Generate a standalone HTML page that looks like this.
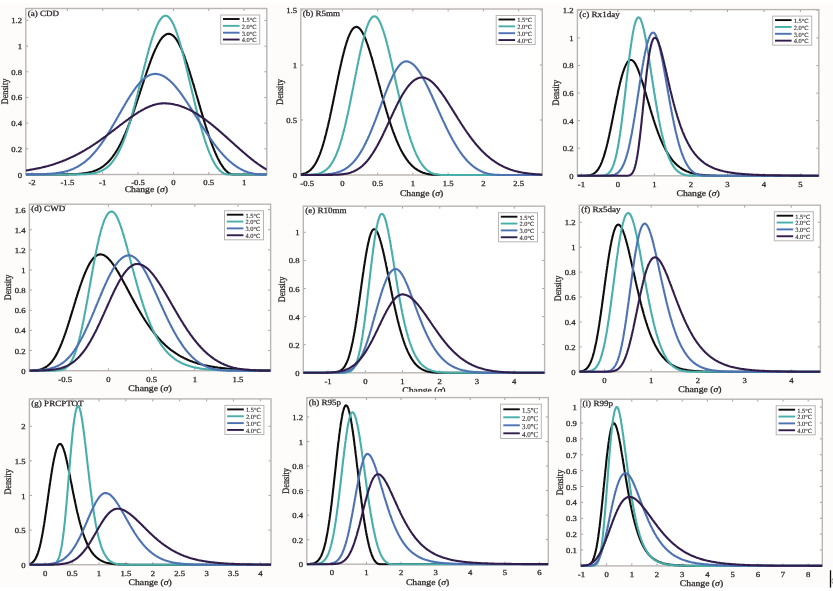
<!DOCTYPE html>
<html><head><meta charset="utf-8"><style>
html,body{margin:0;padding:0;background:#fdfcfa;}
svg{display:block;font-family:"Liberation Serif",serif;}
text{text-rendering:geometricPrecision;stroke:#2a2627;stroke-width:0.25px;}
text.lg{stroke-width:0.1px;}
</style></head><body>
<svg width="833" height="591" viewBox="0 0 833 591">
<defs><filter id="bl" x="0" y="0" width="833" height="591" filterUnits="userSpaceOnUse"><feGaussianBlur stdDeviation="0.5"/></filter></defs>
<g filter="url(#bl)">
<rect width="833" height="591" fill="#fdfcfa"/>
<rect width="833" height="3" fill="#fff"/><rect y="588" width="833" height="3" fill="#fff"/>
<rect x="25.8" y="8.5" width="241.00" height="166.00" fill="#fff"/>
<clipPath id="clipa"><rect x="25.8" y="7.5" width="241.00" height="168.60"/></clipPath>
<path d="M32.00,174.50v-2.4M32.00,8.50v2.4M67.35,174.50v-2.4M67.35,8.50v2.4M102.70,174.50v-2.4M102.70,8.50v2.4M138.05,174.50v-2.4M138.05,8.50v2.4M173.40,174.50v-2.4M173.40,8.50v2.4M208.75,174.50v-2.4M208.75,8.50v2.4M244.10,174.50v-2.4M244.10,8.50v2.4M25.80,174.50h2.4M266.80,174.50h-2.4M25.80,148.82h2.4M266.80,148.82h-2.4M25.80,123.14h2.4M266.80,123.14h-2.4M25.80,97.46h2.4M266.80,97.46h-2.4M25.80,71.78h2.4M266.80,71.78h-2.4M25.80,46.10h2.4M266.80,46.10h-2.4M25.80,20.42h2.4M266.80,20.42h-2.4" stroke="#8a8684" stroke-width="0.8" fill="none"/>
<rect x="25.8" y="8.5" width="241.00" height="166.00" fill="none" stroke="#b9b5b3" stroke-width="1.4"/>
<g clip-path="url(#clipa)" fill="none" stroke-width="2.1" stroke-linejoin="round">
<path d="M25.8,174.5 L26.7,174.5 L27.6,174.5 L28.5,174.5 L29.4,174.5 L30.3,174.5 L31.2,174.5 L32.1,174.5 L33.0,174.5 L33.9,174.5 L34.8,174.5 L35.7,174.5 L36.6,174.5 L37.5,174.5 L38.4,174.5 L39.3,174.5 L40.2,174.5 L41.1,174.5 L42.0,174.5 L42.9,174.5 L43.8,174.5 L44.7,174.5 L45.6,174.5 L46.5,174.5 L47.4,174.5 L48.3,174.5 L49.2,174.5 L50.1,174.5 L51.0,174.5 L51.9,174.5 L52.8,174.5 L53.7,174.5 L54.6,174.5 L55.5,174.5 L56.4,174.5 L57.3,174.5 L58.2,174.5 L59.1,174.5 L60.0,174.5 L60.9,174.5 L61.8,174.4 L62.7,174.4 L63.6,174.4 L64.5,174.4 L65.4,174.4 L66.3,174.4 L67.2,174.4 L68.1,174.4 L69.0,174.3 L69.9,174.3 L70.8,174.3 L71.7,174.3 L72.6,174.2 L73.5,174.2 L74.4,174.2 L75.3,174.1 L76.2,174.1 L77.1,174.0 L78.0,174.0 L78.9,173.9 L79.8,173.8 L80.7,173.7 L81.6,173.6 L82.5,173.5 L83.4,173.4 L84.3,173.3 L85.2,173.2 L86.0,173.0 L86.9,172.9 L87.8,172.7 L88.7,172.5 L89.6,172.3 L90.5,172.1 L91.3,171.9 L92.2,171.7 L93.0,171.4 L93.9,171.1 L94.7,170.8 L95.6,170.5 L96.4,170.1 L97.2,169.8 L98.0,169.4 L98.9,169.0 L99.6,168.5 L100.4,168.1 L101.2,167.6 L101.9,167.1 L102.7,166.6 L103.4,166.1 L104.1,165.5 L104.8,165.0 L105.5,164.4 L106.2,163.8 L106.9,163.2 L107.5,162.6 L108.2,161.9 L108.8,161.3 L109.4,160.6 L110.0,160.0 L110.6,159.3 L111.1,158.6 L111.7,157.9 L112.3,157.2 L112.8,156.5 L113.3,155.7 L113.9,155.0 L114.4,154.2 L114.9,153.5 L115.4,152.7 L115.9,152.0 L116.3,151.2 L116.8,150.5 L117.3,149.7 L117.7,148.9 L118.2,148.1 L118.6,147.4 L119.0,146.6 L119.5,145.7 L119.9,144.9 L120.3,144.2 L120.7,143.4 L121.1,142.6 L121.5,141.8 L121.9,140.9 L122.3,140.1 L122.7,139.3 L123.1,138.5 L123.4,137.7 L123.8,136.8 L124.2,136.0 L124.5,135.2 L124.9,134.4 L125.3,133.6 L125.6,132.7 L126.0,131.9 L126.3,131.1 L126.6,130.3 L127.0,129.4 L127.3,128.6 L127.7,127.7 L128.0,126.9 L128.3,126.1 L128.6,125.2 L129.0,124.4 L129.3,123.6 L129.6,122.7 L129.9,121.9 L130.2,121.0 L130.5,120.2 L130.9,119.3 L131.2,118.5 L131.5,117.6 L131.8,116.8 L132.1,115.9 L132.4,115.1 L132.7,114.2 L133.0,113.4 L133.3,112.5 L133.6,111.7 L133.9,110.9 L134.2,110.0 L134.5,109.1 L134.7,108.3 L135.0,107.4 L135.3,106.6 L135.6,105.8 L135.9,104.9 L136.2,104.0 L136.5,103.2 L136.8,102.3 L137.0,101.4 L137.3,100.6 L137.6,99.7 L137.9,98.9 L138.2,98.0 L138.4,97.2 L138.7,96.3 L139.0,95.5 L139.3,94.6 L139.6,93.8 L139.8,92.9 L140.1,92.0 L140.4,91.2 L140.7,90.3 L141.0,89.5 L141.2,88.6 L141.5,87.8 L141.8,86.9 L142.1,86.1 L142.3,85.2 L142.6,84.4 L142.9,83.5 L143.2,82.7 L143.5,81.8 L143.7,80.9 L144.0,80.1 L144.3,79.2 L144.6,78.3 L144.9,77.5 L145.2,76.6 L145.4,75.8 L145.7,75.0 L146.0,74.1 L146.3,73.3 L146.6,72.4 L146.9,71.5 L147.2,70.7 L147.5,69.9 L147.8,69.0 L148.1,68.1 L148.4,67.3 L148.7,66.4 L149.0,65.6 L149.3,64.7 L149.6,63.9 L149.9,63.1 L150.2,62.2 L150.5,61.3 L150.8,60.5 L151.1,59.7 L151.4,58.8 L151.8,58.0 L152.1,57.1 L152.4,56.3 L152.8,55.5 L153.1,54.6 L153.4,53.8 L153.8,53.0 L154.1,52.2 L154.5,51.3 L154.9,50.5 L155.2,49.7 L155.6,48.9 L156.0,48.1 L156.4,47.2 L156.8,46.5 L157.2,45.6 L157.6,44.9 L158.0,44.0 L158.5,43.2 L158.9,42.5 L159.4,41.7 L159.8,40.9 L160.3,40.2 L160.8,39.5 L161.4,38.7 L161.9,38.0 L162.5,37.3 L163.1,36.7 L163.8,36.1 L164.5,35.5 L165.2,35.0 L166.0,34.5 L166.8,34.1 L167.7,33.9 L168.6,33.8 L169.5,33.9 L170.3,34.1 L171.2,34.4 L171.9,34.8 L172.7,35.4 L173.4,36.0 L174.0,36.6 L174.6,37.2 L175.2,37.9 L175.8,38.7 L176.3,39.4 L176.8,40.1 L177.3,40.9 L177.7,41.7 L178.2,42.4 L178.6,43.2 L179.0,44.0 L179.4,44.8 L179.8,45.6 L180.2,46.5 L180.6,47.3 L181.0,48.1 L181.4,48.9 L181.7,49.7 L182.1,50.5 L182.4,51.4 L182.8,52.2 L183.1,53.1 L183.4,53.9 L183.7,54.7 L184.1,55.5 L184.4,56.4 L184.7,57.3 L185.0,58.1 L185.3,59.0 L185.6,59.8 L185.9,60.7 L186.2,61.5 L186.5,62.3 L186.8,63.2 L187.1,64.0 L187.4,64.9 L187.7,65.8 L187.9,66.6 L188.2,67.5 L188.5,68.3 L188.8,69.2 L189.0,70.0 L189.3,70.9 L189.6,71.7 L189.9,72.6 L190.1,73.5 L190.4,74.4 L190.7,75.2 L190.9,76.0 L191.2,76.9 L191.4,77.8 L191.7,78.6 L192.0,79.5 L192.2,80.3 L192.5,81.2 L192.7,82.1 L193.0,83.0 L193.3,83.8 L193.5,84.7 L193.8,85.5 L194.0,86.4 L194.3,87.2 L194.5,88.1 L194.8,89.0 L195.0,89.8 L195.3,90.7 L195.5,91.6 L195.8,92.5 L196.0,93.3 L196.3,94.2 L196.5,95.0 L196.8,95.9 L197.0,96.7 L197.3,97.6 L197.5,98.5 L197.8,99.4 L198.0,100.2 L198.3,101.1 L198.5,101.9 L198.8,102.8 L199.0,103.7 L199.3,104.6 L199.5,105.4 L199.8,106.3 L200.0,107.2 L200.3,108.0 L200.5,108.9 L200.8,109.8 L201.0,110.6 L201.3,111.5 L201.6,112.4 L201.8,113.2 L202.1,114.0 L202.3,114.9 L202.6,115.8 L202.8,116.7 L203.1,117.5 L203.4,118.4 L203.6,119.2 L203.9,120.1 L204.1,121.0 L204.4,121.8 L204.7,122.7 L204.9,123.6 L205.2,124.4 L205.5,125.2 L205.7,126.1 L206.0,126.9 L206.3,127.8 L206.6,128.7 L206.8,129.5 L207.1,130.4 L207.4,131.2 L207.7,132.1 L207.9,132.9 L208.2,133.8 L208.5,134.7 L208.8,135.5 L209.1,136.4 L209.4,137.2 L209.7,138.1 L210.0,138.9 L210.3,139.8 L210.6,140.6 L210.9,141.5 L211.2,142.3 L211.5,143.2 L211.8,144.0 L212.1,144.8 L212.4,145.7 L212.8,146.5 L213.1,147.4 L213.4,148.2 L213.8,149.0 L214.1,149.9 L214.4,150.7 L214.8,151.5 L215.1,152.4 L215.5,153.2 L215.9,154.0 L216.2,154.8 L216.6,155.7 L217.0,156.5 L217.4,157.3 L217.7,158.1 L218.1,158.9 L218.6,159.7 L219.0,160.5 L219.4,161.3 L219.8,162.1 L220.3,162.9 L220.7,163.6 L221.2,164.4 L221.7,165.2 L222.2,165.9 L222.7,166.7 L223.2,167.4 L223.7,168.1 L224.3,168.8 L224.9,169.5 L225.5,170.2 L226.1,170.8 L226.8,171.4 L227.4,172.0 L228.1,172.6 L228.9,173.1 L229.7,173.5 L230.5,173.9 L231.3,174.2 L232.2,174.4 L233.1,174.5 L234.0,174.5 L234.9,174.5 L235.8,174.5 L236.7,174.5 L237.6,174.5 L238.5,174.5 L239.4,174.5 L240.3,174.5 L241.2,174.5 L242.1,174.5 L243.0,174.5 L243.9,174.5 L244.8,174.5 L245.7,174.5 L246.6,174.5 L247.5,174.5 L248.4,174.5 L249.3,174.5 L250.2,174.5 L251.1,174.5 L252.0,174.5 L252.9,174.5 L253.8,174.5 L254.7,174.5 L255.6,174.5 L256.5,174.5 L257.4,174.5 L258.3,174.5 L259.2,174.5 L260.1,174.5 L261.0,174.5 L261.9,174.5 L262.8,174.5 L263.7,174.5 L264.6,174.5 L265.5,174.5 L266.4,174.5 L266.8,174.5" stroke="#0e0c0d"/>
<path d="M25.8,174.5 L26.7,174.5 L27.6,174.5 L28.5,174.5 L29.4,174.5 L30.3,174.5 L31.2,174.5 L32.1,174.5 L33.0,174.5 L33.9,174.5 L34.8,174.5 L35.7,174.5 L36.6,174.5 L37.5,174.5 L38.4,174.5 L39.3,174.5 L40.2,174.5 L41.1,174.5 L42.0,174.5 L42.9,174.5 L43.8,174.5 L44.7,174.5 L45.6,174.5 L46.5,174.5 L47.4,174.5 L48.3,174.5 L49.2,174.5 L50.1,174.5 L51.0,174.5 L51.9,174.5 L52.8,174.5 L53.7,174.5 L54.6,174.5 L55.5,174.5 L56.4,174.5 L57.3,174.5 L58.2,174.5 L59.1,174.5 L60.0,174.5 L60.9,174.5 L61.8,174.5 L62.7,174.5 L63.6,174.5 L64.5,174.5 L65.4,174.5 L66.3,174.5 L67.2,174.5 L68.1,174.5 L69.0,174.5 L69.9,174.5 L70.8,174.5 L71.7,174.5 L72.6,174.5 L73.5,174.5 L74.4,174.4 L75.3,174.4 L76.2,174.4 L77.1,174.4 L78.0,174.4 L78.9,174.4 L79.8,174.4 L80.7,174.3 L81.6,174.3 L82.5,174.3 L83.4,174.2 L84.3,174.2 L85.2,174.1 L86.1,174.1 L87.0,174.0 L87.9,173.9 L88.8,173.9 L89.7,173.8 L90.6,173.7 L91.5,173.5 L92.4,173.4 L93.3,173.3 L94.1,173.1 L95.0,172.9 L95.9,172.7 L96.8,172.5 L97.6,172.2 L98.5,172.0 L99.3,171.7 L100.2,171.3 L101.0,171.0 L101.8,170.6 L102.6,170.2 L103.4,169.8 L104.2,169.3 L105.0,168.9 L105.7,168.3 L106.4,167.8 L107.1,167.3 L107.8,166.7 L108.5,166.1 L109.2,165.5 L109.8,164.8 L110.4,164.2 L111.0,163.5 L111.6,162.8 L112.2,162.1 L112.8,161.4 L113.3,160.7 L113.8,160.0 L114.3,159.3 L114.8,158.5 L115.3,157.8 L115.8,157.0 L116.3,156.2 L116.7,155.5 L117.2,154.7 L117.6,153.9 L118.1,153.1 L118.5,152.3 L118.9,151.5 L119.3,150.7 L119.7,149.9 L120.1,149.1 L120.5,148.2 L120.8,147.4 L121.2,146.6 L121.6,145.8 L121.9,144.9 L122.3,144.1 L122.6,143.3 L122.9,142.5 L123.3,141.6 L123.6,140.8 L123.9,139.9 L124.3,139.1 L124.6,138.3 L124.9,137.4 L125.2,136.6 L125.5,135.7 L125.8,134.8 L126.1,134.0 L126.4,133.2 L126.7,132.3 L127.0,131.5 L127.2,130.6 L127.5,129.8 L127.8,128.9 L128.1,128.0 L128.4,127.2 L128.6,126.3 L128.9,125.4 L129.2,124.6 L129.4,123.7 L129.7,122.9 L129.9,122.0 L130.2,121.2 L130.5,120.3 L130.7,119.5 L131.0,118.6 L131.2,117.7 L131.5,116.8 L131.7,116.0 L132.0,115.1 L132.2,114.2 L132.4,113.4 L132.7,112.5 L132.9,111.6 L133.2,110.7 L133.4,109.9 L133.6,109.1 L133.9,108.2 L134.1,107.3 L134.3,106.4 L134.6,105.5 L134.8,104.7 L135.0,103.8 L135.2,103.0 L135.5,102.0 L135.7,101.2 L135.9,100.3 L136.1,99.5 L136.4,98.6 L136.6,97.7 L136.8,96.8 L137.0,96.0 L137.3,95.1 L137.5,94.2 L137.7,93.4 L137.9,92.5 L138.1,91.6 L138.4,90.7 L138.6,89.9 L138.8,89.0 L139.0,88.1 L139.2,87.2 L139.5,86.3 L139.7,85.5 L139.9,84.7 L140.1,83.8 L140.3,82.9 L140.5,82.0 L140.8,81.1 L141.0,80.2 L141.2,79.4 L141.4,78.5 L141.6,77.6 L141.8,76.8 L142.1,75.9 L142.3,75.0 L142.5,74.2 L142.7,73.3 L142.9,72.4 L143.1,71.5 L143.4,70.6 L143.6,69.8 L143.8,68.9 L144.0,68.0 L144.2,67.1 L144.5,66.3 L144.7,65.4 L144.9,64.5 L145.1,63.7 L145.3,62.8 L145.6,62.0 L145.8,61.0 L146.0,60.2 L146.2,59.3 L146.5,58.4 L146.7,57.6 L146.9,56.7 L147.2,55.8 L147.4,54.9 L147.6,54.1 L147.9,53.2 L148.1,52.3 L148.3,51.5 L148.6,50.6 L148.8,49.7 L149.1,48.9 L149.3,48.0 L149.5,47.2 L149.8,46.3 L150.0,45.4 L150.3,44.5 L150.6,43.7 L150.8,42.9 L151.1,42.0 L151.3,41.1 L151.6,40.2 L151.9,39.4 L152.1,38.5 L152.4,37.7 L152.7,36.8 L153.0,36.0 L153.3,35.1 L153.6,34.3 L153.9,33.4 L154.2,32.6 L154.5,31.7 L154.8,30.9 L155.1,30.0 L155.4,29.2 L155.8,28.4 L156.1,27.6 L156.5,26.7 L156.8,25.9 L157.2,25.1 L157.6,24.3 L158.0,23.5 L158.4,22.7 L158.8,21.9 L159.3,21.1 L159.8,20.4 L160.3,19.6 L160.8,18.9 L161.4,18.2 L162.0,17.5 L162.7,16.9 L163.4,16.4 L164.2,16.0 L165.1,15.8 L166.0,15.8 L166.9,16.0 L167.7,16.4 L168.4,16.9 L169.1,17.5 L169.7,18.2 L170.3,18.9 L170.8,19.6 L171.3,20.3 L171.7,21.1 L172.2,21.9 L172.6,22.7 L173.0,23.5 L173.4,24.3 L173.8,25.1 L174.1,25.9 L174.5,26.8 L174.8,27.6 L175.2,28.5 L175.5,29.3 L175.8,30.1 L176.1,31.0 L176.4,31.9 L176.7,32.7 L177.0,33.5 L177.3,34.4 L177.6,35.3 L177.9,36.1 L178.1,36.9 L178.4,37.8 L178.7,38.7 L178.9,39.5 L179.2,40.4 L179.5,41.2 L179.7,42.1 L180.0,43.0 L180.2,43.8 L180.5,44.7 L180.7,45.6 L181.0,46.5 L181.2,47.3 L181.4,48.2 L181.7,49.0 L181.9,49.9 L182.1,50.8 L182.4,51.6 L182.6,52.6 L182.8,53.4 L183.0,54.2 L183.3,55.2 L183.5,56.0 L183.7,56.9 L183.9,57.8 L184.2,58.6 L184.4,59.5 L184.6,60.4 L184.8,61.3 L185.0,62.2 L185.2,63.0 L185.5,63.9 L185.7,64.8 L185.9,65.7 L186.1,66.5 L186.3,67.4 L186.5,68.2 L186.7,69.1 L186.9,70.0 L187.2,70.9 L187.4,71.7 L187.6,72.6 L187.8,73.5 L188.0,74.4 L188.2,75.2 L188.4,76.2 L188.6,77.0 L188.8,77.9 L189.0,78.8 L189.2,79.6 L189.4,80.5 L189.7,81.4 L189.9,82.3 L190.1,83.1 L190.3,84.0 L190.5,84.9 L190.7,85.7 L190.9,86.7 L191.1,87.5 L191.3,88.4 L191.5,89.3 L191.7,90.1 L191.9,91.0 L192.1,91.9 L192.3,92.8 L192.6,93.7 L192.8,94.5 L193.0,95.4 L193.2,96.3 L193.4,97.1 L193.6,98.0 L193.8,98.9 L194.0,99.8 L194.2,100.6 L194.4,101.5 L194.7,102.4 L194.9,103.3 L195.1,104.2 L195.3,105.1 L195.5,105.9 L195.7,106.8 L195.9,107.7 L196.2,108.6 L196.4,109.4 L196.6,110.2 L196.8,111.1 L197.0,112.0 L197.2,112.9 L197.5,113.7 L197.7,114.7 L197.9,115.5 L198.1,116.4 L198.4,117.2 L198.6,118.1 L198.8,119.0 L199.1,119.9 L199.3,120.7 L199.5,121.6 L199.7,122.4 L200.0,123.3 L200.2,124.2 L200.5,125.1 L200.7,125.9 L200.9,126.8 L201.2,127.7 L201.4,128.5 L201.7,129.4 L201.9,130.3 L202.2,131.1 L202.4,132.0 L202.7,132.9 L202.9,133.7 L203.2,134.6 L203.4,135.4 L203.7,136.3 L204.0,137.2 L204.2,138.0 L204.5,138.9 L204.8,139.8 L205.1,140.6 L205.3,141.4 L205.6,142.3 L205.9,143.2 L206.2,144.0 L206.5,144.9 L206.8,145.7 L207.1,146.6 L207.4,147.4 L207.7,148.2 L208.0,149.1 L208.3,149.9 L208.7,150.8 L209.0,151.6 L209.3,152.4 L209.7,153.3 L210.0,154.1 L210.4,154.9 L210.7,155.8 L211.1,156.6 L211.5,157.4 L211.8,158.2 L212.2,159.0 L212.6,159.8 L213.0,160.6 L213.4,161.4 L213.9,162.2 L214.3,163.0 L214.8,163.8 L215.2,164.5 L215.7,165.3 L216.2,166.1 L216.7,166.8 L217.2,167.5 L217.8,168.3 L218.4,168.9 L219.0,169.6 L219.6,170.3 L220.2,170.9 L220.9,171.5 L221.6,172.0 L222.3,172.6 L223.1,173.0 L223.9,173.4 L224.7,173.8 L225.6,174.1 L226.5,174.3 L227.4,174.4 L228.3,174.5 L229.2,174.5 L230.1,174.5 L231.0,174.5 L231.9,174.5 L232.8,174.5 L233.7,174.5 L234.6,174.5 L235.5,174.5 L236.4,174.5 L237.3,174.5 L238.2,174.5 L239.1,174.5 L240.0,174.5 L240.9,174.5 L241.8,174.5 L242.7,174.5 L243.6,174.5 L244.5,174.5 L245.4,174.5 L246.3,174.5 L247.2,174.5 L248.1,174.5 L249.0,174.5 L249.9,174.5 L250.8,174.5 L251.7,174.5 L252.6,174.5 L253.5,174.5 L254.4,174.5 L255.3,174.5 L256.2,174.5 L257.1,174.5 L258.0,174.5 L258.9,174.5 L259.8,174.5 L260.7,174.5 L261.6,174.5 L262.5,174.5 L263.4,174.5 L264.3,174.5 L265.2,174.5 L266.1,174.5 L266.8,174.5" stroke="#47aeaa"/>
<path d="M25.8,174.5 L26.7,174.5 L27.6,174.4 L28.5,174.4 L29.4,174.4 L30.3,174.4 L31.2,174.4 L32.1,174.4 L33.0,174.4 L33.9,174.4 L34.8,174.4 L35.7,174.4 L36.6,174.3 L37.5,174.3 L38.4,174.3 L39.3,174.3 L40.2,174.3 L41.1,174.2 L42.0,174.2 L42.9,174.2 L43.8,174.1 L44.7,174.1 L45.6,174.0 L46.5,174.0 L47.4,173.9 L48.3,173.9 L49.2,173.8 L50.1,173.8 L51.0,173.7 L51.9,173.6 L52.8,173.5 L53.7,173.5 L54.6,173.4 L55.5,173.2 L56.4,173.1 L57.3,173.0 L58.1,172.9 L59.0,172.8 L59.9,172.6 L60.8,172.5 L61.7,172.3 L62.6,172.1 L63.5,171.9 L64.3,171.7 L65.2,171.5 L66.1,171.3 L66.9,171.0 L67.8,170.8 L68.7,170.5 L69.5,170.2 L70.4,169.9 L71.2,169.6 L72.1,169.3 L72.9,169.0 L73.7,168.6 L74.5,168.2 L75.3,167.8 L76.2,167.4 L77.0,167.0 L77.7,166.6 L78.5,166.2 L79.3,165.7 L80.1,165.2 L80.8,164.7 L81.6,164.2 L82.3,163.7 L83.1,163.2 L83.8,162.7 L84.5,162.1 L85.2,161.6 L85.9,161.0 L86.6,160.4 L87.3,159.8 L87.9,159.2 L88.6,158.6 L89.3,158.0 L89.9,157.4 L90.5,156.7 L91.2,156.1 L91.8,155.5 L92.4,154.8 L93.0,154.1 L93.6,153.5 L94.2,152.8 L94.8,152.1 L95.4,151.4 L96.0,150.7 L96.5,150.0 L97.1,149.3 L97.7,148.6 L98.2,147.9 L98.8,147.2 L99.3,146.5 L99.8,145.8 L100.4,145.0 L100.9,144.3 L101.4,143.6 L101.9,142.8 L102.5,142.1 L103.0,141.4 L103.5,140.6 L104.0,139.8 L104.5,139.1 L105.0,138.4 L105.5,137.6 L105.9,136.9 L106.4,136.1 L106.9,135.3 L107.4,134.6 L107.9,133.8 L108.3,133.0 L108.8,132.3 L109.3,131.5 L109.7,130.8 L110.2,130.0 L110.7,129.2 L111.1,128.4 L111.6,127.6 L112.1,126.9 L112.5,126.1 L113.0,125.3 L113.4,124.5 L113.9,123.8 L114.3,123.0 L114.8,122.2 L115.2,121.4 L115.7,120.7 L116.1,119.8 L116.6,119.1 L117.0,118.3 L117.5,117.5 L117.9,116.7 L118.3,116.0 L118.8,115.2 L119.2,114.4 L119.7,113.6 L120.1,112.8 L120.6,112.1 L121.0,111.2 L121.5,110.5 L121.9,109.7 L122.4,108.9 L122.8,108.1 L123.3,107.3 L123.7,106.6 L124.2,105.8 L124.6,105.0 L125.1,104.3 L125.5,103.5 L126.0,102.7 L126.4,101.9 L126.9,101.2 L127.4,100.4 L127.8,99.6 L128.3,98.8 L128.8,98.1 L129.3,97.3 L129.7,96.6 L130.2,95.8 L130.7,95.0 L131.2,94.3 L131.7,93.5 L132.2,92.8 L132.7,92.0 L133.2,91.3 L133.7,90.6 L134.2,89.8 L134.8,89.1 L135.3,88.4 L135.8,87.7 L136.4,86.9 L136.9,86.2 L137.5,85.5 L138.1,84.8 L138.7,84.1 L139.2,83.5 L139.8,82.8 L140.4,82.1 L141.1,81.5 L141.7,80.8 L142.4,80.2 L143.0,79.6 L143.7,79.0 L144.4,78.4 L145.1,77.9 L145.8,77.3 L146.6,76.8 L147.3,76.3 L148.1,75.9 L148.9,75.5 L149.7,75.1 L150.5,74.8 L151.4,74.5 L152.3,74.3 L153.2,74.1 L154.0,74.0 L154.9,73.9 L155.8,73.9 L156.7,74.0 L157.6,74.1 L158.5,74.3 L159.4,74.5 L160.3,74.7 L161.1,75.0 L161.9,75.4 L162.8,75.8 L163.6,76.2 L164.3,76.6 L165.1,77.1 L165.9,77.6 L166.6,78.1 L167.3,78.6 L168.0,79.2 L168.7,79.8 L169.4,80.3 L170.1,80.9 L170.7,81.6 L171.4,82.2 L172.0,82.8 L172.7,83.5 L173.3,84.1 L173.9,84.8 L174.5,85.4 L175.1,86.1 L175.7,86.8 L176.2,87.5 L176.8,88.2 L177.4,88.9 L177.9,89.6 L178.5,90.3 L179.1,91.0 L179.6,91.7 L180.1,92.4 L180.7,93.2 L181.2,93.9 L181.7,94.6 L182.3,95.4 L182.8,96.1 L183.3,96.8 L183.8,97.6 L184.3,98.3 L184.8,99.0 L185.3,99.8 L185.8,100.6 L186.3,101.3 L186.8,102.0 L187.3,102.8 L187.8,103.6 L188.3,104.3 L188.8,105.1 L189.3,105.8 L189.8,106.6 L190.3,107.3 L190.7,108.1 L191.2,108.8 L191.7,109.6 L192.2,110.4 L192.7,111.1 L193.2,111.9 L193.6,112.7 L194.1,113.4 L194.6,114.2 L195.1,114.9 L195.5,115.7 L196.0,116.5 L196.5,117.2 L197.0,118.0 L197.5,118.8 L197.9,119.5 L198.4,120.3 L198.9,121.1 L199.4,121.8 L199.9,122.6 L200.3,123.3 L200.8,124.1 L201.3,124.8 L201.8,125.6 L202.3,126.3 L202.8,127.1 L203.2,127.9 L203.7,128.6 L204.2,129.4 L204.7,130.1 L205.2,130.9 L205.7,131.6 L206.2,132.4 L206.7,133.2 L207.2,133.9 L207.7,134.6 L208.2,135.4 L208.7,136.1 L209.2,136.9 L209.7,137.6 L210.2,138.4 L210.8,139.1 L211.3,139.8 L211.8,140.6 L212.3,141.3 L212.8,142.0 L213.4,142.7 L213.9,143.5 L214.4,144.2 L215.0,144.9 L215.5,145.6 L216.1,146.3 L216.6,147.1 L217.2,147.8 L217.8,148.5 L218.3,149.2 L218.9,149.9 L219.5,150.6 L220.0,151.2 L220.6,151.9 L221.2,152.6 L221.8,153.3 L222.4,154.0 L223.0,154.6 L223.6,155.3 L224.2,155.9 L224.8,156.6 L225.5,157.2 L226.1,157.9 L226.7,158.5 L227.4,159.1 L228.0,159.8 L228.7,160.4 L229.4,161.0 L230.0,161.6 L230.7,162.2 L231.4,162.7 L232.1,163.3 L232.8,163.9 L233.5,164.4 L234.2,165.0 L235.0,165.5 L235.7,166.0 L236.4,166.5 L237.2,167.0 L238.0,167.5 L238.7,168.0 L239.5,168.4 L240.3,168.9 L241.1,169.3 L241.9,169.7 L242.7,170.1 L243.5,170.5 L244.3,170.8 L245.2,171.2 L246.0,171.5 L246.8,171.8 L247.7,172.1 L248.5,172.4 L249.4,172.7 L250.3,172.9 L251.1,173.1 L252.0,173.3 L252.9,173.5 L253.8,173.7 L254.7,173.8 L255.6,174.0 L256.5,174.1 L257.3,174.2 L258.2,174.3 L259.1,174.4 L260.0,174.4 L260.9,174.4 L261.8,174.5 L262.7,174.5 L263.6,174.5 L264.5,174.5 L265.4,174.5 L266.3,174.5 L266.8,174.5" stroke="#4d72b4"/>
<path d="M25.8,170.5 L26.7,170.4 L27.6,170.2 L28.5,170.1 L29.4,169.9 L30.3,169.8 L31.1,169.6 L32.0,169.5 L32.9,169.3 L33.8,169.2 L34.7,169.0 L35.6,168.8 L36.5,168.6 L37.3,168.5 L38.2,168.3 L39.1,168.1 L40.0,167.9 L40.9,167.7 L41.7,167.5 L42.6,167.3 L43.5,167.1 L44.4,166.9 L45.2,166.6 L46.1,166.4 L47.0,166.2 L47.8,166.0 L48.7,165.7 L49.6,165.5 L50.4,165.2 L51.3,165.0 L52.2,164.7 L53.0,164.4 L53.9,164.2 L54.7,163.9 L55.6,163.6 L56.4,163.3 L57.3,163.0 L58.1,162.7 L59.0,162.4 L59.8,162.1 L60.7,161.8 L61.5,161.5 L62.4,161.2 L63.2,160.8 L64.0,160.5 L64.9,160.2 L65.7,159.8 L66.5,159.5 L67.4,159.1 L68.2,158.8 L69.0,158.4 L69.8,158.0 L70.6,157.6 L71.5,157.3 L72.3,156.9 L73.1,156.5 L73.9,156.1 L74.7,155.7 L75.5,155.3 L76.3,154.9 L77.1,154.5 L77.9,154.1 L78.7,153.6 L79.5,153.2 L80.3,152.8 L81.1,152.3 L81.9,151.9 L82.6,151.5 L83.4,151.0 L84.2,150.6 L85.0,150.1 L85.7,149.6 L86.5,149.2 L87.3,148.7 L88.1,148.2 L88.8,147.8 L89.6,147.3 L90.3,146.8 L91.1,146.3 L91.9,145.8 L92.6,145.3 L93.4,144.9 L94.1,144.4 L94.9,143.9 L95.6,143.4 L96.4,142.8 L97.1,142.3 L97.8,141.8 L98.6,141.3 L99.3,140.8 L100.0,140.3 L100.8,139.8 L101.5,139.2 L102.2,138.7 L103.0,138.2 L103.7,137.7 L104.4,137.1 L105.2,136.6 L105.9,136.1 L106.6,135.5 L107.3,135.0 L108.0,134.5 L108.8,133.9 L109.5,133.4 L110.2,132.8 L110.9,132.3 L111.6,131.7 L112.4,131.2 L113.1,130.6 L113.8,130.1 L114.5,129.6 L115.2,129.0 L115.9,128.5 L116.7,127.9 L117.4,127.4 L118.1,126.8 L118.8,126.3 L119.5,125.7 L120.2,125.2 L120.9,124.7 L121.7,124.1 L122.4,123.6 L123.1,123.0 L123.8,122.5 L124.5,121.9 L125.3,121.4 L126.0,120.9 L126.7,120.3 L127.4,119.8 L128.2,119.3 L128.9,118.7 L129.6,118.2 L130.4,117.7 L131.1,117.2 L131.8,116.7 L132.6,116.2 L133.3,115.6 L134.1,115.1 L134.8,114.6 L135.6,114.1 L136.3,113.6 L137.1,113.2 L137.8,112.7 L138.6,112.2 L139.4,111.7 L140.1,111.3 L140.9,110.8 L141.7,110.4 L142.5,109.9 L143.3,109.5 L144.1,109.1 L144.8,108.7 L145.7,108.2 L146.5,107.8 L147.3,107.5 L148.1,107.1 L148.9,106.7 L149.7,106.4 L150.6,106.1 L151.4,105.7 L152.3,105.4 L153.1,105.1 L154.0,104.9 L154.9,104.6 L155.7,104.4 L156.6,104.2 L157.5,104.0 L158.4,103.8 L159.2,103.7 L160.1,103.6 L161.0,103.5 L161.9,103.4 L162.8,103.4 L163.7,103.3 L164.6,103.3 L165.5,103.4 L166.4,103.4 L167.3,103.5 L168.2,103.5 L169.1,103.6 L170.0,103.7 L170.9,103.8 L171.8,104.0 L172.7,104.1 L173.6,104.3 L174.5,104.5 L175.3,104.7 L176.2,104.9 L177.1,105.1 L177.9,105.3 L178.8,105.6 L179.7,105.8 L180.5,106.1 L181.4,106.4 L182.2,106.7 L183.1,107.0 L183.9,107.3 L184.8,107.7 L185.6,108.0 L186.4,108.4 L187.2,108.7 L188.0,109.1 L188.9,109.5 L189.7,109.9 L190.5,110.3 L191.3,110.7 L192.1,111.1 L192.9,111.6 L193.6,112.0 L194.4,112.4 L195.2,112.9 L196.0,113.4 L196.7,113.8 L197.5,114.3 L198.3,114.8 L199.0,115.3 L199.8,115.8 L200.5,116.3 L201.3,116.8 L202.0,117.3 L202.8,117.8 L203.5,118.3 L204.2,118.8 L205.0,119.4 L205.7,119.9 L206.4,120.4 L207.1,121.0 L207.8,121.5 L208.6,122.1 L209.3,122.6 L210.0,123.2 L210.7,123.7 L211.4,124.3 L212.1,124.8 L212.8,125.4 L213.5,126.0 L214.2,126.6 L214.9,127.1 L215.6,127.7 L216.3,128.3 L216.9,128.9 L217.6,129.4 L218.3,130.0 L219.0,130.6 L219.7,131.2 L220.4,131.8 L221.0,132.4 L221.7,133.0 L222.4,133.6 L223.1,134.2 L223.7,134.8 L224.4,135.4 L225.1,136.0 L225.8,136.6 L226.4,137.1 L227.1,137.8 L227.8,138.3 L228.4,139.0 L229.1,139.5 L229.8,140.2 L230.4,140.8 L231.1,141.4 L231.8,142.0 L232.5,142.6 L233.1,143.2 L233.8,143.8 L234.5,144.4 L235.1,145.0 L235.8,145.6 L236.5,146.2 L237.1,146.8 L237.8,147.4 L238.5,148.0 L239.2,148.6 L239.8,149.2 L240.5,149.8 L241.2,150.3 L241.9,150.9 L242.5,151.5 L243.2,152.1 L243.9,152.7 L244.6,153.3 L245.3,153.9 L246.0,154.5 L246.6,155.0 L247.3,155.6 L248.0,156.2 L248.7,156.8 L249.4,157.4 L250.1,157.9 L250.8,158.5 L251.5,159.1 L252.2,159.6 L252.9,160.2 L253.6,160.7 L254.3,161.3 L255.1,161.8 L255.8,162.4 L256.5,162.9 L257.2,163.4 L258.0,164.0 L258.7,164.5 L259.4,165.0 L260.2,165.5 L260.9,166.0 L261.7,166.5 L262.4,167.0 L263.2,167.5 L263.9,168.0 L264.7,168.4 L265.5,168.9 L266.2,169.4 L266.8,169.7" stroke="#311f4c"/>
</g>
<g font-size="7.7" fill="#1e1a1b">
<text transform="matrix(1.13 0 0 1 32.00 185.30)" text-anchor="middle">-2</text>
<text transform="matrix(1.13 0 0 1 67.35 185.30)" text-anchor="middle">-1.5</text>
<text transform="matrix(1.13 0 0 1 102.70 185.30)" text-anchor="middle">-1</text>
<text transform="matrix(1.13 0 0 1 138.05 185.30)" text-anchor="middle">-0.5</text>
<text transform="matrix(1.13 0 0 1 173.40 185.30)" text-anchor="middle">0</text>
<text transform="matrix(1.13 0 0 1 208.75 185.30)" text-anchor="middle">0.5</text>
<text transform="matrix(1.13 0 0 1 244.10 185.30)" text-anchor="middle">1</text>
<text transform="matrix(1.13 0 0 1 22.00 177.50)" text-anchor="end">0</text>
<text transform="matrix(1.13 0 0 1 22.00 151.82)" text-anchor="end">0.2</text>
<text transform="matrix(1.13 0 0 1 22.00 126.14)" text-anchor="end">0.4</text>
<text transform="matrix(1.13 0 0 1 22.00 100.46)" text-anchor="end">0.6</text>
<text transform="matrix(1.13 0 0 1 22.00 74.78)" text-anchor="end">0.8</text>
<text transform="matrix(1.13 0 0 1 22.00 49.10)" text-anchor="end">1</text>
<text transform="matrix(1.13 0 0 1 22.00 23.42)" text-anchor="end">1.2</text>
</g>
<text transform="matrix(1.13 0 0 1 27.70 15.50)" font-size="8.0" fill="#1e1a1b">(a) CDD</text>
<text x="146.30" y="191.60" font-size="8.6" fill="#1e1a1b" text-anchor="middle" textLength="43.3" lengthAdjust="spacingAndGlyphs">Change (<tspan font-style="italic">σ</tspan>)</text>
<text transform="translate(7.80,91.50) rotate(-90) scale(1,1.13)" font-size="8.7" fill="#1e1a1b" text-anchor="middle" textLength="25.6" lengthAdjust="spacingAndGlyphs">Density</text>
<rect x="220.70" y="15.00" width="39.0" height="29.1" fill="#fff" stroke="#b9b5b3" stroke-width="1"/>
<path d="M223.00,19.00H239.60" stroke="#0e0c0d" stroke-width="1.9"/>
<text class="lg" x="241.70" y="21.84" font-size="6.3" fill="#2a2627" textLength="14.9" lengthAdjust="spacingAndGlyphs">1.5°C</text>
<path d="M223.00,25.85H239.60" stroke="#47aeaa" stroke-width="1.9"/>
<text class="lg" x="241.70" y="28.69" font-size="6.3" fill="#2a2627" textLength="14.9" lengthAdjust="spacingAndGlyphs">2.0°C</text>
<path d="M223.00,32.70H239.60" stroke="#4d72b4" stroke-width="1.9"/>
<text class="lg" x="241.70" y="35.54" font-size="6.3" fill="#2a2627" textLength="14.9" lengthAdjust="spacingAndGlyphs">3.0°C</text>
<path d="M223.00,39.55H239.60" stroke="#311f4c" stroke-width="1.9"/>
<text class="lg" x="241.70" y="42.38" font-size="6.3" fill="#2a2627" textLength="14.9" lengthAdjust="spacingAndGlyphs">4.0°C</text>
<rect x="300.8" y="9.0" width="241.50" height="166.00" fill="#fff"/>
<clipPath id="clipb"><rect x="300.8" y="8.0" width="241.50" height="168.60"/></clipPath>
<path d="M307.15,175.00v-2.4M307.15,9.00v2.4M342.40,175.00v-2.4M342.40,9.00v2.4M377.65,175.00v-2.4M377.65,9.00v2.4M412.90,175.00v-2.4M412.90,9.00v2.4M448.15,175.00v-2.4M448.15,9.00v2.4M483.40,175.00v-2.4M483.40,9.00v2.4M518.65,175.00v-2.4M518.65,9.00v2.4M300.80,175.00h2.4M542.30,175.00h-2.4M300.80,120.00h2.4M542.30,120.00h-2.4M300.80,65.00h2.4M542.30,65.00h-2.4M300.80,10.00h2.4M542.30,10.00h-2.4" stroke="#8a8684" stroke-width="0.8" fill="none"/>
<rect x="300.8" y="9.0" width="241.50" height="166.00" fill="none" stroke="#b9b5b3" stroke-width="1.4"/>
<g clip-path="url(#clipb)" fill="none" stroke-width="2.1" stroke-linejoin="round">
<path d="M300.8,174.3 L301.7,174.2 L302.6,174.0 L303.4,173.8 L304.3,173.5 L305.2,173.2 L306.0,172.9 L306.8,172.5 L307.6,172.0 L308.4,171.6 L309.1,171.0 L309.8,170.5 L310.5,169.9 L311.1,169.3 L311.8,168.6 L312.4,168.0 L312.9,167.3 L313.5,166.5 L314.0,165.8 L314.5,165.1 L315.0,164.3 L315.5,163.5 L315.9,162.8 L316.3,161.9 L316.7,161.2 L317.2,160.3 L317.5,159.6 L317.9,158.7 L318.3,157.9 L318.6,157.1 L319.0,156.2 L319.3,155.4 L319.7,154.6 L320.0,153.8 L320.3,152.9 L320.6,152.1 L320.9,151.2 L321.2,150.4 L321.5,149.5 L321.8,148.6 L322.1,147.8 L322.3,147.0 L322.6,146.1 L322.9,145.2 L323.1,144.4 L323.4,143.5 L323.6,142.6 L323.9,141.8 L324.1,140.9 L324.4,140.0 L324.6,139.2 L324.8,138.3 L325.1,137.4 L325.3,136.6 L325.5,135.6 L325.8,134.8 L326.0,133.9 L326.2,133.1 L326.4,132.2 L326.6,131.3 L326.8,130.5 L327.1,129.6 L327.3,128.6 L327.5,127.8 L327.7,127.0 L327.9,126.0 L328.1,125.2 L328.3,124.3 L328.5,123.4 L328.7,122.5 L328.9,121.6 L329.1,120.7 L329.3,119.9 L329.5,119.0 L329.7,118.1 L329.9,117.3 L330.1,116.4 L330.2,115.5 L330.4,114.6 L330.6,113.8 L330.8,112.8 L331.0,112.0 L331.2,111.1 L331.4,110.2 L331.6,109.3 L331.7,108.5 L331.9,107.6 L332.1,106.7 L332.3,105.8 L332.5,104.9 L332.7,104.0 L332.8,103.2 L333.0,102.3 L333.2,101.4 L333.4,100.5 L333.6,99.6 L333.7,98.7 L333.9,97.9 L334.1,97.0 L334.3,96.1 L334.5,95.2 L334.6,94.3 L334.8,93.5 L335.0,92.6 L335.2,91.7 L335.3,90.8 L335.5,90.0 L335.7,89.1 L335.9,88.2 L336.1,87.3 L336.2,86.4 L336.4,85.5 L336.6,84.6 L336.8,83.8 L337.0,82.9 L337.1,82.0 L337.3,81.1 L337.5,80.3 L337.7,79.4 L337.9,78.5 L338.0,77.6 L338.2,76.7 L338.4,75.8 L338.6,75.0 L338.8,74.1 L339.0,73.2 L339.2,72.3 L339.3,71.5 L339.5,70.5 L339.7,69.7 L339.9,68.8 L340.1,68.0 L340.3,67.1 L340.5,66.1 L340.7,65.2 L340.9,64.4 L341.1,63.6 L341.3,62.7 L341.5,61.8 L341.7,60.9 L341.9,60.0 L342.1,59.1 L342.3,58.3 L342.5,57.4 L342.7,56.5 L342.9,55.7 L343.2,54.8 L343.4,53.9 L343.6,53.0 L343.8,52.2 L344.1,51.3 L344.3,50.4 L344.5,49.5 L344.8,48.7 L345.0,47.8 L345.2,47.0 L345.5,46.1 L345.7,45.2 L346.0,44.4 L346.3,43.5 L346.5,42.6 L346.8,41.8 L347.1,40.9 L347.4,40.1 L347.7,39.2 L348.0,38.4 L348.3,37.5 L348.6,36.7 L349.0,35.9 L349.3,35.1 L349.7,34.2 L350.1,33.4 L350.5,32.6 L350.9,31.8 L351.3,31.0 L351.8,30.3 L352.3,29.5 L352.9,28.8 L353.5,28.2 L354.2,27.6 L355.0,27.2 L355.9,26.9 L356.8,26.9 L357.6,27.1 L358.4,27.6 L359.1,28.1 L359.8,28.7 L360.4,29.4 L360.9,30.1 L361.4,30.8 L361.9,31.6 L362.4,32.4 L362.8,33.2 L363.2,34.0 L363.6,34.8 L364.0,35.6 L364.4,36.4 L364.8,37.3 L365.1,38.1 L365.5,38.9 L365.8,39.7 L366.1,40.6 L366.4,41.5 L366.7,42.3 L367.1,43.1 L367.4,44.0 L367.7,44.8 L367.9,45.7 L368.2,46.5 L368.5,47.4 L368.8,48.2 L369.1,49.1 L369.4,50.0 L369.6,50.8 L369.9,51.7 L370.2,52.5 L370.4,53.4 L370.7,54.2 L370.9,55.1 L371.2,56.0 L371.5,56.8 L371.7,57.7 L372.0,58.5 L372.2,59.4 L372.5,60.3 L372.7,61.2 L373.0,62.0 L373.2,62.9 L373.4,63.7 L373.7,64.7 L373.9,65.5 L374.2,66.4 L374.4,67.3 L374.7,68.1 L374.9,69.0 L375.1,69.8 L375.4,70.7 L375.6,71.6 L375.8,72.4 L376.1,73.3 L376.3,74.1 L376.5,75.0 L376.8,75.9 L377.0,76.8 L377.2,77.6 L377.5,78.5 L377.7,79.4 L377.9,80.2 L378.2,81.1 L378.4,82.0 L378.6,82.8 L378.9,83.7 L379.1,84.6 L379.4,85.5 L379.6,86.3 L379.8,87.2 L380.1,88.1 L380.3,88.9 L380.5,89.8 L380.8,90.7 L381.0,91.6 L381.2,92.5 L381.5,93.3 L381.7,94.1 L381.9,95.0 L382.2,95.9 L382.4,96.8 L382.7,97.6 L382.9,98.5 L383.1,99.3 L383.4,100.2 L383.6,101.1 L383.9,102.0 L384.1,102.8 L384.4,103.7 L384.6,104.6 L384.9,105.4 L385.1,106.3 L385.4,107.2 L385.6,108.0 L385.9,108.9 L386.1,109.8 L386.4,110.6 L386.6,111.5 L386.9,112.3 L387.1,113.2 L387.4,114.0 L387.7,114.9 L387.9,115.7 L388.2,116.7 L388.5,117.5 L388.7,118.4 L389.0,119.2 L389.3,120.1 L389.5,120.9 L389.8,121.8 L390.1,122.6 L390.4,123.5 L390.7,124.3 L391.0,125.2 L391.2,126.0 L391.5,126.9 L391.8,127.7 L392.1,128.6 L392.4,129.4 L392.7,130.3 L393.0,131.1 L393.3,132.0 L393.6,132.8 L394.0,133.7 L394.3,134.5 L394.6,135.4 L394.9,136.2 L395.2,137.0 L395.6,137.9 L395.9,138.7 L396.3,139.6 L396.6,140.4 L396.9,141.2 L397.3,142.0 L397.7,142.9 L398.0,143.7 L398.4,144.5 L398.8,145.3 L399.1,146.1 L399.5,146.9 L399.9,147.8 L400.3,148.6 L400.7,149.4 L401.1,150.2 L401.5,151.0 L402.0,151.8 L402.4,152.5 L402.8,153.3 L403.3,154.1 L403.8,154.9 L404.2,155.7 L404.7,156.4 L405.2,157.2 L405.7,157.9 L406.2,158.7 L406.7,159.4 L407.2,160.1 L407.8,160.8 L408.3,161.6 L408.9,162.3 L409.5,162.9 L410.1,163.6 L410.7,164.3 L411.3,164.9 L411.9,165.6 L412.6,166.2 L413.2,166.8 L413.9,167.4 L414.6,168.0 L415.3,168.5 L416.1,169.0 L416.8,169.5 L417.6,170.0 L418.3,170.5 L419.1,170.9 L419.9,171.3 L420.7,171.7 L421.6,172.1 L422.4,172.4 L423.2,172.7 L424.1,173.0 L425.0,173.3 L425.8,173.5 L426.7,173.7 L427.6,173.9 L428.5,174.1 L429.4,174.2 L430.2,174.4 L431.1,174.5 L432.0,174.6 L432.9,174.6 L433.8,174.7 L434.7,174.8 L435.6,174.8 L436.5,174.9 L437.4,174.9 L438.3,174.9 L439.2,175.0 L440.1,175.0 L441.0,175.0 L441.9,175.0 L442.8,175.0 L443.7,175.0 L444.6,175.0 L445.5,175.0 L446.4,175.0 L447.3,175.0 L448.2,175.0 L449.1,175.0 L450.0,175.0 L450.9,175.0 L451.8,175.0 L452.7,175.0 L453.6,175.0 L454.5,175.0 L455.4,175.0 L456.3,175.0 L457.2,175.0 L458.1,175.0 L459.0,175.0 L459.9,175.0 L460.8,175.0 L461.7,175.0 L462.6,175.0 L463.5,175.0 L464.4,175.0 L465.3,175.0 L466.2,175.0 L467.1,175.0 L468.0,175.0 L468.9,175.0 L469.8,175.0 L470.7,175.0 L471.6,175.0 L472.5,175.0 L473.4,175.0 L474.3,175.0 L475.2,175.0 L476.1,175.0 L477.0,175.0 L477.9,175.0 L478.8,175.0 L479.7,175.0 L480.6,175.0 L481.5,175.0 L482.4,175.0 L483.3,175.0 L484.2,175.0 L485.1,175.0 L486.0,175.0 L486.9,175.0 L487.8,175.0 L488.7,175.0 L489.6,175.0 L490.5,175.0 L491.4,175.0 L492.3,175.0 L493.2,175.0 L494.1,175.0 L495.0,175.0 L495.9,175.0 L496.8,175.0 L497.7,175.0 L498.6,175.0 L499.5,175.0 L500.4,175.0 L501.3,175.0 L502.2,175.0 L503.1,175.0 L504.0,175.0 L504.9,175.0 L505.8,175.0 L506.7,175.0 L507.6,175.0 L508.5,175.0 L509.4,175.0 L510.3,175.0 L511.2,175.0 L512.1,175.0 L513.0,175.0 L513.9,175.0 L514.8,175.0 L515.7,175.0 L516.6,175.0 L517.5,175.0 L518.4,175.0 L519.3,175.0 L520.2,175.0 L521.1,175.0 L522.0,175.0 L522.9,175.0 L523.8,175.0 L524.7,175.0 L525.6,175.0 L526.5,175.0 L527.4,175.0 L528.3,175.0 L529.2,175.0 L530.1,175.0 L531.0,175.0 L531.9,175.0 L532.8,175.0 L533.7,175.0 L534.6,175.0 L535.5,175.0 L536.4,175.0 L537.3,175.0 L538.2,175.0 L539.1,175.0 L540.0,175.0 L540.9,175.0 L541.8,175.0 L542.3,175.0" stroke="#0e0c0d"/>
<path d="M300.8,175.0 L301.7,175.0 L302.6,175.0 L303.5,175.0 L304.4,174.9 L305.3,174.9 L306.2,174.9 L307.1,174.9 L308.0,174.9 L308.9,174.8 L309.8,174.8 L310.7,174.7 L311.6,174.7 L312.5,174.6 L313.4,174.5 L314.3,174.4 L315.2,174.3 L316.1,174.1 L317.0,174.0 L317.8,173.8 L318.7,173.6 L319.6,173.3 L320.4,173.0 L321.3,172.7 L322.1,172.3 L322.9,171.9 L323.7,171.5 L324.5,171.0 L325.2,170.5 L325.9,170.0 L326.6,169.4 L327.3,168.8 L327.9,168.2 L328.6,167.5 L329.1,166.9 L329.7,166.2 L330.3,165.5 L330.8,164.7 L331.3,164.0 L331.8,163.2 L332.3,162.5 L332.7,161.7 L333.2,160.9 L333.6,160.1 L334.0,159.3 L334.4,158.5 L334.8,157.7 L335.2,156.9 L335.6,156.1 L336.0,155.3 L336.3,154.4 L336.7,153.6 L337.0,152.7 L337.3,151.9 L337.6,151.1 L338.0,150.2 L338.3,149.4 L338.6,148.6 L338.9,147.7 L339.2,146.8 L339.4,146.0 L339.7,145.1 L340.0,144.3 L340.3,143.4 L340.5,142.5 L340.8,141.7 L341.1,140.8 L341.3,139.9 L341.6,139.1 L341.8,138.2 L342.1,137.4 L342.3,136.5 L342.5,135.6 L342.8,134.7 L343.0,133.9 L343.2,133.0 L343.5,132.2 L343.7,131.3 L343.9,130.4 L344.1,129.5 L344.4,128.6 L344.6,127.8 L344.8,126.9 L345.0,126.0 L345.2,125.2 L345.4,124.3 L345.6,123.4 L345.8,122.6 L346.0,121.7 L346.2,120.8 L346.4,119.9 L346.6,119.1 L346.8,118.2 L347.0,117.3 L347.2,116.4 L347.4,115.5 L347.6,114.7 L347.8,113.7 L348.0,112.9 L348.2,112.0 L348.4,111.1 L348.6,110.2 L348.7,109.3 L348.9,108.5 L349.1,107.6 L349.3,106.7 L349.5,105.8 L349.7,104.9 L349.8,104.0 L350.0,103.2 L350.2,102.3 L350.4,101.4 L350.6,100.5 L350.7,99.6 L350.9,98.7 L351.1,97.8 L351.3,97.0 L351.4,96.1 L351.6,95.2 L351.8,94.3 L352.0,93.5 L352.1,92.6 L352.3,91.7 L352.5,90.8 L352.7,90.0 L352.8,89.1 L353.0,88.1 L353.2,87.3 L353.4,86.4 L353.5,85.5 L353.7,84.7 L353.9,83.8 L354.1,82.8 L354.2,82.0 L354.4,81.1 L354.6,80.2 L354.7,79.4 L354.9,78.4 L355.1,77.5 L355.3,76.7 L355.4,75.8 L355.6,74.9 L355.8,74.1 L356.0,73.2 L356.1,72.2 L356.3,71.4 L356.5,70.5 L356.7,69.6 L356.8,68.7 L357.0,67.8 L357.2,67.0 L357.4,66.1 L357.5,65.2 L357.7,64.3 L357.9,63.5 L358.1,62.6 L358.3,61.7 L358.4,60.8 L358.6,59.9 L358.8,59.1 L359.0,58.1 L359.2,57.3 L359.4,56.4 L359.5,55.6 L359.7,54.6 L359.9,53.8 L360.1,52.9 L360.3,52.0 L360.5,51.1 L360.7,50.2 L360.9,49.3 L361.1,48.5 L361.3,47.6 L361.5,46.7 L361.7,45.8 L361.9,45.0 L362.1,44.1 L362.3,43.2 L362.5,42.4 L362.7,41.5 L363.0,40.6 L363.2,39.7 L363.4,38.9 L363.6,38.0 L363.9,37.1 L364.1,36.2 L364.3,35.4 L364.6,34.5 L364.8,33.7 L365.1,32.8 L365.3,31.9 L365.6,31.1 L365.9,30.2 L366.1,29.4 L366.4,28.5 L366.7,27.6 L367.0,26.8 L367.3,26.0 L367.6,25.1 L368.0,24.3 L368.3,23.5 L368.7,22.6 L369.0,21.8 L369.4,21.0 L369.9,20.2 L370.3,19.5 L370.8,18.7 L371.4,18.0 L372.0,17.4 L372.7,16.8 L373.5,16.4 L374.4,16.2 L375.3,16.4 L376.1,16.8 L376.8,17.4 L377.4,18.0 L378.0,18.8 L378.5,19.5 L378.9,20.3 L379.4,21.1 L379.8,21.8 L380.2,22.7 L380.6,23.5 L380.9,24.3 L381.3,25.1 L381.6,26.0 L381.9,26.8 L382.2,27.7 L382.5,28.5 L382.8,29.4 L383.1,30.2 L383.4,31.1 L383.7,31.9 L383.9,32.8 L384.2,33.6 L384.5,34.5 L384.7,35.4 L385.0,36.3 L385.2,37.1 L385.5,37.9 L385.7,38.9 L386.0,39.7 L386.2,40.5 L386.4,41.4 L386.7,42.3 L386.9,43.2 L387.1,44.0 L387.3,45.0 L387.6,45.8 L387.8,46.7 L388.0,47.6 L388.2,48.4 L388.4,49.3 L388.6,50.2 L388.9,51.1 L389.1,51.9 L389.3,52.8 L389.5,53.6 L389.7,54.6 L389.9,55.4 L390.1,56.3 L390.3,57.2 L390.5,58.1 L390.7,58.9 L390.9,59.8 L391.1,60.7 L391.3,61.5 L391.5,62.4 L391.7,63.3 L391.9,64.2 L392.1,65.1 L392.3,66.0 L392.5,66.8 L392.7,67.7 L392.9,68.5 L393.1,69.4 L393.3,70.3 L393.5,71.2 L393.7,72.1 L393.9,72.9 L394.1,73.8 L394.3,74.7 L394.5,75.6 L394.7,76.4 L394.9,77.3 L395.1,78.2 L395.3,79.2 L395.4,80.0 L395.6,80.9 L395.8,81.8 L396.0,82.7 L396.2,83.5 L396.4,84.4 L396.6,85.3 L396.8,86.2 L397.0,87.1 L397.2,87.9 L397.4,88.8 L397.6,89.6 L397.8,90.5 L398.0,91.4 L398.2,92.3 L398.4,93.2 L398.6,94.1 L398.8,95.0 L399.0,95.8 L399.2,96.7 L399.4,97.6 L399.6,98.4 L399.8,99.3 L400.0,100.2 L400.2,101.0 L400.4,102.0 L400.6,102.8 L400.8,103.7 L401.0,104.6 L401.2,105.4 L401.5,106.4 L401.7,107.2 L401.9,108.1 L402.1,108.9 L402.3,109.8 L402.5,110.7 L402.7,111.5 L402.9,112.4 L403.2,113.3 L403.4,114.2 L403.6,115.1 L403.8,115.9 L404.0,116.8 L404.3,117.6 L404.5,118.6 L404.7,119.4 L405.0,120.3 L405.2,121.1 L405.4,122.0 L405.6,122.9 L405.9,123.7 L406.1,124.6 L406.4,125.5 L406.6,126.4 L406.8,127.2 L407.1,128.1 L407.3,129.0 L407.6,129.8 L407.8,130.7 L408.1,131.6 L408.4,132.4 L408.6,133.3 L408.9,134.1 L409.1,135.0 L409.4,135.9 L409.7,136.7 L410.0,137.6 L410.2,138.4 L410.5,139.3 L410.8,140.1 L411.1,141.0 L411.4,141.8 L411.7,142.7 L412.0,143.5 L412.3,144.4 L412.6,145.2 L412.9,146.0 L413.2,146.9 L413.5,147.7 L413.9,148.6 L414.2,149.4 L414.6,150.3 L414.9,151.1 L415.3,151.9 L415.6,152.7 L416.0,153.6 L416.4,154.4 L416.7,155.2 L417.1,156.0 L417.5,156.8 L417.9,157.6 L418.3,158.4 L418.8,159.2 L419.2,160.0 L419.7,160.8 L420.1,161.5 L420.6,162.3 L421.1,163.0 L421.6,163.8 L422.1,164.5 L422.6,165.3 L423.2,166.0 L423.8,166.7 L424.3,167.4 L424.9,168.0 L425.6,168.7 L426.2,169.3 L426.9,169.9 L427.6,170.5 L428.3,171.0 L429.0,171.5 L429.8,172.0 L430.6,172.5 L431.4,172.9 L432.2,173.2 L433.0,173.6 L433.9,173.9 L434.7,174.1 L435.6,174.3 L436.5,174.5 L437.4,174.6 L438.3,174.8 L439.2,174.8 L440.1,174.9 L441.0,175.0 L441.9,175.0 L442.8,175.0 L443.7,175.0 L444.6,175.0 L445.5,175.0 L446.4,175.0 L447.3,175.0 L448.2,175.0 L449.1,175.0 L450.0,175.0 L450.9,175.0 L451.8,175.0 L452.7,175.0 L453.6,175.0 L454.5,175.0 L455.4,175.0 L456.3,175.0 L457.2,175.0 L458.1,175.0 L459.0,175.0 L459.9,175.0 L460.8,175.0 L461.7,175.0 L462.6,175.0 L463.5,175.0 L464.4,175.0 L465.3,175.0 L466.2,175.0 L467.1,175.0 L468.0,175.0 L468.9,175.0 L469.8,175.0 L470.7,175.0 L471.6,175.0 L472.5,175.0 L473.4,175.0 L474.3,175.0 L475.2,175.0 L476.1,175.0 L477.0,175.0 L477.9,175.0 L478.8,175.0 L479.7,175.0 L480.6,175.0 L481.5,175.0 L482.4,175.0 L483.3,175.0 L484.2,175.0 L485.1,175.0 L486.0,175.0 L486.9,175.0 L487.8,175.0 L488.7,175.0 L489.6,175.0 L490.5,175.0 L491.4,175.0 L492.3,175.0 L493.2,175.0 L494.1,175.0 L495.0,175.0 L495.9,175.0 L496.8,175.0 L497.7,175.0 L498.6,175.0 L499.5,175.0 L500.4,175.0 L501.3,175.0 L502.2,175.0 L503.1,175.0 L504.0,175.0 L504.9,175.0 L505.8,175.0 L506.7,175.0 L507.6,175.0 L508.5,175.0 L509.4,175.0 L510.3,175.0 L511.2,175.0 L512.1,175.0 L513.0,175.0 L513.9,175.0 L514.8,175.0 L515.7,175.0 L516.6,175.0 L517.5,175.0 L518.4,175.0 L519.3,175.0 L520.2,175.0 L521.1,175.0 L522.0,175.0 L522.9,175.0 L523.8,175.0 L524.7,175.0 L525.6,175.0 L526.5,175.0 L527.4,175.0 L528.3,175.0 L529.2,175.0 L530.1,175.0 L531.0,175.0 L531.9,175.0 L532.8,175.0 L533.7,175.0 L534.6,175.0 L535.5,175.0 L536.4,175.0 L537.3,175.0 L538.2,175.0 L539.1,175.0 L540.0,175.0 L540.9,175.0 L541.8,175.0 L542.3,175.0" stroke="#47aeaa"/>
<path d="M300.8,175.0 L301.7,175.0 L302.6,175.0 L303.5,175.0 L304.4,175.0 L305.3,175.0 L306.2,175.0 L307.1,175.0 L308.0,175.0 L308.9,175.0 L309.8,174.9 L310.7,174.9 L311.6,174.9 L312.5,174.9 L313.4,174.9 L314.3,174.9 L315.2,174.9 L316.1,174.9 L317.0,174.8 L317.9,174.8 L318.8,174.8 L319.7,174.7 L320.6,174.7 L321.5,174.7 L322.4,174.6 L323.3,174.6 L324.2,174.5 L325.1,174.4 L326.0,174.4 L326.9,174.3 L327.8,174.2 L328.7,174.1 L329.6,174.0 L330.5,173.9 L331.4,173.7 L332.2,173.6 L333.1,173.4 L334.0,173.2 L334.9,173.0 L335.8,172.8 L336.6,172.6 L337.5,172.3 L338.4,172.1 L339.2,171.8 L340.0,171.5 L340.9,171.1 L341.7,170.8 L342.5,170.4 L343.3,170.0 L344.1,169.6 L344.9,169.1 L345.7,168.6 L346.4,168.1 L347.2,167.6 L347.9,167.1 L348.6,166.6 L349.3,166.0 L350.0,165.4 L350.7,164.8 L351.3,164.2 L352.0,163.6 L352.6,162.9 L353.2,162.3 L353.8,161.6 L354.4,160.9 L355.0,160.3 L355.6,159.5 L356.1,158.8 L356.7,158.1 L357.2,157.4 L357.7,156.7 L358.3,155.9 L358.8,155.2 L359.3,154.4 L359.7,153.7 L360.2,152.9 L360.7,152.2 L361.2,151.4 L361.6,150.6 L362.1,149.8 L362.5,149.0 L363.0,148.2 L363.4,147.5 L363.8,146.7 L364.2,145.9 L364.6,145.1 L365.0,144.3 L365.4,143.5 L365.8,142.7 L366.2,141.8 L366.6,141.1 L367.0,140.2 L367.4,139.4 L367.8,138.6 L368.1,137.8 L368.5,136.9 L368.9,136.1 L369.2,135.3 L369.6,134.5 L370.0,133.6 L370.3,132.8 L370.7,132.0 L371.0,131.2 L371.4,130.3 L371.7,129.5 L372.0,128.7 L372.4,127.8 L372.7,127.0 L373.0,126.2 L373.4,125.3 L373.7,124.5 L374.0,123.6 L374.4,122.8 L374.7,122.0 L375.0,121.1 L375.3,120.3 L375.7,119.4 L376.0,118.6 L376.3,117.8 L376.6,116.9 L376.9,116.1 L377.2,115.3 L377.6,114.4 L377.9,113.6 L378.2,112.7 L378.5,111.9 L378.8,111.0 L379.1,110.2 L379.4,109.4 L379.8,108.5 L380.1,107.6 L380.4,106.8 L380.7,106.0 L381.0,105.1 L381.3,104.3 L381.6,103.4 L381.9,102.6 L382.3,101.7 L382.6,100.9 L382.9,100.1 L383.2,99.2 L383.5,98.4 L383.8,97.5 L384.2,96.7 L384.5,95.8 L384.8,95.0 L385.1,94.2 L385.4,93.3 L385.8,92.5 L386.1,91.7 L386.4,90.8 L386.7,90.0 L387.1,89.1 L387.4,88.3 L387.7,87.5 L388.1,86.7 L388.4,85.8 L388.8,85.0 L389.1,84.1 L389.5,83.3 L389.8,82.5 L390.2,81.7 L390.6,80.8 L390.9,80.0 L391.3,79.2 L391.7,78.4 L392.1,77.5 L392.4,76.8 L392.8,75.9 L393.2,75.1 L393.6,74.4 L394.1,73.6 L394.5,72.7 L394.9,72.0 L395.4,71.2 L395.8,70.4 L396.3,69.6 L396.8,68.9 L397.3,68.1 L397.8,67.4 L398.3,66.7 L398.9,66.0 L399.5,65.3 L400.1,64.6 L400.7,64.0 L401.4,63.4 L402.1,62.8 L402.9,62.4 L403.7,61.9 L404.5,61.6 L405.4,61.4 L406.3,61.4 L407.2,61.4 L408.1,61.6 L408.9,61.9 L409.8,62.2 L410.6,62.6 L411.3,63.1 L412.1,63.6 L412.8,64.1 L413.5,64.7 L414.1,65.3 L414.8,66.0 L415.4,66.6 L416.0,67.3 L416.5,68.0 L417.1,68.7 L417.6,69.5 L418.2,70.2 L418.7,70.9 L419.2,71.6 L419.7,72.4 L420.2,73.2 L420.7,73.9 L421.1,74.7 L421.6,75.4 L422.0,76.2 L422.5,77.0 L422.9,77.8 L423.4,78.6 L423.8,79.4 L424.2,80.2 L424.7,81.0 L425.1,81.8 L425.5,82.5 L425.9,83.4 L426.3,84.2 L426.7,85.0 L427.1,85.8 L427.5,86.6 L427.9,87.4 L428.3,88.2 L428.7,89.0 L429.1,89.8 L429.5,90.7 L429.8,91.5 L430.2,92.3 L430.6,93.1 L431.0,93.9 L431.4,94.7 L431.7,95.5 L432.1,96.3 L432.5,97.2 L432.8,98.0 L433.2,98.8 L433.6,99.7 L434.0,100.5 L434.3,101.3 L434.7,102.1 L435.1,102.9 L435.4,103.8 L435.8,104.6 L436.2,105.4 L436.5,106.2 L436.9,107.0 L437.3,107.9 L437.6,108.7 L438.0,109.5 L438.4,110.3 L438.7,111.1 L439.1,112.0 L439.5,112.8 L439.9,113.6 L440.2,114.4 L440.6,115.2 L441.0,116.1 L441.3,116.9 L441.7,117.7 L442.1,118.5 L442.5,119.3 L442.8,120.1 L443.2,120.9 L443.6,121.8 L444.0,122.6 L444.4,123.4 L444.8,124.2 L445.1,125.0 L445.5,125.8 L445.9,126.6 L446.3,127.5 L446.7,128.3 L447.1,129.1 L447.5,129.9 L447.9,130.7 L448.3,131.5 L448.7,132.3 L449.1,133.1 L449.5,133.9 L450.0,134.7 L450.4,135.5 L450.8,136.3 L451.2,137.1 L451.6,137.9 L452.1,138.7 L452.5,139.5 L452.9,140.2 L453.4,141.0 L453.8,141.8 L454.3,142.6 L454.7,143.4 L455.2,144.1 L455.6,144.9 L456.1,145.7 L456.6,146.4 L457.1,147.2 L457.5,148.0 L458.0,148.7 L458.5,149.5 L459.0,150.2 L459.5,151.0 L460.0,151.7 L460.5,152.5 L461.1,153.2 L461.6,153.9 L462.1,154.7 L462.7,155.4 L463.2,156.1 L463.8,156.8 L464.4,157.5 L464.9,158.2 L465.5,158.8 L466.1,159.5 L466.7,160.2 L467.3,160.9 L467.9,161.5 L468.6,162.2 L469.2,162.8 L469.8,163.4 L470.5,164.0 L471.2,164.6 L471.9,165.2 L472.5,165.8 L473.2,166.4 L474.0,166.9 L474.7,167.4 L475.4,168.0 L476.2,168.5 L476.9,168.9 L477.7,169.4 L478.5,169.9 L479.3,170.3 L480.1,170.7 L480.9,171.1 L481.7,171.5 L482.5,171.8 L483.4,172.2 L484.2,172.5 L485.1,172.8 L485.9,173.0 L486.8,173.3 L487.6,173.5 L488.5,173.7 L489.4,173.9 L490.3,174.1 L491.2,174.2 L492.1,174.4 L493.0,174.5 L493.8,174.6 L494.7,174.7 L495.6,174.8 L496.5,174.8 L497.4,174.9 L498.3,174.9 L499.2,174.9 L500.1,175.0 L501.0,175.0 L501.9,175.0 L502.8,175.0 L503.7,175.0 L504.6,175.0 L505.5,175.0 L506.4,175.0 L507.3,175.0 L508.2,175.0 L509.1,175.0 L510.0,175.0 L510.9,175.0 L511.8,175.0 L512.7,175.0 L513.6,175.0 L514.5,175.0 L515.4,175.0 L516.3,175.0 L517.2,175.0 L518.1,175.0 L519.0,175.0 L519.9,175.0 L520.8,175.0 L521.7,175.0 L522.6,175.0 L523.5,175.0 L524.4,175.0 L525.3,175.0 L526.2,175.0 L527.1,175.0 L528.0,175.0 L528.9,175.0 L529.8,175.0 L530.7,175.0 L531.6,175.0 L532.5,175.0 L533.4,175.0 L534.3,175.0 L535.2,175.0 L536.1,175.0 L537.0,175.0 L537.9,175.0 L538.8,175.0 L539.7,175.0 L540.6,175.0 L541.5,175.0 L542.3,175.0" stroke="#4d72b4"/>
<path d="M300.8,175.0 L301.7,175.0 L302.6,175.0 L303.5,175.0 L304.4,175.0 L305.3,175.0 L306.2,175.0 L307.1,175.0 L308.0,175.0 L308.9,175.0 L309.8,175.0 L310.7,175.0 L311.6,175.0 L312.5,175.0 L313.4,175.0 L314.3,175.0 L315.2,175.0 L316.1,175.0 L317.0,175.0 L317.9,175.0 L318.8,175.0 L319.7,175.0 L320.6,175.0 L321.5,175.0 L322.4,175.0 L323.3,175.0 L324.2,175.0 L325.1,175.0 L326.0,175.0 L326.9,175.0 L327.8,174.9 L328.7,174.9 L329.6,174.9 L330.5,174.9 L331.4,174.9 L332.3,174.9 L333.2,174.8 L334.1,174.8 L335.0,174.8 L335.9,174.7 L336.8,174.7 L337.7,174.6 L338.6,174.6 L339.5,174.5 L340.4,174.4 L341.3,174.4 L342.2,174.3 L343.1,174.2 L344.0,174.0 L344.9,173.9 L345.7,173.7 L346.6,173.6 L347.5,173.4 L348.4,173.2 L349.3,172.9 L350.1,172.7 L351.0,172.4 L351.8,172.1 L352.7,171.8 L353.5,171.5 L354.3,171.1 L355.1,170.7 L355.9,170.3 L356.7,169.9 L357.5,169.4 L358.3,168.9 L359.0,168.4 L359.8,167.9 L360.5,167.4 L361.2,166.8 L361.9,166.3 L362.6,165.7 L363.2,165.1 L363.9,164.4 L364.5,163.8 L365.1,163.2 L365.8,162.5 L366.4,161.8 L367.0,161.2 L367.5,160.5 L368.1,159.8 L368.7,159.1 L369.2,158.3 L369.8,157.6 L370.3,156.9 L370.8,156.2 L371.3,155.4 L371.8,154.7 L372.3,154.0 L372.8,153.2 L373.3,152.4 L373.8,151.7 L374.3,150.9 L374.7,150.1 L375.2,149.4 L375.6,148.6 L376.1,147.8 L376.5,147.0 L377.0,146.2 L377.4,145.5 L377.8,144.6 L378.3,143.9 L378.7,143.1 L379.1,142.3 L379.5,141.5 L379.9,140.7 L380.4,139.9 L380.8,139.1 L381.2,138.3 L381.6,137.5 L382.0,136.7 L382.4,135.9 L382.8,135.0 L383.2,134.2 L383.5,133.4 L383.9,132.6 L384.3,131.8 L384.7,131.0 L385.1,130.2 L385.5,129.3 L385.9,128.5 L386.2,127.7 L386.6,126.9 L387.0,126.1 L387.4,125.3 L387.8,124.5 L388.1,123.6 L388.5,122.8 L388.9,122.0 L389.3,121.2 L389.7,120.4 L390.0,119.6 L390.4,118.8 L390.8,117.9 L391.2,117.1 L391.5,116.3 L391.9,115.5 L392.3,114.7 L392.7,113.9 L393.1,113.0 L393.5,112.2 L393.8,111.4 L394.2,110.6 L394.6,109.8 L395.0,109.0 L395.4,108.2 L395.8,107.3 L396.2,106.5 L396.6,105.7 L397.0,104.9 L397.4,104.1 L397.8,103.3 L398.2,102.5 L398.6,101.7 L399.0,100.9 L399.5,100.2 L399.9,99.3 L400.3,98.6 L400.8,97.8 L401.2,97.0 L401.6,96.2 L402.1,95.4 L402.5,94.6 L403.0,93.9 L403.5,93.1 L403.9,92.3 L404.4,91.6 L404.9,90.8 L405.4,90.1 L405.9,89.3 L406.4,88.6 L407.0,87.9 L407.5,87.2 L408.1,86.4 L408.6,85.7 L409.2,85.0 L409.8,84.4 L410.4,83.7 L411.0,83.1 L411.7,82.4 L412.3,81.8 L413.0,81.2 L413.7,80.7 L414.4,80.1 L415.2,79.6 L416.0,79.2 L416.8,78.8 L417.6,78.4 L418.4,78.1 L419.3,77.8 L420.2,77.7 L421.1,77.5 L422.0,77.5 L422.9,77.5 L423.8,77.6 L424.6,77.8 L425.5,78.1 L426.3,78.4 L427.2,78.7 L428.0,79.2 L428.8,79.6 L429.5,80.1 L430.2,80.6 L431.0,81.2 L431.7,81.7 L432.3,82.3 L433.0,82.9 L433.7,83.5 L434.3,84.2 L434.9,84.8 L435.5,85.5 L436.1,86.2 L436.7,86.8 L437.3,87.5 L437.9,88.2 L438.4,88.9 L439.0,89.6 L439.5,90.3 L440.1,91.1 L440.6,91.8 L441.2,92.5 L441.7,93.2 L442.2,94.0 L442.7,94.7 L443.2,95.4 L443.7,96.2 L444.3,96.9 L444.8,97.7 L445.3,98.4 L445.8,99.2 L446.2,99.9 L446.7,100.7 L447.2,101.4 L447.7,102.2 L448.2,103.0 L448.7,103.7 L449.2,104.5 L449.6,105.2 L450.1,106.0 L450.6,106.8 L451.1,107.5 L451.6,108.3 L452.0,109.1 L452.5,109.8 L453.0,110.6 L453.5,111.3 L453.9,112.1 L454.4,112.9 L454.9,113.6 L455.4,114.4 L455.8,115.2 L456.3,115.9 L456.8,116.7 L457.3,117.4 L457.7,118.2 L458.2,119.0 L458.7,119.7 L459.2,120.5 L459.7,121.2 L460.2,122.0 L460.6,122.8 L461.1,123.5 L461.6,124.3 L462.1,125.0 L462.6,125.8 L463.1,126.6 L463.6,127.3 L464.1,128.0 L464.6,128.8 L465.1,129.5 L465.6,130.3 L466.1,131.0 L466.6,131.8 L467.1,132.5 L467.6,133.2 L468.2,134.0 L468.7,134.7 L469.2,135.4 L469.7,136.2 L470.3,136.9 L470.8,137.6 L471.4,138.3 L471.9,139.1 L472.4,139.8 L473.0,140.5 L473.6,141.2 L474.1,141.9 L474.7,142.6 L475.2,143.3 L475.8,144.0 L476.4,144.7 L477.0,145.4 L477.6,146.0 L478.2,146.7 L478.7,147.4 L479.4,148.1 L480.0,148.7 L480.6,149.4 L481.2,150.0 L481.8,150.7 L482.4,151.3 L483.1,152.0 L483.7,152.6 L484.4,153.2 L485.0,153.8 L485.7,154.5 L486.3,155.1 L487.0,155.7 L487.7,156.2 L488.4,156.8 L489.1,157.4 L489.8,158.0 L490.5,158.5 L491.2,159.1 L491.9,159.6 L492.6,160.2 L493.4,160.7 L494.1,161.2 L494.8,161.7 L495.6,162.2 L496.3,162.7 L497.1,163.2 L497.9,163.6 L498.7,164.1 L499.4,164.5 L500.2,165.0 L501.0,165.4 L501.8,165.8 L502.6,166.2 L503.4,166.6 L504.2,167.0 L505.1,167.4 L505.9,167.7 L506.7,168.1 L507.6,168.4 L508.4,168.7 L509.2,169.1 L510.1,169.4 L510.9,169.7 L511.8,169.9 L512.6,170.2 L513.5,170.5 L514.4,170.7 L515.2,171.0 L516.1,171.2 L517.0,171.4 L517.9,171.6 L518.7,171.8 L519.6,172.0 L520.5,172.2 L521.4,172.4 L522.3,172.5 L523.1,172.7 L524.0,172.9 L524.9,173.0 L525.8,173.1 L526.7,173.3 L527.6,173.4 L528.5,173.5 L529.4,173.6 L530.3,173.7 L531.2,173.8 L532.1,173.9 L533.0,174.0 L533.9,174.1 L534.8,174.1 L535.6,174.2 L536.5,174.3 L537.4,174.3 L538.3,174.4 L539.2,174.4 L540.1,174.5 L541.0,174.5 L541.9,174.6 L542.3,174.6" stroke="#311f4c"/>
</g>
<g font-size="7.7" fill="#1e1a1b">
<text transform="matrix(1.13 0 0 1 307.15 185.80)" text-anchor="middle">-0.5</text>
<text transform="matrix(1.13 0 0 1 342.40 185.80)" text-anchor="middle">0</text>
<text transform="matrix(1.13 0 0 1 377.65 185.80)" text-anchor="middle">0.5</text>
<text transform="matrix(1.13 0 0 1 412.90 185.80)" text-anchor="middle">1</text>
<text transform="matrix(1.13 0 0 1 448.15 185.80)" text-anchor="middle">1.5</text>
<text transform="matrix(1.13 0 0 1 483.40 185.80)" text-anchor="middle">2</text>
<text transform="matrix(1.13 0 0 1 518.65 185.80)" text-anchor="middle">2.5</text>
<text transform="matrix(1.13 0 0 1 297.00 178.00)" text-anchor="end">0</text>
<text transform="matrix(1.13 0 0 1 297.00 123.00)" text-anchor="end">0.5</text>
<text transform="matrix(1.13 0 0 1 297.00 68.00)" text-anchor="end">1</text>
<text transform="matrix(1.13 0 0 1 297.00 13.00)" text-anchor="end">1.5</text>
</g>
<text transform="matrix(1.13 0 0 1 302.70 16.00)" font-size="8.0" fill="#1e1a1b">(b) R5mm</text>
<text x="421.55" y="195.60" font-size="8.6" fill="#1e1a1b" text-anchor="middle" textLength="43.3" lengthAdjust="spacingAndGlyphs">Change (<tspan font-style="italic">σ</tspan>)</text>
<text transform="translate(282.80,92.00) rotate(-90) scale(1,1.13)" font-size="8.7" fill="#1e1a1b" text-anchor="middle" textLength="25.6" lengthAdjust="spacingAndGlyphs">Density</text>
<rect x="496.20" y="15.50" width="39.0" height="29.1" fill="#fff" stroke="#b9b5b3" stroke-width="1"/>
<path d="M498.50,19.50H515.10" stroke="#0e0c0d" stroke-width="1.9"/>
<text class="lg" x="517.20" y="22.34" font-size="6.3" fill="#2a2627" textLength="14.9" lengthAdjust="spacingAndGlyphs">1.5°C</text>
<path d="M498.50,26.35H515.10" stroke="#47aeaa" stroke-width="1.9"/>
<text class="lg" x="517.20" y="29.19" font-size="6.3" fill="#2a2627" textLength="14.9" lengthAdjust="spacingAndGlyphs">2.0°C</text>
<path d="M498.50,33.20H515.10" stroke="#4d72b4" stroke-width="1.9"/>
<text class="lg" x="517.20" y="36.04" font-size="6.3" fill="#2a2627" textLength="14.9" lengthAdjust="spacingAndGlyphs">3.0°C</text>
<path d="M498.50,40.05H515.10" stroke="#311f4c" stroke-width="1.9"/>
<text class="lg" x="517.20" y="42.88" font-size="6.3" fill="#2a2627" textLength="14.9" lengthAdjust="spacingAndGlyphs">4.0°C</text>
<rect x="577.4" y="9.6" width="241.40" height="166.20" fill="#fff"/>
<clipPath id="clipc"><rect x="577.4" y="8.6" width="241.40" height="168.80"/></clipPath>
<path d="M581.40,175.80v-2.4M581.40,9.60v2.4M617.90,175.80v-2.4M617.90,9.60v2.4M654.40,175.80v-2.4M654.40,9.60v2.4M690.90,175.80v-2.4M690.90,9.60v2.4M727.40,175.80v-2.4M727.40,9.60v2.4M763.90,175.80v-2.4M763.90,9.60v2.4M800.40,175.80v-2.4M800.40,9.60v2.4M577.40,175.80h2.4M818.80,175.80h-2.4M577.40,148.22h2.4M818.80,148.22h-2.4M577.40,120.64h2.4M818.80,120.64h-2.4M577.40,93.06h2.4M818.80,93.06h-2.4M577.40,65.48h2.4M818.80,65.48h-2.4M577.40,37.90h2.4M818.80,37.90h-2.4M577.40,10.32h2.4M818.80,10.32h-2.4" stroke="#8a8684" stroke-width="0.8" fill="none"/>
<rect x="577.4" y="9.6" width="241.40" height="166.20" fill="none" stroke="#b9b5b3" stroke-width="1.4"/>
<g clip-path="url(#clipc)" fill="none" stroke-width="2.1" stroke-linejoin="round">
<path d="M577.4,175.8 L578.3,175.8 L579.2,175.8 L580.1,175.8 L581.0,175.8 L581.9,175.8 L582.8,175.8 L583.7,175.7 L584.6,175.7 L585.5,175.7 L586.4,175.6 L587.3,175.5 L588.2,175.4 L589.1,175.3 L590.0,175.1 L590.8,174.9 L591.7,174.6 L592.5,174.3 L593.3,173.9 L594.1,173.4 L594.8,172.9 L595.5,172.3 L596.2,171.7 L596.8,171.0 L597.4,170.3 L597.9,169.6 L598.4,168.9 L598.9,168.1 L599.3,167.3 L599.8,166.5 L600.2,165.7 L600.6,164.9 L600.9,164.1 L601.3,163.2 L601.7,162.4 L602.0,161.6 L602.3,160.7 L602.6,159.9 L602.9,159.0 L603.2,158.2 L603.5,157.3 L603.8,156.5 L604.1,155.7 L604.3,154.8 L604.6,153.9 L604.8,153.1 L605.1,152.2 L605.3,151.3 L605.6,150.4 L605.8,149.6 L606.0,148.7 L606.3,147.8 L606.5,146.9 L606.7,146.1 L606.9,145.2 L607.1,144.4 L607.4,143.5 L607.6,142.6 L607.8,141.7 L608.0,140.8 L608.2,140.0 L608.4,139.1 L608.6,138.2 L608.8,137.3 L609.0,136.5 L609.2,135.6 L609.4,134.7 L609.5,133.8 L609.7,132.9 L609.9,132.0 L610.1,131.2 L610.3,130.3 L610.5,129.4 L610.7,128.5 L610.8,127.6 L611.0,126.7 L611.2,125.9 L611.4,125.0 L611.6,124.1 L611.7,123.3 L611.9,122.4 L612.1,121.5 L612.3,120.6 L612.4,119.7 L612.6,118.9 L612.8,118.0 L613.0,117.0 L613.1,116.1 L613.3,115.3 L613.5,114.4 L613.7,113.5 L613.8,112.7 L614.0,111.8 L614.2,110.9 L614.4,109.9 L614.5,109.1 L614.7,108.2 L614.9,107.3 L615.0,106.5 L615.2,105.6 L615.4,104.7 L615.6,103.8 L615.8,102.9 L615.9,102.0 L616.1,101.1 L616.3,100.3 L616.5,99.4 L616.7,98.5 L616.8,97.6 L617.0,96.7 L617.2,95.9 L617.4,95.0 L617.6,94.2 L617.8,93.2 L617.9,92.4 L618.1,91.5 L618.3,90.6 L618.5,89.7 L618.7,88.8 L618.9,87.9 L619.1,87.1 L619.3,86.2 L619.5,85.3 L619.7,84.5 L619.9,83.6 L620.1,82.7 L620.4,81.9 L620.6,81.0 L620.8,80.1 L621.0,79.2 L621.3,78.4 L621.5,77.5 L621.7,76.6 L622.0,75.7 L622.2,74.9 L622.5,74.0 L622.7,73.2 L623.0,72.3 L623.3,71.4 L623.6,70.6 L623.9,69.7 L624.2,68.9 L624.5,68.1 L624.8,67.2 L625.2,66.4 L625.6,65.6 L625.9,64.8 L626.4,64.0 L626.8,63.2 L627.3,62.4 L627.9,61.7 L628.5,61.1 L629.2,60.5 L629.9,60.1 L630.8,59.9 L631.7,60.1 L632.5,60.5 L633.2,61.0 L633.8,61.7 L634.4,62.4 L634.9,63.1 L635.4,63.9 L635.8,64.7 L636.2,65.5 L636.6,66.3 L637.0,67.1 L637.4,68.0 L637.7,68.8 L638.1,69.6 L638.4,70.4 L638.7,71.3 L639.0,72.1 L639.3,73.0 L639.6,73.8 L639.9,74.7 L640.2,75.5 L640.5,76.4 L640.8,77.3 L641.1,78.1 L641.4,79.0 L641.6,79.8 L641.9,80.6 L642.2,81.5 L642.5,82.4 L642.7,83.2 L643.0,84.1 L643.3,85.0 L643.5,85.8 L643.8,86.7 L644.0,87.5 L644.3,88.4 L644.5,89.3 L644.8,90.1 L645.0,91.0 L645.3,91.9 L645.6,92.7 L645.8,93.6 L646.1,94.5 L646.3,95.3 L646.6,96.2 L646.8,97.1 L647.1,97.9 L647.3,98.8 L647.6,99.6 L647.8,100.5 L648.1,101.3 L648.3,102.2 L648.6,103.1 L648.8,103.9 L649.1,104.8 L649.3,105.7 L649.6,106.5 L649.8,107.4 L650.1,108.3 L650.4,109.2 L650.6,110.0 L650.9,110.9 L651.1,111.7 L651.4,112.6 L651.7,113.5 L651.9,114.3 L652.2,115.1 L652.5,116.0 L652.7,116.9 L653.0,117.7 L653.3,118.6 L653.5,119.5 L653.8,120.3 L654.1,121.1 L654.4,122.0 L654.6,122.8 L654.9,123.7 L655.2,124.6 L655.5,125.4 L655.8,126.3 L656.1,127.2 L656.4,128.0 L656.7,128.8 L657.0,129.7 L657.3,130.5 L657.6,131.4 L657.9,132.2 L658.2,133.1 L658.6,133.9 L658.9,134.8 L659.2,135.6 L659.5,136.4 L659.9,137.2 L660.2,138.1 L660.5,138.9 L660.9,139.8 L661.2,140.6 L661.6,141.4 L662.0,142.2 L662.3,143.0 L662.7,143.9 L663.1,144.7 L663.5,145.5 L663.9,146.3 L664.3,147.1 L664.7,147.9 L665.1,148.7 L665.5,149.5 L665.9,150.3 L666.4,151.1 L666.8,151.9 L667.3,152.6 L667.7,153.4 L668.2,154.2 L668.7,154.9 L669.2,155.7 L669.7,156.4 L670.2,157.2 L670.7,157.9 L671.2,158.6 L671.8,159.3 L672.3,160.1 L672.9,160.8 L673.5,161.4 L674.1,162.1 L674.7,162.8 L675.3,163.4 L676.0,164.0 L676.6,164.7 L677.3,165.3 L678.0,165.9 L678.7,166.4 L679.4,167.0 L680.1,167.5 L680.8,168.0 L681.6,168.5 L682.3,169.0 L683.1,169.5 L683.9,169.9 L684.7,170.3 L685.5,170.7 L686.3,171.1 L687.1,171.5 L688.0,171.8 L688.8,172.1 L689.7,172.4 L690.5,172.7 L691.4,172.9 L692.3,173.2 L693.1,173.4 L694.0,173.6 L694.9,173.8 L695.8,174.0 L696.7,174.1 L697.5,174.3 L698.4,174.4 L699.3,174.6 L700.2,174.7 L701.1,174.8 L702.0,174.9 L702.9,175.0 L703.8,175.1 L704.7,175.1 L705.6,175.2 L706.5,175.3 L707.4,175.3 L708.3,175.4 L709.2,175.4 L710.1,175.5 L711.0,175.5 L711.9,175.5 L712.8,175.6 L713.7,175.6 L714.6,175.6 L715.5,175.6 L716.4,175.7 L717.3,175.7 L718.2,175.7 L719.1,175.7 L720.0,175.7 L720.9,175.7 L721.8,175.7 L722.7,175.7 L723.6,175.8 L724.5,175.8 L725.4,175.8 L726.3,175.8 L727.2,175.8 L728.1,175.8 L729.0,175.8 L729.9,175.8 L730.8,175.8 L731.7,175.8 L732.6,175.8 L733.5,175.8 L734.4,175.8 L735.3,175.8 L736.2,175.8 L737.1,175.8 L738.0,175.8 L738.9,175.8 L739.8,175.8 L740.7,175.8 L741.6,175.8 L742.5,175.8 L743.4,175.8 L744.3,175.8 L745.2,175.8 L746.1,175.8 L747.0,175.8 L747.9,175.8 L748.8,175.8 L749.7,175.8 L750.6,175.8 L751.5,175.8 L752.4,175.8 L753.3,175.8 L754.2,175.8 L755.1,175.8 L756.0,175.8 L756.9,175.8 L757.8,175.8 L758.7,175.8 L759.6,175.8 L760.5,175.8 L761.4,175.8 L762.3,175.8 L763.2,175.8 L764.1,175.8 L765.0,175.8 L765.9,175.8 L766.8,175.8 L767.7,175.8 L768.6,175.8 L769.5,175.8 L770.4,175.8 L771.3,175.8 L772.2,175.8 L773.1,175.8 L774.0,175.8 L774.9,175.8 L775.8,175.8 L776.7,175.8 L777.6,175.8 L778.5,175.8 L779.4,175.8 L780.3,175.8 L781.2,175.8 L782.1,175.8 L783.0,175.8 L783.9,175.8 L784.8,175.8 L785.7,175.8 L786.6,175.8 L787.5,175.8 L788.4,175.8 L789.3,175.8 L790.2,175.8 L791.1,175.8 L792.0,175.8 L792.9,175.8 L793.8,175.8 L794.7,175.8 L795.6,175.8 L796.5,175.8 L797.4,175.8 L798.3,175.8 L799.2,175.8 L800.1,175.8 L801.0,175.8 L801.9,175.8 L802.8,175.8 L803.7,175.8 L804.6,175.8 L805.5,175.8 L806.4,175.8 L807.3,175.8 L808.2,175.8 L809.1,175.8 L810.0,175.8 L810.9,175.8 L811.8,175.8 L812.7,175.8 L813.6,175.8 L814.5,175.8 L815.4,175.8 L816.3,175.8 L817.2,175.8 L818.1,175.8 L818.8,175.8" stroke="#0e0c0d"/>
<path d="M577.4,175.8 L578.3,175.8 L579.2,175.8 L580.1,175.8 L581.0,175.8 L581.9,175.8 L582.8,175.8 L583.7,175.8 L584.6,175.8 L585.5,175.8 L586.4,175.8 L587.3,175.8 L588.2,175.8 L589.1,175.8 L590.0,175.8 L590.9,175.8 L591.8,175.8 L592.7,175.8 L593.6,175.8 L594.5,175.8 L595.4,175.8 L596.3,175.8 L597.2,175.8 L598.1,175.8 L599.0,175.8 L599.9,175.7 L600.8,175.7 L601.7,175.6 L602.6,175.5 L603.5,175.4 L604.4,175.2 L605.2,175.0 L606.1,174.7 L606.9,174.3 L607.7,173.8 L608.4,173.3 L609.1,172.7 L609.7,172.0 L610.2,171.3 L610.7,170.6 L611.2,169.8 L611.7,169.0 L612.1,168.2 L612.4,167.4 L612.8,166.6 L613.1,165.8 L613.5,164.9 L613.8,164.1 L614.1,163.2 L614.3,162.4 L614.6,161.4 L614.8,160.6 L615.1,159.8 L615.3,158.9 L615.5,158.0 L615.8,157.2 L616.0,156.3 L616.2,155.4 L616.4,154.5 L616.6,153.6 L616.8,152.7 L617.0,151.8 L617.1,151.0 L617.3,150.1 L617.5,149.2 L617.7,148.3 L617.8,147.5 L618.0,146.5 L618.2,145.6 L618.3,144.8 L618.5,143.9 L618.6,143.0 L618.8,142.1 L618.9,141.2 L619.1,140.3 L619.2,139.4 L619.3,138.6 L619.5,137.7 L619.6,136.8 L619.8,135.8 L619.9,135.0 L620.0,134.1 L620.2,133.2 L620.3,132.3 L620.4,131.5 L620.5,130.5 L620.7,129.7 L620.8,128.8 L620.9,127.8 L621.0,126.9 L621.2,126.0 L621.3,125.1 L621.4,124.2 L621.5,123.3 L621.6,122.6 L621.7,121.6 L621.9,120.7 L622.0,119.8 L622.1,119.0 L622.2,118.1 L622.3,117.1 L622.4,116.3 L622.5,115.3 L622.6,114.5 L622.8,113.6 L622.9,112.7 L623.0,111.8 L623.1,110.9 L623.2,109.9 L623.3,109.1 L623.4,108.3 L623.5,107.3 L623.6,106.4 L623.7,105.6 L623.8,104.6 L623.9,103.7 L624.0,102.9 L624.1,102.0 L624.3,101.0 L624.4,100.1 L624.5,99.2 L624.6,98.4 L624.7,97.5 L624.8,96.6 L624.9,95.6 L625.0,94.7 L625.1,93.9 L625.2,93.0 L625.3,92.1 L625.4,91.2 L625.5,90.4 L625.6,89.5 L625.7,88.6 L625.8,87.7 L625.9,86.7 L626.0,85.8 L626.1,84.9 L626.2,84.0 L626.3,83.2 L626.4,82.3 L626.5,81.4 L626.6,80.5 L626.7,79.7 L626.8,78.6 L626.9,77.7 L627.0,76.9 L627.1,76.0 L627.2,75.1 L627.3,74.3 L627.4,73.4 L627.5,72.4 L627.6,71.5 L627.7,70.7 L627.8,69.8 L628.0,68.8 L628.1,67.9 L628.2,67.1 L628.3,66.3 L628.4,65.3 L628.5,64.4 L628.6,63.4 L628.7,62.6 L628.8,61.8 L628.9,60.8 L629.0,60.0 L629.1,59.0 L629.2,58.2 L629.4,57.3 L629.5,56.3 L629.6,55.5 L629.7,54.6 L629.8,53.7 L629.9,52.8 L630.1,51.8 L630.2,50.9 L630.3,50.1 L630.4,49.2 L630.5,48.3 L630.7,47.4 L630.8,46.6 L630.9,45.7 L631.0,44.7 L631.2,43.9 L631.3,43.0 L631.4,42.1 L631.6,41.2 L631.7,40.3 L631.8,39.4 L632.0,38.5 L632.1,37.7 L632.3,36.8 L632.4,35.9 L632.6,35.0 L632.7,34.1 L632.9,33.2 L633.0,32.4 L633.2,31.5 L633.4,30.6 L633.6,29.7 L633.7,28.8 L633.9,28.0 L634.1,27.1 L634.3,26.2 L634.5,25.3 L634.8,24.5 L635.0,23.6 L635.3,22.7 L635.5,21.9 L635.8,21.0 L636.2,20.2 L636.5,19.4 L637.0,18.6 L637.5,17.9 L638.2,17.4 L639.1,17.5 L639.8,18.1 L640.3,18.9 L640.7,19.6 L641.1,20.5 L641.4,21.3 L641.7,22.2 L642.0,23.0 L642.3,23.9 L642.5,24.7 L642.8,25.6 L643.0,26.5 L643.2,27.4 L643.5,28.3 L643.7,29.1 L643.9,30.0 L644.1,30.9 L644.3,31.8 L644.4,32.6 L644.6,33.5 L644.8,34.4 L645.0,35.3 L645.2,36.2 L645.3,37.1 L645.5,37.9 L645.7,38.8 L645.8,39.8 L646.0,40.6 L646.2,41.5 L646.3,42.4 L646.5,43.2 L646.6,44.1 L646.8,45.0 L646.9,45.9 L647.1,46.8 L647.2,47.7 L647.4,48.6 L647.5,49.4 L647.7,50.4 L647.8,51.2 L648.0,52.1 L648.1,53.0 L648.3,53.9 L648.4,54.8 L648.5,55.7 L648.7,56.6 L648.8,57.5 L649.0,58.3 L649.1,59.2 L649.2,60.1 L649.4,61.0 L649.5,61.9 L649.7,62.8 L649.8,63.7 L649.9,64.6 L650.1,65.4 L650.2,66.3 L650.3,67.2 L650.5,68.1 L650.6,69.1 L650.8,70.0 L650.9,70.8 L651.0,71.7 L651.2,72.6 L651.3,73.5 L651.4,74.4 L651.6,75.2 L651.7,76.1 L651.8,77.0 L652.0,77.9 L652.1,78.9 L652.2,79.6 L652.4,80.5 L652.5,81.5 L652.7,82.4 L652.8,83.3 L652.9,84.2 L653.1,85.1 L653.2,86.0 L653.4,86.9 L653.5,87.6 L653.6,88.5 L653.8,89.4 L653.9,90.3 L654.0,91.2 L654.2,92.1 L654.3,93.1 L654.5,94.0 L654.6,94.8 L654.8,95.7 L654.9,96.6 L655.0,97.4 L655.2,98.3 L655.3,99.3 L655.5,100.1 L655.6,101.0 L655.8,102.0 L655.9,102.8 L656.1,103.7 L656.2,104.6 L656.4,105.5 L656.5,106.3 L656.7,107.3 L656.8,108.1 L657.0,109.0 L657.1,109.9 L657.3,110.8 L657.4,111.6 L657.6,112.5 L657.8,113.4 L657.9,114.3 L658.1,115.2 L658.3,116.1 L658.4,117.0 L658.6,117.9 L658.7,118.7 L658.9,119.7 L659.1,120.5 L659.3,121.4 L659.4,122.2 L659.6,123.1 L659.8,124.0 L660.0,124.9 L660.1,125.8 L660.3,126.7 L660.5,127.6 L660.7,128.4 L660.9,129.4 L661.1,130.2 L661.3,131.1 L661.4,131.9 L661.6,132.8 L661.8,133.7 L662.0,134.6 L662.2,135.4 L662.5,136.4 L662.7,137.2 L662.9,138.1 L663.1,139.0 L663.3,139.9 L663.5,140.7 L663.8,141.6 L664.0,142.5 L664.2,143.3 L664.5,144.2 L664.7,145.0 L665.0,145.9 L665.2,146.8 L665.5,147.6 L665.7,148.5 L666.0,149.3 L666.3,150.2 L666.5,151.1 L666.8,151.9 L667.1,152.8 L667.4,153.7 L667.7,154.5 L668.0,155.3 L668.4,156.2 L668.7,157.0 L669.0,157.8 L669.4,158.7 L669.7,159.5 L670.1,160.3 L670.5,161.1 L670.9,161.9 L671.3,162.7 L671.7,163.5 L672.2,164.3 L672.6,165.1 L673.1,165.8 L673.6,166.6 L674.1,167.3 L674.7,168.0 L675.2,168.7 L675.8,169.4 L676.5,170.1 L677.1,170.7 L677.8,171.3 L678.5,171.8 L679.2,172.4 L680.0,172.8 L680.7,173.3 L681.6,173.7 L682.4,174.0 L683.2,174.4 L684.1,174.6 L684.9,174.9 L685.8,175.1 L686.7,175.2 L687.6,175.4 L688.5,175.5 L689.4,175.6 L690.3,175.6 L691.2,175.7 L692.1,175.7 L693.0,175.7 L693.9,175.8 L694.8,175.8 L695.7,175.8 L696.6,175.8 L697.5,175.8 L698.4,175.8 L699.3,175.8 L700.2,175.8 L701.1,175.8 L702.0,175.8 L702.9,175.8 L703.8,175.8 L704.7,175.8 L705.6,175.8 L706.5,175.8 L707.4,175.8 L708.3,175.8 L709.2,175.8 L710.1,175.8 L711.0,175.8 L711.9,175.8 L712.8,175.8 L713.7,175.8 L714.6,175.8 L715.5,175.8 L716.4,175.8 L717.3,175.8 L718.2,175.8 L719.1,175.8 L720.0,175.8 L720.9,175.8 L721.8,175.8 L722.7,175.8 L723.6,175.8 L724.5,175.8 L725.4,175.8 L726.3,175.8 L727.2,175.8 L728.1,175.8 L729.0,175.8 L729.9,175.8 L730.8,175.8 L731.7,175.8 L732.6,175.8 L733.5,175.8 L734.4,175.8 L735.3,175.8 L736.2,175.8 L737.1,175.8 L738.0,175.8 L738.9,175.8 L739.8,175.8 L740.7,175.8 L741.6,175.8 L742.5,175.8 L743.4,175.8 L744.3,175.8 L745.2,175.8 L746.1,175.8 L747.0,175.8 L747.9,175.8 L748.8,175.8 L749.7,175.8 L750.6,175.8 L751.5,175.8 L752.4,175.8 L753.3,175.8 L754.2,175.8 L755.1,175.8 L756.0,175.8 L756.9,175.8 L757.8,175.8 L758.7,175.8 L759.6,175.8 L760.5,175.8 L761.4,175.8 L762.3,175.8 L763.2,175.8 L764.1,175.8 L765.0,175.8 L765.9,175.8 L766.8,175.8 L767.7,175.8 L768.6,175.8 L769.5,175.8 L770.4,175.8 L771.3,175.8 L772.2,175.8 L773.1,175.8 L774.0,175.8 L774.9,175.8 L775.8,175.8 L776.7,175.8 L777.6,175.8 L778.5,175.8 L779.4,175.8 L780.3,175.8 L781.2,175.8 L782.1,175.8 L783.0,175.8 L783.9,175.8 L784.8,175.8 L785.7,175.8 L786.6,175.8 L787.5,175.8 L788.4,175.8 L789.3,175.8 L790.2,175.8 L791.1,175.8 L792.0,175.8 L792.9,175.8 L793.8,175.8 L794.7,175.8 L795.6,175.8 L796.5,175.8 L797.4,175.8 L798.3,175.8 L799.2,175.8 L800.1,175.8 L801.0,175.8 L801.9,175.8 L802.8,175.8 L803.7,175.8 L804.6,175.8 L805.5,175.8 L806.4,175.8 L807.3,175.8 L808.2,175.8 L809.1,175.8 L810.0,175.8 L810.9,175.8 L811.8,175.8 L812.7,175.8 L813.6,175.8 L814.5,175.8 L815.4,175.8 L816.3,175.8 L817.2,175.8 L818.1,175.8 L818.8,175.8" stroke="#47aeaa"/>
<path d="M577.4,175.8 L578.3,175.8 L579.2,175.8 L580.1,175.8 L581.0,175.8 L581.9,175.8 L582.8,175.8 L583.7,175.8 L584.6,175.8 L585.5,175.8 L586.4,175.8 L587.3,175.8 L588.2,175.8 L589.1,175.8 L590.0,175.8 L590.9,175.8 L591.8,175.8 L592.7,175.8 L593.6,175.8 L594.5,175.8 L595.4,175.8 L596.3,175.8 L597.2,175.8 L598.1,175.8 L599.0,175.8 L599.9,175.8 L600.8,175.8 L601.7,175.8 L602.6,175.8 L603.5,175.8 L604.4,175.8 L605.3,175.8 L606.2,175.7 L607.1,175.7 L608.0,175.7 L608.9,175.6 L609.8,175.5 L610.7,175.4 L611.6,175.3 L612.5,175.1 L613.3,174.9 L614.2,174.7 L615.1,174.4 L615.9,174.0 L616.7,173.5 L617.4,173.0 L618.1,172.5 L618.8,171.9 L619.4,171.2 L620.0,170.6 L620.5,169.8 L621.1,169.1 L621.5,168.3 L622.0,167.6 L622.4,166.8 L622.8,166.0 L623.2,165.1 L623.6,164.3 L624.0,163.5 L624.3,162.7 L624.6,161.8 L624.9,161.0 L625.2,160.2 L625.5,159.3 L625.8,158.5 L626.1,157.6 L626.4,156.7 L626.6,155.9 L626.9,155.0 L627.1,154.1 L627.4,153.3 L627.6,152.4 L627.8,151.5 L628.1,150.6 L628.3,149.7 L628.5,148.9 L628.7,148.0 L628.9,147.2 L629.1,146.3 L629.3,145.4 L629.5,144.5 L629.7,143.6 L629.9,142.8 L630.1,141.8 L630.3,141.0 L630.4,140.1 L630.6,139.2 L630.8,138.3 L631.0,137.4 L631.1,136.6 L631.3,135.7 L631.5,134.8 L631.7,133.9 L631.8,133.0 L632.0,132.2 L632.1,131.3 L632.3,130.4 L632.5,129.5 L632.6,128.6 L632.8,127.7 L632.9,126.8 L633.1,125.9 L633.2,125.1 L633.4,124.1 L633.5,123.3 L633.7,122.4 L633.8,121.5 L634.0,120.6 L634.1,119.7 L634.3,118.9 L634.4,117.9 L634.6,117.0 L634.7,116.2 L634.9,115.3 L635.0,114.4 L635.1,113.6 L635.3,112.7 L635.4,111.7 L635.6,110.8 L635.7,109.9 L635.8,109.1 L636.0,108.2 L636.1,107.3 L636.3,106.4 L636.4,105.5 L636.5,104.6 L636.7,103.7 L636.8,102.8 L637.0,101.9 L637.1,101.1 L637.2,100.2 L637.4,99.3 L637.5,98.3 L637.6,97.4 L637.8,96.6 L637.9,95.7 L638.0,94.8 L638.2,93.9 L638.3,93.1 L638.4,92.2 L638.6,91.3 L638.7,90.3 L638.9,89.4 L639.0,88.7 L639.1,87.7 L639.3,86.8 L639.4,85.9 L639.5,85.0 L639.7,84.1 L639.8,83.2 L639.9,82.4 L640.1,81.5 L640.2,80.6 L640.4,79.7 L640.5,78.9 L640.6,78.0 L640.8,77.1 L640.9,76.1 L641.1,75.2 L641.2,74.3 L641.4,73.5 L641.5,72.6 L641.6,71.8 L641.8,70.8 L641.9,69.9 L642.1,69.0 L642.2,68.2 L642.4,67.2 L642.5,66.4 L642.7,65.5 L642.9,64.6 L643.0,63.8 L643.2,62.9 L643.3,62.0 L643.5,61.1 L643.6,60.2 L643.8,59.3 L644.0,58.4 L644.1,57.5 L644.3,56.6 L644.5,55.8 L644.7,54.9 L644.8,54.0 L645.0,53.1 L645.2,52.2 L645.4,51.4 L645.6,50.5 L645.8,49.6 L646.0,48.7 L646.2,47.8 L646.4,47.0 L646.6,46.1 L646.8,45.2 L647.0,44.4 L647.3,43.5 L647.5,42.6 L647.8,41.8 L648.0,40.9 L648.3,40.1 L648.6,39.2 L648.9,38.3 L649.2,37.5 L649.6,36.7 L649.9,35.9 L650.4,35.1 L650.8,34.3 L651.4,33.6 L652.0,33.0 L652.8,32.6 L653.7,32.7 L654.4,33.2 L655.0,33.9 L655.5,34.7 L655.9,35.5 L656.3,36.3 L656.6,37.1 L657.0,38.0 L657.3,38.8 L657.5,39.7 L657.8,40.6 L658.1,41.4 L658.3,42.3 L658.6,43.1 L658.8,44.0 L659.0,44.9 L659.2,45.7 L659.5,46.6 L659.7,47.5 L659.9,48.4 L660.1,49.3 L660.3,50.2 L660.5,51.0 L660.7,51.9 L660.8,52.7 L661.0,53.7 L661.2,54.5 L661.4,55.4 L661.6,56.3 L661.8,57.2 L661.9,58.1 L662.1,58.9 L662.3,59.8 L662.4,60.7 L662.6,61.6 L662.8,62.4 L663.0,63.4 L663.1,64.3 L663.3,65.1 L663.4,66.0 L663.6,67.0 L663.8,67.8 L663.9,68.7 L664.1,69.6 L664.3,70.5 L664.4,71.4 L664.6,72.3 L664.7,73.2 L664.9,74.0 L665.0,74.9 L665.2,75.8 L665.4,76.7 L665.5,77.6 L665.7,78.5 L665.8,79.3 L666.0,80.2 L666.1,81.1 L666.3,82.0 L666.4,82.8 L666.6,83.7 L666.8,84.7 L666.9,85.6 L667.1,86.4 L667.2,87.3 L667.4,88.2 L667.5,89.1 L667.7,89.9 L667.8,90.8 L668.0,91.7 L668.2,92.7 L668.3,93.4 L668.5,94.4 L668.6,95.3 L668.8,96.2 L668.9,97.1 L669.1,98.0 L669.3,98.8 L669.4,99.7 L669.6,100.6 L669.7,101.5 L669.9,102.4 L670.1,103.3 L670.2,104.2 L670.4,105.0 L670.5,105.9 L670.7,106.8 L670.9,107.6 L671.0,108.6 L671.2,109.4 L671.4,110.3 L671.5,111.2 L671.7,112.1 L671.9,113.0 L672.0,113.8 L672.2,114.8 L672.4,115.6 L672.6,116.5 L672.7,117.4 L672.9,118.3 L673.1,119.2 L673.3,120.1 L673.5,120.9 L673.6,121.8 L673.8,122.7 L674.0,123.5 L674.2,124.4 L674.4,125.3 L674.6,126.2 L674.8,127.1 L675.0,128.0 L675.1,128.8 L675.3,129.7 L675.5,130.6 L675.7,131.4 L675.9,132.3 L676.2,133.2 L676.4,134.1 L676.6,135.0 L676.8,135.8 L677.0,136.7 L677.2,137.6 L677.4,138.4 L677.7,139.3 L677.9,140.2 L678.1,141.0 L678.4,141.9 L678.6,142.8 L678.8,143.6 L679.1,144.6 L679.3,145.4 L679.6,146.3 L679.9,147.1 L680.1,148.0 L680.4,148.8 L680.7,149.7 L680.9,150.5 L681.2,151.4 L681.5,152.3 L681.8,153.1 L682.1,153.9 L682.4,154.8 L682.8,155.6 L683.1,156.5 L683.4,157.3 L683.8,158.1 L684.1,158.9 L684.5,159.8 L684.9,160.6 L685.3,161.4 L685.7,162.2 L686.1,163.0 L686.5,163.8 L687.0,164.6 L687.4,165.3 L687.9,166.1 L688.4,166.8 L688.9,167.6 L689.5,168.3 L690.0,169.0 L690.6,169.7 L691.3,170.3 L691.9,170.9 L692.6,171.5 L693.3,172.1 L694.0,172.6 L694.8,173.1 L695.6,173.5 L696.4,173.9 L697.2,174.3 L698.0,174.6 L698.9,174.8 L699.8,175.1 L700.7,175.2 L701.6,175.4 L702.4,175.5 L703.3,175.6 L704.2,175.7 L705.1,175.7 L706.0,175.7 L706.9,175.8 L707.8,175.8 L708.7,175.8 L709.6,175.8 L710.5,175.8 L711.4,175.8 L712.3,175.8 L713.2,175.8 L714.1,175.8 L715.0,175.8 L715.9,175.8 L716.8,175.8 L717.7,175.8 L718.6,175.8 L719.5,175.8 L720.4,175.8 L721.3,175.8 L722.2,175.8 L723.1,175.8 L724.0,175.8 L724.9,175.8 L725.8,175.8 L726.7,175.8 L727.6,175.8 L728.5,175.8 L729.4,175.8 L730.3,175.8 L731.2,175.8 L732.1,175.8 L733.0,175.8 L733.9,175.8 L734.8,175.8 L735.7,175.8 L736.6,175.8 L737.5,175.8 L738.4,175.8 L739.3,175.8 L740.2,175.8 L741.1,175.8 L742.0,175.8 L742.9,175.8 L743.8,175.8 L744.7,175.8 L745.6,175.8 L746.5,175.8 L747.4,175.8 L748.3,175.8 L749.2,175.8 L750.1,175.8 L751.0,175.8 L751.9,175.8 L752.8,175.8 L753.7,175.8 L754.6,175.8 L755.5,175.8 L756.4,175.8 L757.3,175.8 L758.2,175.8 L759.1,175.8 L760.0,175.8 L760.9,175.8 L761.8,175.8 L762.7,175.8 L763.6,175.8 L764.5,175.8 L765.4,175.8 L766.3,175.8 L767.2,175.8 L768.1,175.8 L769.0,175.8 L769.9,175.8 L770.8,175.8 L771.7,175.8 L772.6,175.8 L773.5,175.8 L774.4,175.8 L775.3,175.8 L776.2,175.8 L777.1,175.8 L778.0,175.8 L778.9,175.8 L779.8,175.8 L780.7,175.8 L781.6,175.8 L782.5,175.8 L783.4,175.8 L784.3,175.8 L785.2,175.8 L786.1,175.8 L787.0,175.8 L787.9,175.8 L788.8,175.8 L789.7,175.8 L790.6,175.8 L791.5,175.8 L792.4,175.8 L793.3,175.8 L794.2,175.8 L795.1,175.8 L796.0,175.8 L796.9,175.8 L797.8,175.8 L798.7,175.8 L799.6,175.8 L800.5,175.8 L801.4,175.8 L802.3,175.8 L803.2,175.8 L804.1,175.8 L805.0,175.8 L805.9,175.8 L806.8,175.8 L807.7,175.8 L808.6,175.8 L809.5,175.8 L810.4,175.8 L811.3,175.8 L812.2,175.8 L813.1,175.8 L814.0,175.8 L814.9,175.8 L815.8,175.8 L816.7,175.8 L817.6,175.8 L818.5,175.8 L818.8,175.8" stroke="#4d72b4"/>
<path d="M577.4,175.8 L578.3,175.8 L579.2,175.8 L580.1,175.8 L581.0,175.8 L581.9,175.8 L582.8,175.8 L583.7,175.8 L584.6,175.8 L585.5,175.8 L586.4,175.8 L587.3,175.8 L588.2,175.8 L589.1,175.8 L590.0,175.8 L590.9,175.8 L591.8,175.8 L592.7,175.8 L593.6,175.8 L594.5,175.8 L595.4,175.8 L596.3,175.8 L597.2,175.8 L598.1,175.8 L599.0,175.8 L599.9,175.8 L600.8,175.8 L601.7,175.8 L602.6,175.8 L603.5,175.8 L604.4,175.8 L605.3,175.8 L606.2,175.8 L607.1,175.8 L608.0,175.8 L608.9,175.8 L609.8,175.8 L610.7,175.8 L611.6,175.8 L612.5,175.8 L613.4,175.8 L614.3,175.8 L615.2,175.8 L616.1,175.8 L617.0,175.8 L617.9,175.8 L618.8,175.8 L619.7,175.8 L620.6,175.8 L621.5,175.8 L622.4,175.8 L623.3,175.8 L624.2,175.8 L625.1,175.8 L626.0,175.8 L626.9,175.7 L627.8,175.7 L628.7,175.5 L629.6,175.3 L630.4,174.9 L631.1,174.4 L631.8,173.8 L632.3,173.1 L632.8,172.3 L633.3,171.5 L633.6,170.7 L634.0,169.9 L634.3,169.1 L634.6,168.2 L634.8,167.3 L635.1,166.5 L635.3,165.6 L635.5,164.7 L635.8,163.8 L636.0,162.9 L636.1,162.1 L636.3,161.2 L636.5,160.3 L636.7,159.4 L636.8,158.5 L637.0,157.6 L637.2,156.7 L637.3,155.9 L637.5,154.9 L637.6,154.1 L637.7,153.2 L637.9,152.3 L638.0,151.5 L638.1,150.5 L638.3,149.7 L638.4,148.7 L638.5,147.8 L638.6,147.0 L638.8,146.1 L638.9,145.2 L639.0,144.2 L639.1,143.3 L639.2,142.5 L639.3,141.6 L639.4,140.8 L639.6,139.8 L639.7,139.0 L639.8,138.0 L639.9,137.1 L640.0,136.3 L640.1,135.4 L640.2,134.4 L640.3,133.5 L640.4,132.6 L640.5,131.7 L640.6,130.8 L640.7,129.9 L640.8,129.0 L640.9,128.2 L641.0,127.3 L641.1,126.4 L641.2,125.5 L641.3,124.5 L641.4,123.8 L641.5,122.8 L641.6,121.9 L641.7,120.9 L641.7,120.1 L641.8,119.2 L641.9,118.4 L642.0,117.4 L642.1,116.5 L642.2,115.7 L642.3,114.7 L642.4,113.9 L642.5,112.9 L642.6,112.0 L642.7,111.2 L642.8,110.2 L642.8,109.4 L642.9,108.4 L643.0,107.6 L643.1,106.6 L643.2,105.8 L643.3,104.8 L643.4,104.0 L643.5,103.1 L643.6,102.3 L643.7,101.3 L643.7,100.5 L643.8,99.5 L643.9,98.7 L644.0,97.7 L644.1,96.7 L644.2,96.0 L644.3,95.0 L644.4,94.2 L644.5,93.2 L644.6,92.3 L644.7,91.5 L644.8,90.5 L644.9,89.6 L644.9,88.8 L645.0,87.9 L645.1,86.9 L645.2,86.2 L645.3,85.2 L645.4,84.3 L645.5,83.4 L645.6,82.4 L645.7,81.7 L645.8,80.8 L645.9,79.9 L646.0,79.0 L646.1,78.1 L646.2,77.2 L646.3,76.3 L646.4,75.3 L646.5,74.4 L646.6,73.6 L646.7,72.7 L646.8,71.7 L646.9,70.9 L647.0,70.1 L647.2,69.1 L647.3,68.3 L647.4,67.3 L647.5,66.4 L647.6,65.5 L647.7,64.7 L647.8,63.8 L648.0,62.9 L648.1,62.0 L648.2,61.0 L648.3,60.2 L648.5,59.4 L648.6,58.4 L648.7,57.5 L648.9,56.7 L649.0,55.8 L649.2,54.8 L649.3,54.0 L649.4,53.1 L649.6,52.2 L649.8,51.3 L649.9,50.5 L650.1,49.5 L650.3,48.6 L650.5,47.8 L650.6,46.9 L650.8,46.1 L651.1,45.2 L651.3,44.3 L651.5,43.4 L651.8,42.6 L652.0,41.7 L652.4,40.9 L652.7,40.0 L653.1,39.2 L653.6,38.5 L654.2,37.9 L655.1,37.7 L655.9,38.1 L656.5,38.7 L657.0,39.5 L657.5,40.3 L657.9,41.1 L658.2,41.9 L658.6,42.8 L658.9,43.6 L659.2,44.5 L659.5,45.3 L659.7,46.1 L660.0,47.0 L660.3,47.9 L660.5,48.7 L660.8,49.6 L661.0,50.5 L661.3,51.3 L661.5,52.2 L661.7,53.1 L661.9,53.9 L662.2,54.9 L662.4,55.7 L662.6,56.5 L662.8,57.4 L663.0,58.3 L663.3,59.2 L663.5,60.1 L663.7,61.0 L663.9,61.8 L664.1,62.7 L664.3,63.5 L664.5,64.5 L664.7,65.3 L664.9,66.2 L665.1,67.1 L665.3,67.9 L665.5,68.8 L665.7,69.7 L665.9,70.6 L666.1,71.5 L666.3,72.3 L666.5,73.2 L666.7,74.1 L666.9,75.0 L667.1,75.9 L667.3,76.7 L667.5,77.6 L667.7,78.5 L667.9,79.4 L668.1,80.3 L668.3,81.1 L668.5,82.0 L668.7,82.9 L668.9,83.7 L669.1,84.6 L669.3,85.5 L669.5,86.4 L669.7,87.3 L669.9,88.1 L670.1,89.0 L670.3,89.9 L670.5,90.7 L670.8,91.7 L671.0,92.5 L671.2,93.4 L671.4,94.2 L671.6,95.1 L671.8,96.0 L672.0,96.9 L672.3,97.8 L672.5,98.7 L672.7,99.5 L672.9,100.4 L673.1,101.2 L673.4,102.1 L673.6,102.9 L673.8,103.9 L674.0,104.7 L674.3,105.6 L674.5,106.5 L674.8,107.4 L675.0,108.2 L675.2,109.1 L675.5,109.9 L675.7,110.8 L676.0,111.6 L676.2,112.5 L676.5,113.4 L676.7,114.2 L677.0,115.1 L677.2,116.0 L677.5,116.8 L677.8,117.7 L678.0,118.5 L678.3,119.4 L678.6,120.2 L678.9,121.1 L679.1,121.9 L679.4,122.8 L679.7,123.7 L680.0,124.5 L680.3,125.4 L680.6,126.2 L680.9,127.1 L681.2,127.9 L681.5,128.8 L681.9,129.6 L682.2,130.4 L682.5,131.3 L682.8,132.1 L683.2,132.9 L683.5,133.8 L683.9,134.6 L684.2,135.4 L684.6,136.2 L685.0,137.1 L685.3,137.9 L685.7,138.7 L686.1,139.5 L686.5,140.3 L686.9,141.1 L687.3,141.9 L687.7,142.7 L688.1,143.5 L688.6,144.3 L689.0,145.1 L689.4,145.9 L689.9,146.7 L690.4,147.4 L690.8,148.2 L691.3,149.0 L691.8,149.7 L692.3,150.5 L692.8,151.2 L693.4,151.9 L693.9,152.6 L694.4,153.4 L695.0,154.1 L695.6,154.8 L696.1,155.4 L696.7,156.1 L697.3,156.8 L698.0,157.5 L698.6,158.1 L699.2,158.7 L699.9,159.3 L700.5,159.9 L701.2,160.5 L701.9,161.1 L702.6,161.7 L703.3,162.2 L704.0,162.8 L704.8,163.3 L705.5,163.8 L706.3,164.3 L707.0,164.8 L707.8,165.2 L708.6,165.7 L709.4,166.1 L710.2,166.5 L711.0,166.9 L711.8,167.3 L712.6,167.7 L713.5,168.0 L714.3,168.4 L715.1,168.7 L716.0,169.0 L716.8,169.3 L717.7,169.6 L718.5,169.9 L719.4,170.1 L720.3,170.4 L721.1,170.6 L722.0,170.8 L722.9,171.1 L723.7,171.3 L724.6,171.5 L725.5,171.7 L726.4,171.8 L727.3,172.0 L728.2,172.2 L729.0,172.3 L729.9,172.5 L730.8,172.6 L731.7,172.8 L732.6,172.9 L733.5,173.0 L734.4,173.1 L735.3,173.2 L736.2,173.4 L737.1,173.5 L738.0,173.6 L738.8,173.6 L739.7,173.7 L740.6,173.8 L741.5,173.9 L742.4,174.0 L743.3,174.1 L744.2,174.1 L745.1,174.2 L746.0,174.3 L746.9,174.3 L747.8,174.4 L748.7,174.4 L749.6,174.5 L750.5,174.5 L751.4,174.6 L752.3,174.6 L753.2,174.7 L754.1,174.7 L755.0,174.8 L755.9,174.8 L756.8,174.9 L757.7,174.9 L758.6,174.9 L759.5,175.0 L760.4,175.0 L761.3,175.0 L762.2,175.1 L763.1,175.1 L764.0,175.1 L764.9,175.1 L765.8,175.2 L766.7,175.2 L767.6,175.2 L768.5,175.2 L769.4,175.2 L770.3,175.3 L771.2,175.3 L772.1,175.3 L773.0,175.3 L773.9,175.3 L774.8,175.4 L775.7,175.4 L776.6,175.4 L777.5,175.4 L778.4,175.4 L779.3,175.4 L780.2,175.4 L781.1,175.5 L782.0,175.5 L782.9,175.5 L783.8,175.5 L784.7,175.5 L785.6,175.5 L786.5,175.5 L787.4,175.5 L788.3,175.5 L789.2,175.5 L790.1,175.6 L791.0,175.6 L791.9,175.6 L792.8,175.6 L793.7,175.6 L794.6,175.6 L795.5,175.6 L796.4,175.6 L797.3,175.6 L798.2,175.6 L799.1,175.6 L800.0,175.6 L800.9,175.6 L801.8,175.6 L802.7,175.6 L803.6,175.7 L804.5,175.7 L805.4,175.7 L806.3,175.7 L807.2,175.7 L808.1,175.7 L809.0,175.7 L809.9,175.7 L810.8,175.7 L811.7,175.7 L812.6,175.7 L813.5,175.7 L814.4,175.7 L815.3,175.7 L816.2,175.7 L817.1,175.7 L818.0,175.7 L818.8,175.7" stroke="#311f4c"/>
</g>
<g font-size="7.7" fill="#1e1a1b">
<text transform="matrix(1.13 0 0 1 581.40 186.60)" text-anchor="middle">-1</text>
<text transform="matrix(1.13 0 0 1 617.90 186.60)" text-anchor="middle">0</text>
<text transform="matrix(1.13 0 0 1 654.40 186.60)" text-anchor="middle">1</text>
<text transform="matrix(1.13 0 0 1 690.90 186.60)" text-anchor="middle">2</text>
<text transform="matrix(1.13 0 0 1 727.40 186.60)" text-anchor="middle">3</text>
<text transform="matrix(1.13 0 0 1 763.90 186.60)" text-anchor="middle">4</text>
<text transform="matrix(1.13 0 0 1 800.40 186.60)" text-anchor="middle">5</text>
<text transform="matrix(1.13 0 0 1 573.60 178.80)" text-anchor="end">0</text>
<text transform="matrix(1.13 0 0 1 573.60 151.22)" text-anchor="end">0.2</text>
<text transform="matrix(1.13 0 0 1 573.60 123.64)" text-anchor="end">0.4</text>
<text transform="matrix(1.13 0 0 1 573.60 96.06)" text-anchor="end">0.6</text>
<text transform="matrix(1.13 0 0 1 573.60 68.48)" text-anchor="end">0.8</text>
<text transform="matrix(1.13 0 0 1 573.60 40.90)" text-anchor="end">1</text>
<text transform="matrix(1.13 0 0 1 573.60 13.32)" text-anchor="end">1.2</text>
</g>
<text transform="matrix(1.13 0 0 1 579.30 16.60)" font-size="8.0" fill="#1e1a1b">(c) Rx1day</text>
<text x="698.10" y="196.40" font-size="8.6" fill="#1e1a1b" text-anchor="middle" textLength="43.3" lengthAdjust="spacingAndGlyphs">Change (<tspan font-style="italic">σ</tspan>)</text>
<text transform="translate(559.40,92.70) rotate(-90) scale(1,1.13)" font-size="8.7" fill="#1e1a1b" text-anchor="middle" textLength="25.6" lengthAdjust="spacingAndGlyphs">Density</text>
<rect x="772.70" y="16.10" width="39.0" height="29.1" fill="#fff" stroke="#b9b5b3" stroke-width="1"/>
<path d="M775.00,20.10H791.60" stroke="#0e0c0d" stroke-width="1.9"/>
<text class="lg" x="793.70" y="22.94" font-size="6.3" fill="#2a2627" textLength="14.9" lengthAdjust="spacingAndGlyphs">1.5°C</text>
<path d="M775.00,26.95H791.60" stroke="#47aeaa" stroke-width="1.9"/>
<text class="lg" x="793.70" y="29.79" font-size="6.3" fill="#2a2627" textLength="14.9" lengthAdjust="spacingAndGlyphs">2.0°C</text>
<path d="M775.00,33.80H791.60" stroke="#4d72b4" stroke-width="1.9"/>
<text class="lg" x="793.70" y="36.63" font-size="6.3" fill="#2a2627" textLength="14.9" lengthAdjust="spacingAndGlyphs">3.0°C</text>
<path d="M775.00,40.65H791.60" stroke="#311f4c" stroke-width="1.9"/>
<text class="lg" x="793.70" y="43.48" font-size="6.3" fill="#2a2627" textLength="14.9" lengthAdjust="spacingAndGlyphs">4.0°C</text>
<rect x="29.4" y="204.2" width="241.20" height="166.50" fill="#fff"/>
<clipPath id="clipd"><rect x="29.4" y="203.2" width="241.20" height="169.10"/></clipPath>
<path d="M65.20,370.70v-2.4M65.20,204.20v2.4M108.40,370.70v-2.4M108.40,204.20v2.4M151.60,370.70v-2.4M151.60,204.20v2.4M194.80,370.70v-2.4M194.80,204.20v2.4M238.00,370.70v-2.4M238.00,204.20v2.4M29.40,370.70h2.4M270.60,370.70h-2.4M29.40,350.56h2.4M270.60,350.56h-2.4M29.40,330.42h2.4M270.60,330.42h-2.4M29.40,310.28h2.4M270.60,310.28h-2.4M29.40,290.14h2.4M270.60,290.14h-2.4M29.40,270.00h2.4M270.60,270.00h-2.4M29.40,249.86h2.4M270.60,249.86h-2.4M29.40,229.72h2.4M270.60,229.72h-2.4M29.40,209.58h2.4M270.60,209.58h-2.4" stroke="#8a8684" stroke-width="0.8" fill="none"/>
<rect x="29.4" y="204.2" width="241.20" height="166.50" fill="none" stroke="#b9b5b3" stroke-width="1.4"/>
<g clip-path="url(#clipd)" fill="none" stroke-width="2.1" stroke-linejoin="round">
<path d="M29.4,370.6 L30.3,370.6 L31.2,370.6 L32.1,370.5 L33.0,370.5 L33.9,370.4 L34.8,370.3 L35.7,370.2 L36.6,370.1 L37.5,370.0 L38.4,369.9 L39.2,369.7 L40.1,369.5 L41.0,369.2 L41.8,368.9 L42.7,368.6 L43.5,368.3 L44.3,367.9 L45.1,367.5 L45.9,367.0 L46.7,366.5 L47.4,366.0 L48.1,365.4 L48.8,364.8 L49.4,364.2 L50.1,363.6 L50.7,362.9 L51.3,362.3 L51.9,361.6 L52.4,360.8 L52.9,360.2 L53.5,359.4 L54.0,358.7 L54.5,357.9 L54.9,357.1 L55.4,356.4 L55.9,355.6 L56.3,354.8 L56.7,354.0 L57.1,353.2 L57.6,352.4 L58.0,351.6 L58.3,350.8 L58.7,350.0 L59.1,349.1 L59.5,348.3 L59.8,347.5 L60.2,346.7 L60.6,345.8 L60.9,345.0 L61.2,344.2 L61.6,343.4 L61.9,342.6 L62.2,341.7 L62.6,340.8 L62.9,340.0 L63.2,339.1 L63.5,338.3 L63.8,337.5 L64.1,336.6 L64.4,335.8 L64.7,334.9 L65.0,334.1 L65.3,333.3 L65.6,332.4 L65.9,331.6 L66.2,330.7 L66.5,329.8 L66.7,329.0 L67.0,328.1 L67.3,327.3 L67.6,326.4 L67.9,325.5 L68.1,324.7 L68.4,323.8 L68.7,323.0 L68.9,322.1 L69.2,321.2 L69.5,320.4 L69.8,319.5 L70.0,318.7 L70.3,317.8 L70.6,316.9 L70.8,316.1 L71.1,315.2 L71.3,314.4 L71.6,313.5 L71.9,312.7 L72.1,311.8 L72.4,310.9 L72.7,310.0 L72.9,309.2 L73.2,308.3 L73.4,307.5 L73.7,306.6 L74.0,305.8 L74.2,304.9 L74.5,304.0 L74.8,303.2 L75.0,302.3 L75.3,301.5 L75.5,300.6 L75.8,299.7 L76.1,298.9 L76.3,298.0 L76.6,297.1 L76.9,296.3 L77.2,295.4 L77.4,294.6 L77.7,293.7 L78.0,292.9 L78.2,292.0 L78.5,291.2 L78.8,290.3 L79.1,289.4 L79.4,288.6 L79.6,287.7 L79.9,286.9 L80.2,286.0 L80.5,285.2 L80.8,284.3 L81.1,283.5 L81.4,282.6 L81.7,281.8 L82.0,280.9 L82.3,280.1 L82.6,279.2 L82.9,278.4 L83.2,277.6 L83.6,276.7 L83.9,275.9 L84.2,275.1 L84.6,274.2 L84.9,273.4 L85.3,272.5 L85.6,271.7 L86.0,270.9 L86.3,270.1 L86.7,269.3 L87.1,268.5 L87.5,267.6 L87.9,266.8 L88.3,266.0 L88.7,265.2 L89.1,264.4 L89.6,263.7 L90.0,262.9 L90.5,262.1 L91.0,261.4 L91.5,260.6 L92.0,259.9 L92.6,259.2 L93.2,258.5 L93.8,257.8 L94.4,257.2 L95.1,256.6 L95.8,256.1 L96.6,255.6 L97.4,255.1 L98.2,254.8 L99.0,254.6 L99.9,254.4 L100.8,254.4 L101.7,254.5 L102.6,254.7 L103.5,255.0 L104.3,255.4 L105.0,255.9 L105.8,256.4 L106.5,256.9 L107.2,257.5 L107.9,258.1 L108.5,258.7 L109.1,259.4 L109.7,260.0 L110.3,260.7 L110.9,261.4 L111.5,262.1 L112.0,262.8 L112.6,263.6 L113.1,264.3 L113.6,265.0 L114.1,265.8 L114.6,266.5 L115.1,267.3 L115.6,268.0 L116.1,268.8 L116.5,269.5 L117.0,270.3 L117.5,271.1 L117.9,271.9 L118.4,272.6 L118.9,273.4 L119.3,274.2 L119.7,275.0 L120.2,275.8 L120.6,276.6 L121.1,277.4 L121.5,278.1 L121.9,278.9 L122.4,279.7 L122.8,280.5 L123.2,281.3 L123.7,282.1 L124.1,282.9 L124.5,283.7 L124.9,284.5 L125.4,285.2 L125.8,286.0 L126.2,286.8 L126.6,287.6 L127.1,288.4 L127.5,289.2 L127.9,290.0 L128.3,290.8 L128.7,291.6 L129.2,292.4 L129.6,293.2 L130.0,294.0 L130.4,294.8 L130.9,295.6 L131.3,296.4 L131.7,297.2 L132.1,298.0 L132.6,298.8 L133.0,299.5 L133.4,300.3 L133.8,301.1 L134.3,301.9 L134.7,302.7 L135.1,303.5 L135.6,304.3 L136.0,305.1 L136.5,305.9 L136.9,306.6 L137.3,307.4 L137.8,308.2 L138.2,309.0 L138.7,309.8 L139.1,310.5 L139.6,311.3 L140.0,312.1 L140.5,312.9 L141.0,313.6 L141.4,314.4 L141.9,315.2 L142.4,316.0 L142.8,316.7 L143.3,317.5 L143.8,318.2 L144.3,319.0 L144.7,319.8 L145.2,320.5 L145.7,321.3 L146.2,322.0 L146.7,322.8 L147.2,323.5 L147.7,324.3 L148.2,325.0 L148.7,325.7 L149.3,326.5 L149.8,327.2 L150.3,327.9 L150.8,328.7 L151.4,329.4 L151.9,330.1 L152.5,330.8 L153.0,331.6 L153.6,332.3 L154.1,333.0 L154.7,333.7 L155.2,334.4 L155.8,335.1 L156.4,335.7 L157.0,336.5 L157.6,337.1 L158.2,337.8 L158.8,338.5 L159.4,339.1 L160.0,339.8 L160.6,340.5 L161.2,341.1 L161.8,341.8 L162.5,342.4 L163.1,343.0 L163.7,343.6 L164.4,344.3 L165.1,344.9 L165.7,345.5 L166.4,346.1 L167.1,346.7 L167.7,347.3 L168.4,347.9 L169.1,348.4 L169.8,349.0 L170.5,349.6 L171.2,350.1 L172.0,350.6 L172.7,351.2 L173.4,351.7 L174.2,352.2 L174.9,352.7 L175.6,353.2 L176.4,353.7 L177.2,354.2 L177.9,354.7 L178.7,355.2 L179.5,355.6 L180.3,356.1 L181.0,356.5 L181.8,356.9 L182.6,357.3 L183.4,357.7 L184.2,358.2 L185.0,358.5 L185.9,358.9 L186.7,359.3 L187.5,359.7 L188.3,360.0 L189.2,360.4 L190.0,360.7 L190.8,361.0 L191.7,361.3 L192.5,361.7 L193.4,362.0 L194.2,362.3 L195.1,362.5 L195.9,362.8 L196.8,363.1 L197.6,363.4 L198.5,363.6 L199.4,363.9 L200.2,364.1 L201.1,364.3 L202.0,364.6 L202.8,364.8 L203.7,365.0 L204.6,365.2 L205.5,365.4 L206.4,365.6 L207.2,365.8 L208.1,365.9 L209.0,366.1 L209.9,366.3 L210.8,366.5 L211.7,366.6 L212.5,366.8 L213.4,366.9 L214.3,367.0 L215.2,367.2 L216.1,367.3 L217.0,367.4 L217.9,367.6 L218.8,367.7 L219.7,367.8 L220.6,367.9 L221.5,368.0 L222.3,368.1 L223.2,368.2 L224.1,368.3 L225.0,368.4 L225.9,368.5 L226.8,368.6 L227.7,368.7 L228.6,368.7 L229.5,368.8 L230.4,368.9 L231.3,369.0 L232.2,369.0 L233.1,369.1 L234.0,369.2 L234.9,369.2 L235.8,369.3 L236.7,369.3 L237.6,369.4 L238.5,369.4 L239.4,369.5 L240.3,369.5 L241.2,369.6 L242.1,369.6 L243.0,369.7 L243.9,369.7 L244.8,369.8 L245.7,369.8 L246.6,369.8 L247.5,369.9 L248.4,369.9 L249.3,369.9 L250.2,370.0 L251.1,370.0 L252.0,370.0 L252.9,370.1 L253.8,370.1 L254.7,370.1 L255.6,370.1 L256.5,370.2 L257.4,370.2 L258.3,370.2 L259.2,370.2 L260.1,370.2 L261.0,370.3 L261.9,370.3 L262.8,370.3 L263.7,370.3 L264.6,370.3 L265.5,370.3 L266.4,370.4 L267.3,370.4 L268.2,370.4 L269.1,370.4 L270.0,370.4 L270.6,370.4" stroke="#0e0c0d"/>
<path d="M29.4,370.7 L30.3,370.7 L31.2,370.7 L32.1,370.7 L33.0,370.7 L33.9,370.7 L34.8,370.7 L35.7,370.7 L36.6,370.7 L37.5,370.7 L38.4,370.7 L39.3,370.7 L40.2,370.7 L41.1,370.7 L42.0,370.7 L42.9,370.7 L43.8,370.7 L44.7,370.7 L45.6,370.7 L46.5,370.7 L47.4,370.7 L48.3,370.7 L49.2,370.7 L50.1,370.7 L51.0,370.7 L51.9,370.7 L52.8,370.7 L53.7,370.6 L54.6,370.6 L55.5,370.6 L56.4,370.5 L57.3,370.5 L58.2,370.4 L59.1,370.3 L60.0,370.1 L60.9,369.9 L61.7,369.7 L62.6,369.5 L63.4,369.1 L64.3,368.8 L65.0,368.3 L65.8,367.8 L66.5,367.3 L67.2,366.7 L67.9,366.1 L68.5,365.5 L69.1,364.8 L69.6,364.1 L70.1,363.3 L70.6,362.6 L71.1,361.8 L71.6,361.0 L72.0,360.2 L72.4,359.4 L72.8,358.6 L73.2,357.8 L73.6,357.0 L73.9,356.2 L74.2,355.3 L74.6,354.5 L74.9,353.6 L75.2,352.8 L75.5,351.9 L75.8,351.1 L76.1,350.2 L76.4,349.4 L76.6,348.6 L76.9,347.7 L77.2,346.8 L77.4,345.9 L77.7,345.1 L77.9,344.2 L78.2,343.3 L78.4,342.4 L78.6,341.6 L78.9,340.7 L79.1,339.9 L79.3,339.0 L79.5,338.1 L79.8,337.2 L80.0,336.3 L80.2,335.5 L80.4,334.6 L80.6,333.7 L80.8,332.9 L81.0,332.0 L81.2,331.1 L81.4,330.2 L81.6,329.4 L81.8,328.5 L82.0,327.6 L82.2,326.7 L82.3,325.8 L82.5,324.9 L82.7,324.0 L82.9,323.2 L83.1,322.3 L83.3,321.4 L83.4,320.5 L83.6,319.7 L83.8,318.8 L84.0,317.9 L84.1,317.0 L84.3,316.1 L84.5,315.2 L84.6,314.4 L84.8,313.4 L85.0,312.6 L85.2,311.6 L85.3,310.8 L85.5,309.9 L85.6,309.1 L85.8,308.1 L86.0,307.3 L86.1,306.4 L86.3,305.5 L86.5,304.6 L86.6,303.8 L86.8,302.9 L86.9,302.0 L87.1,301.1 L87.3,300.2 L87.4,299.3 L87.6,298.4 L87.7,297.5 L87.9,296.6 L88.1,295.7 L88.2,294.8 L88.4,293.9 L88.5,293.0 L88.7,292.3 L88.8,291.3 L89.0,290.4 L89.2,289.5 L89.3,288.6 L89.5,287.7 L89.6,286.9 L89.8,286.0 L89.9,285.1 L90.1,284.2 L90.3,283.3 L90.4,282.5 L90.6,281.6 L90.7,280.7 L90.9,279.8 L91.0,278.9 L91.2,278.0 L91.3,277.2 L91.5,276.3 L91.7,275.4 L91.8,274.5 L92.0,273.6 L92.1,272.7 L92.3,271.8 L92.5,270.9 L92.6,270.1 L92.8,269.2 L92.9,268.3 L93.1,267.4 L93.3,266.5 L93.4,265.7 L93.6,264.7 L93.8,263.8 L93.9,263.0 L94.1,262.1 L94.3,261.2 L94.4,260.3 L94.6,259.5 L94.8,258.5 L94.9,257.7 L95.1,256.8 L95.3,255.9 L95.4,255.0 L95.6,254.1 L95.8,253.2 L96.0,252.4 L96.1,251.5 L96.3,250.6 L96.5,249.8 L96.7,248.9 L96.9,247.9 L97.1,247.1 L97.2,246.2 L97.4,245.3 L97.6,244.5 L97.8,243.5 L98.0,242.7 L98.2,241.8 L98.4,241.0 L98.6,240.1 L98.8,239.2 L99.0,238.3 L99.2,237.5 L99.4,236.5 L99.7,235.7 L99.9,234.9 L100.1,233.9 L100.3,233.1 L100.5,232.2 L100.8,231.3 L101.0,230.5 L101.3,229.6 L101.5,228.8 L101.8,227.9 L102.0,227.0 L102.3,226.2 L102.6,225.3 L102.8,224.5 L103.1,223.6 L103.4,222.8 L103.7,221.9 L104.1,221.0 L104.4,220.2 L104.7,219.4 L105.1,218.6 L105.5,217.7 L105.9,216.9 L106.3,216.2 L106.8,215.4 L107.2,214.6 L107.8,213.9 L108.3,213.2 L109.0,212.6 L109.7,212.1 L110.5,211.7 L111.4,211.5 L112.3,211.6 L113.1,212.0 L113.8,212.5 L114.5,213.1 L115.0,213.9 L115.6,214.6 L116.0,215.4 L116.5,216.1 L116.9,216.9 L117.3,217.7 L117.7,218.5 L118.1,219.4 L118.4,220.2 L118.8,221.0 L119.1,221.9 L119.4,222.7 L119.8,223.6 L120.1,224.4 L120.4,225.3 L120.7,226.1 L121.0,226.9 L121.3,227.8 L121.5,228.7 L121.8,229.5 L122.1,230.3 L122.4,231.2 L122.6,232.0 L122.9,233.0 L123.2,233.8 L123.4,234.7 L123.7,235.5 L123.9,236.4 L124.2,237.3 L124.4,238.1 L124.7,239.0 L124.9,239.8 L125.2,240.7 L125.4,241.6 L125.7,242.5 L125.9,243.3 L126.1,244.2 L126.4,245.1 L126.6,245.9 L126.9,246.8 L127.1,247.6 L127.3,248.5 L127.6,249.4 L127.8,250.3 L128.0,251.1 L128.3,252.0 L128.5,252.9 L128.7,253.7 L129.0,254.6 L129.2,255.5 L129.4,256.4 L129.6,257.2 L129.9,258.1 L130.1,258.9 L130.3,259.8 L130.6,260.7 L130.8,261.6 L131.0,262.4 L131.3,263.3 L131.5,264.1 L131.7,265.1 L131.9,265.9 L132.2,266.8 L132.4,267.7 L132.6,268.5 L132.9,269.4 L133.1,270.2 L133.3,271.1 L133.6,272.0 L133.8,272.8 L134.0,273.7 L134.3,274.6 L134.5,275.5 L134.7,276.3 L135.0,277.2 L135.2,278.1 L135.5,279.0 L135.7,279.8 L135.9,280.7 L136.2,281.6 L136.4,282.4 L136.7,283.3 L136.9,284.1 L137.2,285.0 L137.4,285.9 L137.6,286.7 L137.9,287.6 L138.1,288.5 L138.4,289.4 L138.6,290.2 L138.9,291.1 L139.2,292.0 L139.4,292.8 L139.7,293.6 L139.9,294.5 L140.2,295.4 L140.4,296.2 L140.7,297.1 L141.0,298.0 L141.2,298.8 L141.5,299.7 L141.8,300.5 L142.1,301.4 L142.3,302.2 L142.6,303.1 L142.9,304.0 L143.2,304.8 L143.4,305.7 L143.7,306.6 L144.0,307.4 L144.3,308.2 L144.6,309.1 L144.9,309.9 L145.2,310.8 L145.5,311.7 L145.8,312.5 L146.1,313.3 L146.4,314.2 L146.7,315.0 L147.0,315.9 L147.3,316.7 L147.7,317.6 L148.0,318.4 L148.3,319.2 L148.7,320.1 L149.0,320.9 L149.3,321.7 L149.7,322.5 L150.0,323.4 L150.4,324.2 L150.7,325.1 L151.1,325.9 L151.4,326.7 L151.8,327.5 L152.2,328.3 L152.5,329.1 L152.9,330.0 L153.3,330.8 L153.7,331.6 L154.1,332.4 L154.5,333.2 L154.9,334.0 L155.3,334.8 L155.7,335.6 L156.2,336.4 L156.6,337.2 L157.0,338.0 L157.5,338.8 L157.9,339.5 L158.4,340.3 L158.9,341.1 L159.3,341.8 L159.8,342.6 L160.3,343.3 L160.8,344.1 L161.3,344.8 L161.8,345.6 L162.4,346.3 L162.9,347.0 L163.4,347.7 L164.0,348.5 L164.6,349.2 L165.1,349.8 L165.7,350.5 L166.3,351.2 L166.9,351.9 L167.5,352.6 L168.1,353.2 L168.8,353.8 L169.4,354.5 L170.1,355.1 L170.7,355.7 L171.4,356.3 L172.1,356.9 L172.8,357.4 L173.5,358.0 L174.2,358.5 L174.9,359.1 L175.7,359.6 L176.4,360.1 L177.2,360.6 L178.0,361.0 L178.7,361.5 L179.5,361.9 L180.3,362.3 L181.1,362.8 L181.9,363.2 L182.7,363.5 L183.6,363.9 L184.4,364.3 L185.2,364.6 L186.1,364.9 L186.9,365.2 L187.8,365.5 L188.6,365.8 L189.5,366.1 L190.3,366.3 L191.2,366.6 L192.1,366.8 L192.9,367.0 L193.8,367.2 L194.7,367.4 L195.6,367.6 L196.5,367.8 L197.3,368.0 L198.2,368.1 L199.1,368.3 L200.0,368.4 L200.9,368.6 L201.8,368.7 L202.7,368.8 L203.6,368.9 L204.5,369.0 L205.3,369.1 L206.2,369.2 L207.1,369.3 L208.0,369.4 L208.9,369.5 L209.8,369.6 L210.7,369.6 L211.6,369.7 L212.5,369.8 L213.4,369.8 L214.3,369.9 L215.2,369.9 L216.1,370.0 L217.0,370.0 L217.9,370.1 L218.8,370.1 L219.7,370.2 L220.6,370.2 L221.5,370.2 L222.4,370.3 L223.3,370.3 L224.2,370.3 L225.1,370.3 L226.0,370.4 L226.9,370.4 L227.8,370.4 L228.7,370.4 L229.6,370.4 L230.5,370.5 L231.4,370.5 L232.3,370.5 L233.2,370.5 L234.1,370.5 L235.0,370.5 L235.9,370.5 L236.8,370.6 L237.7,370.6 L238.6,370.6 L239.5,370.6 L240.4,370.6 L241.3,370.6 L242.2,370.6 L243.1,370.6 L244.0,370.6 L244.9,370.6 L245.8,370.6 L246.7,370.6 L247.6,370.6 L248.5,370.6 L249.4,370.7 L250.3,370.7 L251.2,370.7 L252.1,370.7 L253.0,370.7 L253.9,370.7 L254.8,370.7 L255.7,370.7 L256.6,370.7 L257.5,370.7 L258.4,370.7 L259.3,370.7 L260.2,370.7 L261.1,370.7 L262.0,370.7 L262.9,370.7 L263.8,370.7 L264.7,370.7 L265.6,370.7 L266.5,370.7 L267.4,370.7 L268.3,370.7 L269.2,370.7 L270.1,370.7 L270.6,370.7" stroke="#47aeaa"/>
<path d="M29.4,370.6 L30.3,370.6 L31.2,370.5 L32.1,370.5 L33.0,370.5 L33.9,370.5 L34.8,370.4 L35.7,370.4 L36.6,370.3 L37.5,370.3 L38.4,370.2 L39.3,370.2 L40.2,370.1 L41.1,370.0 L42.0,369.9 L42.9,369.8 L43.8,369.7 L44.7,369.6 L45.6,369.5 L46.4,369.3 L47.3,369.2 L48.2,369.0 L49.1,368.8 L50.0,368.6 L50.8,368.4 L51.7,368.1 L52.6,367.9 L53.4,367.6 L54.3,367.3 L55.1,367.0 L56.0,366.6 L56.8,366.3 L57.6,365.9 L58.4,365.5 L59.2,365.1 L60.0,364.6 L60.7,364.1 L61.5,363.7 L62.2,363.1 L63.0,362.6 L63.7,362.1 L64.4,361.5 L65.1,361.0 L65.8,360.4 L66.4,359.8 L67.1,359.1 L67.7,358.5 L68.4,357.9 L69.0,357.2 L69.6,356.6 L70.2,355.9 L70.8,355.2 L71.3,354.5 L71.9,353.8 L72.5,353.1 L73.0,352.4 L73.5,351.6 L74.1,350.9 L74.6,350.2 L75.1,349.4 L75.6,348.7 L76.1,347.9 L76.6,347.2 L77.1,346.4 L77.5,345.6 L78.0,344.9 L78.5,344.1 L78.9,343.3 L79.4,342.5 L79.8,341.8 L80.2,341.0 L80.7,340.2 L81.1,339.4 L81.5,338.6 L81.9,337.8 L82.4,337.0 L82.8,336.2 L83.2,335.4 L83.6,334.6 L84.0,333.8 L84.4,333.0 L84.8,332.2 L85.2,331.3 L85.5,330.5 L85.9,329.7 L86.3,328.9 L86.7,328.1 L87.1,327.3 L87.4,326.4 L87.8,325.7 L88.2,324.8 L88.5,324.0 L88.9,323.2 L89.3,322.4 L89.6,321.5 L90.0,320.7 L90.3,319.9 L90.7,319.1 L91.1,318.2 L91.4,317.4 L91.8,316.6 L92.1,315.7 L92.5,314.9 L92.8,314.1 L93.2,313.3 L93.5,312.4 L93.9,311.6 L94.2,310.8 L94.5,309.9 L94.9,309.1 L95.2,308.3 L95.6,307.4 L95.9,306.6 L96.3,305.7 L96.6,304.9 L97.0,304.1 L97.3,303.3 L97.6,302.5 L98.0,301.6 L98.3,300.8 L98.7,299.9 L99.0,299.1 L99.4,298.3 L99.7,297.4 L100.1,296.6 L100.4,295.8 L100.8,295.0 L101.1,294.2 L101.5,293.3 L101.8,292.5 L102.2,291.7 L102.5,290.8 L102.9,290.0 L103.2,289.2 L103.6,288.3 L104.0,287.5 L104.3,286.7 L104.7,285.9 L105.1,285.0 L105.4,284.2 L105.8,283.4 L106.2,282.6 L106.5,281.8 L106.9,281.0 L107.3,280.1 L107.7,279.3 L108.1,278.5 L108.5,277.7 L108.9,276.9 L109.3,276.1 L109.7,275.3 L110.1,274.5 L110.5,273.7 L111.0,272.9 L111.4,272.2 L111.8,271.4 L112.3,270.6 L112.7,269.8 L113.2,269.0 L113.6,268.2 L114.1,267.5 L114.6,266.7 L115.1,266.0 L115.6,265.2 L116.1,264.5 L116.7,263.8 L117.2,263.0 L117.8,262.3 L118.3,261.6 L118.9,261.0 L119.5,260.3 L120.2,259.7 L120.8,259.1 L121.5,258.5 L122.2,257.9 L122.9,257.4 L123.7,256.9 L124.5,256.5 L125.3,256.1 L126.2,255.8 L127.0,255.6 L127.9,255.4 L128.8,255.4 L129.7,255.4 L130.6,255.6 L131.5,255.8 L132.3,256.2 L133.1,256.6 L133.9,257.0 L134.6,257.6 L135.3,258.1 L136.0,258.7 L136.6,259.3 L137.3,260.0 L137.9,260.6 L138.4,261.3 L139.0,262.0 L139.6,262.7 L140.1,263.5 L140.6,264.2 L141.2,264.9 L141.7,265.7 L142.1,266.4 L142.6,267.2 L143.1,267.9 L143.6,268.7 L144.0,269.5 L144.5,270.3 L144.9,271.1 L145.4,271.9 L145.8,272.6 L146.2,273.4 L146.7,274.2 L147.1,275.0 L147.5,275.8 L147.9,276.6 L148.3,277.4 L148.7,278.2 L149.1,279.0 L149.5,279.8 L149.9,280.6 L150.3,281.5 L150.7,282.2 L151.1,283.1 L151.5,283.9 L151.9,284.7 L152.2,285.5 L152.6,286.3 L153.0,287.1 L153.4,288.0 L153.8,288.8 L154.1,289.6 L154.5,290.4 L154.9,291.2 L155.3,292.1 L155.6,292.9 L156.0,293.7 L156.4,294.5 L156.7,295.3 L157.1,296.1 L157.5,297.0 L157.8,297.8 L158.2,298.6 L158.6,299.4 L159.0,300.3 L159.3,301.1 L159.7,301.9 L160.1,302.7 L160.4,303.6 L160.8,304.4 L161.2,305.2 L161.5,306.0 L161.9,306.8 L162.3,307.6 L162.7,308.4 L163.0,309.3 L163.4,310.1 L163.8,310.9 L164.2,311.7 L164.5,312.5 L164.9,313.3 L165.3,314.2 L165.7,315.0 L166.1,315.8 L166.5,316.6 L166.8,317.4 L167.2,318.3 L167.6,319.0 L168.0,319.9 L168.4,320.7 L168.8,321.5 L169.2,322.3 L169.6,323.1 L170.0,323.9 L170.4,324.7 L170.8,325.5 L171.2,326.3 L171.6,327.1 L172.1,327.9 L172.5,328.7 L172.9,329.5 L173.3,330.3 L173.8,331.1 L174.2,331.9 L174.6,332.6 L175.1,333.4 L175.5,334.2 L176.0,335.0 L176.4,335.8 L176.9,336.6 L177.3,337.3 L177.8,338.1 L178.2,338.9 L178.7,339.6 L179.2,340.4 L179.7,341.2 L180.2,341.9 L180.7,342.7 L181.2,343.4 L181.7,344.2 L182.2,344.9 L182.7,345.6 L183.2,346.4 L183.7,347.1 L184.3,347.8 L184.8,348.5 L185.4,349.3 L185.9,350.0 L186.5,350.7 L187.0,351.4 L187.6,352.1 L188.2,352.7 L188.8,353.4 L189.4,354.1 L190.0,354.8 L190.6,355.4 L191.3,356.0 L191.9,356.7 L192.5,357.3 L193.2,357.9 L193.9,358.5 L194.5,359.1 L195.2,359.7 L195.9,360.3 L196.6,360.8 L197.4,361.4 L198.1,361.9 L198.8,362.4 L199.6,362.9 L200.3,363.4 L201.1,363.9 L201.9,364.3 L202.6,364.8 L203.4,365.2 L204.2,365.6 L205.1,366.0 L205.9,366.4 L206.7,366.7 L207.5,367.1 L208.4,367.4 L209.2,367.7 L210.1,368.0 L210.9,368.2 L211.8,368.5 L212.7,368.7 L213.5,368.9 L214.4,369.1 L215.3,369.3 L216.2,369.5 L217.1,369.6 L218.0,369.8 L218.9,369.9 L219.7,370.0 L220.6,370.1 L221.5,370.2 L222.4,370.3 L223.3,370.4 L224.2,370.4 L225.1,370.5 L226.0,370.5 L226.9,370.6 L227.8,370.6 L228.7,370.6 L229.6,370.6 L230.5,370.7 L231.4,370.7 L232.3,370.7 L233.2,370.7 L234.1,370.7 L235.0,370.7 L235.9,370.7 L236.8,370.7 L237.7,370.7 L238.6,370.7 L239.5,370.7 L240.4,370.7 L241.3,370.7 L242.2,370.7 L243.1,370.7 L244.0,370.7 L244.9,370.7 L245.8,370.7 L246.7,370.7 L247.6,370.7 L248.5,370.7 L249.4,370.7 L250.3,370.7 L251.2,370.7 L252.1,370.7 L253.0,370.7 L253.9,370.7 L254.8,370.7 L255.7,370.7 L256.6,370.7 L257.5,370.7 L258.4,370.7 L259.3,370.7 L260.2,370.7 L261.1,370.7 L262.0,370.7 L262.9,370.7 L263.8,370.7 L264.7,370.7 L265.6,370.7 L266.5,370.7 L267.4,370.7 L268.3,370.7 L269.2,370.7 L270.1,370.7 L270.6,370.7" stroke="#4d72b4"/>
<path d="M29.4,370.7 L30.3,370.7 L31.2,370.7 L32.1,370.7 L33.0,370.6 L33.9,370.6 L34.8,370.6 L35.7,370.6 L36.6,370.6 L37.5,370.6 L38.4,370.6 L39.3,370.5 L40.2,370.5 L41.1,370.5 L42.0,370.5 L42.9,370.4 L43.8,370.4 L44.7,370.4 L45.6,370.3 L46.5,370.3 L47.4,370.2 L48.3,370.1 L49.2,370.1 L50.1,370.0 L51.0,369.9 L51.9,369.8 L52.8,369.7 L53.7,369.6 L54.6,369.5 L55.4,369.3 L56.3,369.2 L57.2,369.0 L58.1,368.8 L59.0,368.6 L59.9,368.4 L60.7,368.2 L61.6,367.9 L62.4,367.6 L63.3,367.4 L64.1,367.1 L65.0,366.7 L65.8,366.4 L66.6,366.0 L67.5,365.6 L68.3,365.2 L69.0,364.8 L69.8,364.4 L70.6,363.9 L71.4,363.4 L72.1,362.9 L72.8,362.4 L73.6,361.8 L74.3,361.3 L75.0,360.7 L75.7,360.1 L76.3,359.5 L77.0,358.9 L77.6,358.3 L78.3,357.7 L78.9,357.0 L79.5,356.4 L80.1,355.7 L80.7,355.0 L81.3,354.3 L81.9,353.6 L82.5,353.0 L83.0,352.2 L83.6,351.5 L84.1,350.8 L84.6,350.1 L85.2,349.3 L85.7,348.6 L86.2,347.9 L86.7,347.1 L87.2,346.4 L87.7,345.6 L88.1,344.9 L88.6,344.1 L89.1,343.3 L89.5,342.6 L90.0,341.8 L90.5,341.0 L90.9,340.2 L91.3,339.4 L91.8,338.7 L92.2,337.9 L92.7,337.1 L93.1,336.3 L93.5,335.5 L93.9,334.7 L94.3,333.9 L94.7,333.1 L95.2,332.3 L95.6,331.5 L96.0,330.7 L96.4,329.9 L96.8,329.1 L97.2,328.2 L97.5,327.5 L97.9,326.6 L98.3,325.8 L98.7,325.0 L99.1,324.2 L99.5,323.4 L99.9,322.6 L100.2,321.7 L100.6,320.9 L101.0,320.1 L101.4,319.3 L101.7,318.5 L102.1,317.6 L102.5,316.8 L102.9,316.0 L103.2,315.2 L103.6,314.4 L104.0,313.6 L104.3,312.7 L104.7,311.9 L105.1,311.1 L105.4,310.2 L105.8,309.4 L106.2,308.6 L106.5,307.8 L106.9,307.0 L107.3,306.2 L107.6,305.3 L108.0,304.5 L108.4,303.7 L108.7,302.9 L109.1,302.1 L109.5,301.2 L109.8,300.4 L110.2,299.6 L110.6,298.7 L111.0,298.0 L111.3,297.1 L111.7,296.3 L112.1,295.5 L112.5,294.7 L112.9,293.9 L113.2,293.1 L113.6,292.2 L114.0,291.4 L114.4,290.6 L114.8,289.8 L115.2,289.0 L115.6,288.2 L116.0,287.4 L116.4,286.6 L116.8,285.8 L117.3,285.0 L117.7,284.2 L118.1,283.4 L118.5,282.6 L119.0,281.8 L119.4,281.0 L119.8,280.3 L120.3,279.5 L120.8,278.7 L121.2,277.9 L121.7,277.2 L122.2,276.4 L122.7,275.7 L123.2,274.9 L123.7,274.2 L124.2,273.4 L124.7,272.7 L125.3,272.0 L125.8,271.3 L126.4,270.6 L127.0,269.9 L127.6,269.3 L128.2,268.6 L128.9,268.0 L129.6,267.4 L130.3,266.8 L131.0,266.3 L131.7,265.8 L132.5,265.3 L133.3,264.9 L134.1,264.6 L135.0,264.3 L135.9,264.1 L136.8,264.0 L137.7,264.0 L138.6,264.1 L139.5,264.2 L140.3,264.4 L141.2,264.7 L142.0,265.0 L142.8,265.4 L143.6,265.8 L144.4,266.3 L145.2,266.8 L145.9,267.3 L146.6,267.9 L147.3,268.4 L148.0,269.0 L148.6,269.6 L149.2,270.3 L149.9,270.9 L150.5,271.6 L151.1,272.3 L151.7,272.9 L152.3,273.6 L152.8,274.3 L153.4,275.0 L153.9,275.7 L154.5,276.5 L155.0,277.2 L155.6,277.9 L156.1,278.6 L156.6,279.4 L157.1,280.1 L157.6,280.9 L158.1,281.6 L158.6,282.4 L159.1,283.1 L159.6,283.9 L160.1,284.6 L160.6,285.4 L161.1,286.2 L161.5,286.9 L162.0,287.7 L162.5,288.4 L162.9,289.2 L163.4,290.0 L163.9,290.8 L164.3,291.5 L164.8,292.3 L165.3,293.1 L165.7,293.8 L166.2,294.6 L166.6,295.4 L167.1,296.2 L167.5,297.0 L168.0,297.7 L168.4,298.5 L168.9,299.3 L169.3,300.1 L169.8,300.9 L170.2,301.6 L170.7,302.4 L171.1,303.2 L171.6,304.0 L172.0,304.8 L172.5,305.5 L172.9,306.3 L173.4,307.1 L173.8,307.9 L174.3,308.7 L174.7,309.4 L175.2,310.2 L175.6,311.0 L176.1,311.8 L176.5,312.5 L177.0,313.3 L177.4,314.1 L177.9,314.9 L178.4,315.7 L178.8,316.4 L179.3,317.2 L179.7,318.0 L180.2,318.7 L180.7,319.5 L181.1,320.3 L181.6,321.0 L182.1,321.8 L182.6,322.6 L183.0,323.3 L183.5,324.1 L184.0,324.9 L184.5,325.6 L185.0,326.4 L185.5,327.1 L185.9,327.9 L186.4,328.6 L186.9,329.4 L187.4,330.1 L187.9,330.9 L188.5,331.6 L189.0,332.3 L189.5,333.1 L190.0,333.8 L190.5,334.6 L191.0,335.3 L191.6,336.0 L192.1,336.7 L192.6,337.5 L193.2,338.2 L193.7,338.9 L194.3,339.6 L194.8,340.3 L195.4,341.0 L196.0,341.7 L196.5,342.4 L197.1,343.1 L197.7,343.8 L198.3,344.5 L198.9,345.2 L199.5,345.8 L200.1,346.5 L200.7,347.2 L201.3,347.8 L201.9,348.5 L202.5,349.1 L203.2,349.8 L203.8,350.4 L204.4,351.0 L205.1,351.6 L205.8,352.3 L206.4,352.9 L207.1,353.5 L207.8,354.1 L208.5,354.6 L209.2,355.2 L209.9,355.8 L210.6,356.3 L211.3,356.9 L212.0,357.4 L212.7,358.0 L213.5,358.5 L214.2,359.0 L214.9,359.5 L215.7,360.0 L216.5,360.4 L217.2,360.9 L218.0,361.4 L218.8,361.8 L219.6,362.2 L220.4,362.7 L221.2,363.1 L222.0,363.5 L222.8,363.8 L223.6,364.2 L224.4,364.6 L225.3,364.9 L226.1,365.3 L227.0,365.6 L227.8,365.9 L228.7,366.2 L229.5,366.5 L230.4,366.7 L231.2,367.0 L232.1,367.3 L233.0,367.5 L233.8,367.7 L234.7,367.9 L235.6,368.1 L236.5,368.3 L237.3,368.5 L238.2,368.7 L239.1,368.8 L240.0,369.0 L240.9,369.1 L241.8,369.3 L242.7,369.4 L243.6,369.5 L244.4,369.6 L245.3,369.7 L246.2,369.8 L247.1,369.9 L248.0,370.0 L248.9,370.1 L249.8,370.1 L250.7,370.2 L251.6,370.3 L252.5,370.3 L253.4,370.4 L254.3,370.4 L255.2,370.4 L256.1,370.5 L257.0,370.5 L257.9,370.5 L258.8,370.6 L259.7,370.6 L260.6,370.6 L261.5,370.6 L262.4,370.6 L263.3,370.7 L264.2,370.7 L265.1,370.7 L266.0,370.7 L266.9,370.7 L267.8,370.7 L268.7,370.7 L269.6,370.7 L270.5,370.7 L270.6,370.7" stroke="#311f4c"/>
</g>
<g font-size="7.7" fill="#1e1a1b">
<text transform="matrix(1.13 0 0 1 65.20 381.50)" text-anchor="middle">-0.5</text>
<text transform="matrix(1.13 0 0 1 108.40 381.50)" text-anchor="middle">0</text>
<text transform="matrix(1.13 0 0 1 151.60 381.50)" text-anchor="middle">0.5</text>
<text transform="matrix(1.13 0 0 1 194.80 381.50)" text-anchor="middle">1</text>
<text transform="matrix(1.13 0 0 1 238.00 381.50)" text-anchor="middle">1.5</text>
<text transform="matrix(1.13 0 0 1 25.60 373.70)" text-anchor="end">0</text>
<text transform="matrix(1.13 0 0 1 25.60 353.56)" text-anchor="end">0.2</text>
<text transform="matrix(1.13 0 0 1 25.60 333.42)" text-anchor="end">0.4</text>
<text transform="matrix(1.13 0 0 1 25.60 313.28)" text-anchor="end">0.6</text>
<text transform="matrix(1.13 0 0 1 25.60 293.14)" text-anchor="end">0.8</text>
<text transform="matrix(1.13 0 0 1 25.60 273.00)" text-anchor="end">1</text>
<text transform="matrix(1.13 0 0 1 25.60 252.86)" text-anchor="end">1.2</text>
<text transform="matrix(1.13 0 0 1 25.60 232.72)" text-anchor="end">1.4</text>
<text transform="matrix(1.13 0 0 1 25.60 212.58)" text-anchor="end">1.6</text>
</g>
<text transform="matrix(1.13 0 0 1 31.30 211.20)" font-size="8.0" fill="#1e1a1b">(d) CWD</text>
<text x="150.00" y="391.20" font-size="8.6" fill="#1e1a1b" text-anchor="middle" textLength="43.3" lengthAdjust="spacingAndGlyphs">Change (<tspan font-style="italic">σ</tspan>)</text>
<text transform="translate(11.40,287.45) rotate(-90) scale(1,1.13)" font-size="8.7" fill="#1e1a1b" text-anchor="middle" textLength="25.6" lengthAdjust="spacingAndGlyphs">Density</text>
<rect x="224.50" y="210.70" width="39.0" height="29.1" fill="#fff" stroke="#b9b5b3" stroke-width="1"/>
<path d="M226.80,214.70H243.40" stroke="#0e0c0d" stroke-width="1.9"/>
<text class="lg" x="245.50" y="217.53" font-size="6.3" fill="#2a2627" textLength="14.9" lengthAdjust="spacingAndGlyphs">1.5°C</text>
<path d="M226.80,221.55H243.40" stroke="#47aeaa" stroke-width="1.9"/>
<text class="lg" x="245.50" y="224.38" font-size="6.3" fill="#2a2627" textLength="14.9" lengthAdjust="spacingAndGlyphs">2.0°C</text>
<path d="M226.80,228.40H243.40" stroke="#4d72b4" stroke-width="1.9"/>
<text class="lg" x="245.50" y="231.23" font-size="6.3" fill="#2a2627" textLength="14.9" lengthAdjust="spacingAndGlyphs">3.0°C</text>
<path d="M226.80,235.25H243.40" stroke="#311f4c" stroke-width="1.9"/>
<text class="lg" x="245.50" y="238.09" font-size="6.3" fill="#2a2627" textLength="14.9" lengthAdjust="spacingAndGlyphs">4.0°C</text>
<rect x="303.3" y="206.2" width="241.30" height="166.60" fill="#fff"/>
<clipPath id="clipe"><rect x="303.3" y="205.2" width="241.30" height="169.20"/></clipPath>
<path d="M328.06,372.80v-2.4M328.06,206.20v2.4M365.30,372.80v-2.4M365.30,206.20v2.4M402.54,372.80v-2.4M402.54,206.20v2.4M439.78,372.80v-2.4M439.78,206.20v2.4M477.02,372.80v-2.4M477.02,206.20v2.4M514.26,372.80v-2.4M514.26,206.20v2.4M303.30,372.80h2.4M544.60,372.80h-2.4M303.30,344.70h2.4M544.60,344.70h-2.4M303.30,316.60h2.4M544.60,316.60h-2.4M303.30,288.50h2.4M544.60,288.50h-2.4M303.30,260.40h2.4M544.60,260.40h-2.4M303.30,232.30h2.4M544.60,232.30h-2.4" stroke="#8a8684" stroke-width="0.8" fill="none"/>
<rect x="303.3" y="206.2" width="241.30" height="166.60" fill="none" stroke="#b9b5b3" stroke-width="1.4"/>
<g clip-path="url(#clipe)" fill="none" stroke-width="2.1" stroke-linejoin="round">
<path d="M303.3,372.8 L304.2,372.8 L305.1,372.8 L306.0,372.8 L306.9,372.8 L307.8,372.8 L308.7,372.8 L309.6,372.8 L310.5,372.8 L311.4,372.8 L312.3,372.8 L313.2,372.8 L314.1,372.8 L315.0,372.8 L315.9,372.8 L316.8,372.8 L317.7,372.8 L318.6,372.8 L319.5,372.8 L320.4,372.8 L321.3,372.8 L322.2,372.8 L323.1,372.8 L324.0,372.8 L324.9,372.8 L325.8,372.8 L326.7,372.8 L327.6,372.8 L328.5,372.8 L329.4,372.8 L330.3,372.7 L331.2,372.7 L332.1,372.7 L333.0,372.6 L333.9,372.6 L334.8,372.5 L335.7,372.4 L336.6,372.2 L337.5,372.0 L338.3,371.7 L339.1,371.4 L340.0,371.0 L340.7,370.5 L341.5,370.0 L342.2,369.4 L342.8,368.8 L343.4,368.1 L344.0,367.4 L344.5,366.7 L345.0,365.9 L345.4,365.1 L345.8,364.3 L346.2,363.6 L346.6,362.7 L347.0,361.9 L347.3,361.1 L347.7,360.2 L348.0,359.4 L348.3,358.6 L348.6,357.7 L348.9,356.8 L349.1,355.9 L349.4,355.1 L349.6,354.3 L349.9,353.4 L350.1,352.5 L350.4,351.7 L350.6,350.7 L350.8,349.9 L351.0,349.0 L351.2,348.1 L351.4,347.3 L351.7,346.3 L351.8,345.5 L352.0,344.6 L352.2,343.7 L352.4,342.9 L352.6,342.0 L352.8,341.1 L353.0,340.2 L353.1,339.3 L353.3,338.5 L353.5,337.6 L353.6,336.7 L353.8,335.7 L354.0,334.9 L354.1,334.0 L354.3,333.1 L354.5,332.2 L354.6,331.4 L354.8,330.5 L354.9,329.5 L355.1,328.7 L355.2,327.8 L355.4,326.9 L355.5,326.1 L355.6,325.2 L355.8,324.2 L355.9,323.3 L356.1,322.5 L356.2,321.6 L356.4,320.7 L356.5,319.8 L356.6,318.9 L356.8,318.1 L356.9,317.2 L357.0,316.2 L357.2,315.3 L357.3,314.5 L357.4,313.6 L357.6,312.7 L357.7,311.8 L357.8,310.8 L358.0,310.0 L358.1,309.2 L358.2,308.2 L358.3,307.4 L358.5,306.4 L358.6,305.6 L358.7,304.7 L358.9,303.7 L359.0,302.9 L359.1,302.0 L359.2,301.0 L359.4,300.2 L359.5,299.3 L359.6,298.5 L359.7,297.5 L359.9,296.6 L360.0,295.7 L360.1,294.9 L360.2,294.0 L360.4,293.0 L360.5,292.1 L360.6,291.3 L360.7,290.4 L360.8,289.5 L361.0,288.7 L361.1,287.7 L361.2,286.8 L361.3,285.9 L361.5,285.1 L361.6,284.2 L361.7,283.2 L361.8,282.4 L362.0,281.5 L362.1,280.6 L362.2,279.6 L362.3,278.8 L362.5,278.0 L362.6,277.1 L362.7,276.1 L362.8,275.3 L363.0,274.3 L363.1,273.5 L363.2,272.6 L363.4,271.7 L363.5,270.9 L363.6,269.9 L363.7,269.1 L363.9,268.1 L364.0,267.2 L364.1,266.4 L364.3,265.5 L364.4,264.6 L364.6,263.7 L364.7,262.7 L364.8,261.9 L365.0,261.0 L365.1,260.1 L365.3,259.2 L365.4,258.3 L365.5,257.5 L365.7,256.5 L365.8,255.7 L366.0,254.7 L366.1,253.9 L366.3,253.0 L366.5,252.1 L366.6,251.2 L366.8,250.3 L366.9,249.5 L367.1,248.6 L367.3,247.7 L367.4,246.9 L367.6,246.0 L367.8,245.1 L368.0,244.2 L368.2,243.3 L368.4,242.4 L368.6,241.5 L368.8,240.7 L369.0,239.8 L369.2,238.9 L369.4,238.1 L369.7,237.2 L369.9,236.3 L370.2,235.5 L370.5,234.6 L370.8,233.8 L371.1,233.0 L371.5,232.1 L371.9,231.3 L372.3,230.6 L372.9,229.9 L373.6,229.3 L374.5,229.3 L375.3,229.6 L376.0,230.3 L376.5,231.0 L377.0,231.7 L377.4,232.5 L377.8,233.3 L378.2,234.2 L378.5,235.0 L378.8,235.8 L379.1,236.7 L379.4,237.5 L379.7,238.4 L380.0,239.3 L380.2,240.1 L380.5,241.0 L380.7,241.8 L381.0,242.7 L381.2,243.6 L381.5,244.5 L381.7,245.3 L381.9,246.2 L382.1,247.1 L382.3,248.0 L382.6,248.9 L382.8,249.7 L383.0,250.5 L383.2,251.5 L383.4,252.3 L383.6,253.2 L383.8,254.1 L384.0,255.0 L384.2,255.8 L384.4,256.7 L384.5,257.6 L384.7,258.5 L384.9,259.3 L385.1,260.3 L385.3,261.1 L385.5,262.0 L385.7,262.8 L385.9,263.8 L386.0,264.7 L386.2,265.6 L386.4,266.4 L386.6,267.3 L386.8,268.2 L386.9,269.1 L387.1,270.0 L387.3,270.9 L387.5,271.7 L387.6,272.6 L387.8,273.5 L388.0,274.4 L388.2,275.3 L388.4,276.2 L388.5,277.0 L388.7,277.9 L388.9,278.8 L389.1,279.7 L389.2,280.6 L389.4,281.4 L389.6,282.3 L389.8,283.2 L389.9,284.1 L390.1,285.0 L390.3,285.8 L390.5,286.7 L390.6,287.6 L390.8,288.5 L391.0,289.4 L391.2,290.3 L391.4,291.1 L391.5,292.0 L391.7,292.9 L391.9,293.8 L392.1,294.7 L392.3,295.6 L392.4,296.4 L392.6,297.3 L392.8,298.2 L393.0,299.0 L393.2,300.0 L393.4,300.8 L393.5,301.7 L393.7,302.6 L393.9,303.5 L394.1,304.3 L394.3,305.2 L394.5,306.1 L394.7,307.0 L394.9,307.9 L395.1,308.7 L395.3,309.6 L395.5,310.5 L395.7,311.4 L395.9,312.2 L396.1,313.1 L396.3,314.0 L396.5,314.8 L396.7,315.8 L396.9,316.6 L397.1,317.5 L397.3,318.4 L397.5,319.2 L397.7,320.1 L397.9,321.0 L398.2,321.9 L398.4,322.7 L398.6,323.6 L398.8,324.5 L399.1,325.4 L399.3,326.2 L399.5,327.1 L399.7,327.9 L400.0,328.8 L400.2,329.7 L400.5,330.6 L400.7,331.4 L401.0,332.3 L401.2,333.1 L401.5,334.0 L401.7,334.9 L402.0,335.7 L402.2,336.6 L402.5,337.5 L402.8,338.3 L403.1,339.1 L403.3,340.0 L403.6,340.9 L403.9,341.7 L404.2,342.6 L404.5,343.4 L404.8,344.3 L405.1,345.1 L405.5,345.9 L405.8,346.8 L406.1,347.6 L406.5,348.5 L406.8,349.3 L407.2,350.1 L407.5,350.9 L407.9,351.8 L408.3,352.6 L408.7,353.4 L409.1,354.2 L409.5,355.0 L409.9,355.8 L410.3,356.6 L410.8,357.4 L411.2,358.2 L411.7,358.9 L412.2,359.7 L412.7,360.4 L413.2,361.2 L413.7,361.9 L414.3,362.6 L414.8,363.3 L415.4,364.0 L416.0,364.6 L416.6,365.3 L417.3,365.9 L418.0,366.5 L418.7,367.1 L419.4,367.6 L420.1,368.2 L420.9,368.7 L421.6,369.1 L422.4,369.5 L423.2,369.9 L424.0,370.3 L424.9,370.6 L425.7,370.9 L426.6,371.2 L427.5,371.4 L428.3,371.7 L429.2,371.8 L430.1,372.0 L431.0,372.1 L431.9,372.3 L432.8,372.4 L433.7,372.4 L434.6,372.5 L435.5,372.6 L436.4,372.6 L437.3,372.7 L438.2,372.7 L439.1,372.7 L440.0,372.7 L440.9,372.8 L441.8,372.8 L442.7,372.8 L443.6,372.8 L444.5,372.8 L445.4,372.8 L446.3,372.8 L447.2,372.8 L448.1,372.8 L449.0,372.8 L449.9,372.8 L450.8,372.8 L451.7,372.8 L452.6,372.8 L453.5,372.8 L454.4,372.8 L455.3,372.8 L456.2,372.8 L457.1,372.8 L458.0,372.8 L458.9,372.8 L459.8,372.8 L460.7,372.8 L461.6,372.8 L462.5,372.8 L463.4,372.8 L464.3,372.8 L465.2,372.8 L466.1,372.8 L467.0,372.8 L467.9,372.8 L468.8,372.8 L469.7,372.8 L470.6,372.8 L471.5,372.8 L472.4,372.8 L473.3,372.8 L474.2,372.8 L475.1,372.8 L476.0,372.8 L476.9,372.8 L477.8,372.8 L478.7,372.8 L479.6,372.8 L480.5,372.8 L481.4,372.8 L482.3,372.8 L483.2,372.8 L484.1,372.8 L485.0,372.8 L485.9,372.8 L486.8,372.8 L487.7,372.8 L488.6,372.8 L489.5,372.8 L490.4,372.8 L491.3,372.8 L492.2,372.8 L493.1,372.8 L494.0,372.8 L494.9,372.8 L495.8,372.8 L496.7,372.8 L497.6,372.8 L498.5,372.8 L499.4,372.8 L500.3,372.8 L501.2,372.8 L502.1,372.8 L503.0,372.8 L503.9,372.8 L504.8,372.8 L505.7,372.8 L506.6,372.8 L507.5,372.8 L508.4,372.8 L509.3,372.8 L510.2,372.8 L511.1,372.8 L512.0,372.8 L512.9,372.8 L513.8,372.8 L514.7,372.8 L515.6,372.8 L516.5,372.8 L517.4,372.8 L518.3,372.8 L519.2,372.8 L520.1,372.8 L521.0,372.8 L521.9,372.8 L522.8,372.8 L523.7,372.8 L524.6,372.8 L525.5,372.8 L526.4,372.8 L527.3,372.8 L528.2,372.8 L529.1,372.8 L530.0,372.8 L530.9,372.8 L531.8,372.8 L532.7,372.8 L533.6,372.8 L534.5,372.8 L535.4,372.8 L536.3,372.8 L537.2,372.8 L538.1,372.8 L539.0,372.8 L539.9,372.8 L540.8,372.8 L541.7,372.8 L542.6,372.8 L543.5,372.8 L544.4,372.8 L544.6,372.8" stroke="#0e0c0d"/>
<path d="M303.3,372.8 L304.2,372.8 L305.1,372.8 L306.0,372.8 L306.9,372.8 L307.8,372.8 L308.7,372.8 L309.6,372.8 L310.5,372.8 L311.4,372.8 L312.3,372.8 L313.2,372.8 L314.1,372.8 L315.0,372.8 L315.9,372.8 L316.8,372.8 L317.7,372.8 L318.6,372.8 L319.5,372.8 L320.4,372.8 L321.3,372.8 L322.2,372.8 L323.1,372.8 L324.0,372.8 L324.9,372.8 L325.8,372.8 L326.7,372.8 L327.6,372.8 L328.5,372.8 L329.4,372.8 L330.3,372.8 L331.2,372.8 L332.1,372.8 L333.0,372.8 L333.9,372.8 L334.8,372.8 L335.7,372.8 L336.6,372.8 L337.5,372.8 L338.4,372.8 L339.3,372.8 L340.2,372.8 L341.1,372.8 L342.0,372.8 L342.9,372.7 L343.8,372.7 L344.7,372.7 L345.6,372.6 L346.5,372.5 L347.4,372.3 L348.3,372.1 L349.1,371.8 L349.9,371.5 L350.7,371.0 L351.5,370.5 L352.1,369.9 L352.8,369.2 L353.3,368.6 L353.9,367.8 L354.3,367.0 L354.8,366.3 L355.2,365.5 L355.6,364.6 L355.9,363.8 L356.3,363.0 L356.6,362.1 L356.9,361.3 L357.2,360.4 L357.5,359.6 L357.7,358.7 L358.0,357.9 L358.2,357.0 L358.5,356.2 L358.7,355.2 L358.9,354.4 L359.1,353.5 L359.3,352.6 L359.5,351.7 L359.7,350.8 L359.9,350.0 L360.1,349.2 L360.3,348.2 L360.5,347.4 L360.6,346.5 L360.8,345.5 L361.0,344.7 L361.1,343.8 L361.3,342.9 L361.5,342.0 L361.6,341.1 L361.8,340.3 L361.9,339.4 L362.1,338.5 L362.2,337.5 L362.4,336.7 L362.5,335.8 L362.6,334.9 L362.8,334.0 L362.9,333.2 L363.0,332.3 L363.2,331.3 L363.3,330.5 L363.4,329.6 L363.6,328.7 L363.7,327.7 L363.8,326.9 L363.9,326.0 L364.1,325.2 L364.2,324.3 L364.3,323.3 L364.4,322.4 L364.6,321.5 L364.7,320.7 L364.8,319.8 L364.9,318.9 L365.0,318.0 L365.1,317.0 L365.2,316.3 L365.4,315.3 L365.5,314.4 L365.6,313.6 L365.7,312.6 L365.8,311.6 L365.9,310.8 L366.0,309.8 L366.1,309.0 L366.2,308.2 L366.4,307.2 L366.5,306.4 L366.6,305.4 L366.7,304.6 L366.8,303.7 L366.9,302.7 L367.0,301.9 L367.1,301.0 L367.2,300.2 L367.3,299.1 L367.4,298.3 L367.5,297.4 L367.6,296.6 L367.7,295.7 L367.8,294.7 L367.9,293.8 L368.0,292.9 L368.1,292.1 L368.2,291.2 L368.3,290.3 L368.5,289.3 L368.6,288.4 L368.7,287.5 L368.8,286.7 L368.9,285.8 L369.0,284.9 L369.1,284.0 L369.2,283.2 L369.3,282.3 L369.4,281.2 L369.5,280.4 L369.6,279.5 L369.7,278.6 L369.8,277.8 L369.9,276.9 L370.0,276.0 L370.1,275.0 L370.2,274.1 L370.3,273.2 L370.4,272.4 L370.5,271.5 L370.6,270.7 L370.7,269.6 L370.8,268.8 L370.9,267.9 L371.0,267.1 L371.1,266.1 L371.2,265.2 L371.3,264.4 L371.5,263.4 L371.6,262.6 L371.7,261.7 L371.8,260.7 L371.9,259.9 L372.0,258.9 L372.1,258.1 L372.2,257.2 L372.3,256.4 L372.4,255.4 L372.6,254.5 L372.7,253.7 L372.8,252.7 L372.9,251.8 L373.0,250.9 L373.1,250.1 L373.2,249.2 L373.4,248.3 L373.5,247.4 L373.6,246.5 L373.7,245.7 L373.9,244.6 L374.0,243.8 L374.1,242.9 L374.2,242.0 L374.4,241.1 L374.5,240.2 L374.6,239.4 L374.8,238.5 L374.9,237.6 L375.0,236.7 L375.2,235.8 L375.3,234.9 L375.5,234.1 L375.6,233.1 L375.8,232.3 L375.9,231.4 L376.1,230.5 L376.2,229.6 L376.4,228.7 L376.6,227.8 L376.7,227.0 L376.9,226.1 L377.1,225.2 L377.3,224.4 L377.5,223.5 L377.7,222.6 L377.9,221.7 L378.2,220.9 L378.4,220.0 L378.7,219.1 L379.0,218.2 L379.3,217.4 L379.6,216.6 L380.0,215.8 L380.4,215.0 L381.0,214.3 L381.8,213.9 L382.6,214.1 L383.3,214.7 L383.8,215.5 L384.2,216.3 L384.5,217.2 L384.9,218.0 L385.2,218.9 L385.4,219.7 L385.7,220.6 L385.9,221.4 L386.2,222.3 L386.4,223.1 L386.6,224.0 L386.8,224.9 L387.0,225.8 L387.2,226.7 L387.4,227.6 L387.6,228.4 L387.8,229.3 L388.0,230.2 L388.2,231.1 L388.4,232.0 L388.5,232.9 L388.7,233.7 L388.9,234.7 L389.0,235.5 L389.2,236.4 L389.4,237.2 L389.5,238.1 L389.7,239.0 L389.8,239.9 L390.0,240.8 L390.2,241.7 L390.3,242.6 L390.5,243.4 L390.6,244.4 L390.8,245.2 L390.9,246.1 L391.1,247.0 L391.2,247.9 L391.4,248.8 L391.5,249.7 L391.7,250.6 L391.8,251.4 L391.9,252.3 L392.1,253.3 L392.2,254.1 L392.4,255.0 L392.5,255.9 L392.7,256.7 L392.8,257.7 L393.0,258.6 L393.1,259.5 L393.2,260.4 L393.4,261.2 L393.5,262.1 L393.7,263.0 L393.8,263.9 L393.9,264.7 L394.1,265.7 L394.2,266.6 L394.4,267.5 L394.5,268.4 L394.7,269.3 L394.8,270.1 L394.9,271.0 L395.1,271.9 L395.2,272.8 L395.4,273.6 L395.5,274.6 L395.7,275.5 L395.8,276.4 L395.9,277.2 L396.1,278.1 L396.2,279.1 L396.4,279.9 L396.5,280.8 L396.7,281.6 L396.8,282.6 L397.0,283.5 L397.1,284.3 L397.3,285.3 L397.4,286.1 L397.5,286.9 L397.7,287.9 L397.8,288.7 L398.0,289.7 L398.2,290.6 L398.3,291.4 L398.5,292.3 L398.6,293.2 L398.8,294.1 L398.9,295.0 L399.1,295.9 L399.2,296.8 L399.4,297.6 L399.5,298.5 L399.7,299.4 L399.9,300.3 L400.0,301.1 L400.2,302.1 L400.4,303.0 L400.5,303.8 L400.7,304.7 L400.9,305.6 L401.0,306.5 L401.2,307.4 L401.4,308.2 L401.5,309.1 L401.7,310.1 L401.9,310.9 L402.1,311.8 L402.2,312.7 L402.4,313.5 L402.6,314.4 L402.8,315.3 L403.0,316.2 L403.2,317.1 L403.4,318.0 L403.5,318.8 L403.7,319.7 L403.9,320.5 L404.1,321.4 L404.3,322.3 L404.5,323.2 L404.7,324.1 L404.9,325.0 L405.2,325.9 L405.4,326.7 L405.6,327.6 L405.8,328.5 L406.0,329.3 L406.2,330.2 L406.5,331.0 L406.7,331.9 L406.9,332.8 L407.2,333.6 L407.4,334.6 L407.7,335.4 L407.9,336.3 L408.2,337.1 L408.4,338.0 L408.7,338.9 L408.9,339.7 L409.2,340.6 L409.5,341.4 L409.8,342.3 L410.1,343.1 L410.4,344.0 L410.7,344.8 L411.0,345.7 L411.3,346.5 L411.6,347.3 L411.9,348.2 L412.3,349.0 L412.6,349.9 L413.0,350.7 L413.3,351.5 L413.7,352.3 L414.1,353.2 L414.5,353.9 L414.9,354.8 L415.3,355.5 L415.7,356.3 L416.2,357.1 L416.6,357.9 L417.1,358.7 L417.6,359.4 L418.1,360.1 L418.6,360.9 L419.2,361.6 L419.7,362.3 L420.3,363.0 L420.9,363.7 L421.5,364.3 L422.2,364.9 L422.8,365.6 L423.5,366.2 L424.2,366.7 L424.9,367.2 L425.7,367.7 L426.4,368.2 L427.2,368.7 L428.0,369.1 L428.8,369.5 L429.7,369.8 L430.5,370.2 L431.4,370.5 L432.2,370.7 L433.1,371.0 L434.0,371.2 L434.8,371.4 L435.7,371.6 L436.6,371.7 L437.5,371.9 L438.4,372.0 L439.3,372.1 L440.2,372.2 L441.1,372.3 L442.0,372.4 L442.9,372.4 L443.8,372.5 L444.7,372.5 L445.6,372.6 L446.5,372.6 L447.4,372.6 L448.3,372.7 L449.2,372.7 L450.0,372.7 L450.9,372.7 L451.8,372.7 L452.7,372.7 L453.6,372.8 L454.5,372.8 L455.4,372.8 L456.3,372.8 L457.2,372.8 L458.1,372.8 L459.0,372.8 L459.9,372.8 L460.8,372.8 L461.7,372.8 L462.6,372.8 L463.5,372.8 L464.4,372.8 L465.3,372.8 L466.2,372.8 L467.1,372.8 L468.0,372.8 L468.9,372.8 L469.8,372.8 L470.7,372.8 L471.6,372.8 L472.5,372.8 L473.4,372.8 L474.3,372.8 L475.2,372.8 L476.1,372.8 L477.0,372.8 L477.9,372.8 L478.8,372.8 L479.7,372.8 L480.6,372.8 L481.5,372.8 L482.4,372.8 L483.3,372.8 L484.2,372.8 L485.1,372.8 L486.0,372.8 L486.9,372.8 L487.8,372.8 L488.7,372.8 L489.6,372.8 L490.5,372.8 L491.4,372.8 L492.3,372.8 L493.2,372.8 L494.1,372.8 L495.0,372.8 L495.9,372.8 L496.8,372.8 L497.7,372.8 L498.6,372.8 L499.5,372.8 L500.4,372.8 L501.3,372.8 L502.2,372.8 L503.1,372.8 L504.0,372.8 L504.9,372.8 L505.8,372.8 L506.7,372.8 L507.6,372.8 L508.5,372.8 L509.4,372.8 L510.3,372.8 L511.2,372.8 L512.1,372.8 L513.0,372.8 L513.9,372.8 L514.8,372.8 L515.7,372.8 L516.6,372.8 L517.5,372.8 L518.4,372.8 L519.3,372.8 L520.2,372.8 L521.1,372.8 L522.0,372.8 L522.9,372.8 L523.8,372.8 L524.7,372.8 L525.6,372.8 L526.5,372.8 L527.4,372.8 L528.3,372.8 L529.2,372.8 L530.1,372.8 L531.0,372.8 L531.9,372.8 L532.8,372.8 L533.7,372.8 L534.6,372.8 L535.5,372.8 L536.4,372.8 L537.3,372.8 L538.2,372.8 L539.1,372.8 L540.0,372.8 L540.9,372.8 L541.8,372.8 L542.7,372.8 L543.6,372.8 L544.5,372.8 L544.6,372.8" stroke="#47aeaa"/>
<path d="M303.3,372.8 L304.2,372.8 L305.1,372.8 L306.0,372.8 L306.9,372.8 L307.8,372.8 L308.7,372.8 L309.6,372.8 L310.5,372.8 L311.4,372.8 L312.3,372.8 L313.2,372.8 L314.1,372.8 L315.0,372.8 L315.9,372.8 L316.8,372.8 L317.7,372.8 L318.6,372.8 L319.5,372.8 L320.4,372.8 L321.3,372.8 L322.2,372.8 L323.1,372.8 L324.0,372.8 L324.9,372.8 L325.8,372.8 L326.7,372.8 L327.6,372.8 L328.5,372.8 L329.4,372.8 L330.3,372.8 L331.2,372.8 L332.1,372.8 L333.0,372.8 L333.9,372.8 L334.8,372.7 L335.7,372.7 L336.6,372.7 L337.5,372.7 L338.4,372.6 L339.3,372.6 L340.2,372.5 L341.1,372.5 L342.0,372.4 L342.9,372.2 L343.8,372.1 L344.7,371.9 L345.5,371.8 L346.4,371.5 L347.3,371.3 L348.1,371.0 L349.0,370.6 L349.8,370.2 L350.6,369.8 L351.3,369.3 L352.1,368.8 L352.8,368.3 L353.5,367.7 L354.1,367.1 L354.8,366.4 L355.4,365.8 L356.0,365.1 L356.5,364.4 L357.1,363.7 L357.6,363.0 L358.1,362.2 L358.6,361.4 L359.1,360.7 L359.5,359.9 L360.0,359.1 L360.4,358.3 L360.8,357.5 L361.2,356.7 L361.6,355.9 L362.0,355.1 L362.4,354.3 L362.7,353.4 L363.1,352.6 L363.4,351.8 L363.8,351.0 L364.1,350.1 L364.4,349.3 L364.8,348.4 L365.1,347.6 L365.4,346.8 L365.7,345.9 L366.0,345.1 L366.3,344.2 L366.6,343.3 L366.9,342.5 L367.2,341.6 L367.5,340.8 L367.7,339.9 L368.0,339.1 L368.3,338.3 L368.6,337.4 L368.8,336.5 L369.1,335.7 L369.4,334.8 L369.6,334.0 L369.9,333.1 L370.1,332.2 L370.4,331.4 L370.7,330.5 L370.9,329.7 L371.2,328.8 L371.4,327.9 L371.7,327.0 L371.9,326.1 L372.2,325.3 L372.4,324.4 L372.6,323.6 L372.9,322.7 L373.1,321.8 L373.4,321.0 L373.6,320.1 L373.9,319.3 L374.1,318.4 L374.3,317.5 L374.6,316.7 L374.8,315.7 L375.1,314.9 L375.3,314.0 L375.6,313.1 L375.8,312.3 L376.0,311.4 L376.3,310.6 L376.5,309.7 L376.8,308.8 L377.0,308.0 L377.3,307.1 L377.5,306.2 L377.7,305.4 L378.0,304.5 L378.2,303.6 L378.5,302.8 L378.7,301.9 L379.0,301.1 L379.2,300.2 L379.5,299.3 L379.7,298.5 L380.0,297.6 L380.3,296.8 L380.5,295.8 L380.8,295.0 L381.1,294.2 L381.3,293.3 L381.6,292.5 L381.9,291.6 L382.2,290.7 L382.4,289.9 L382.7,289.0 L383.0,288.2 L383.3,287.3 L383.6,286.5 L383.9,285.6 L384.2,284.8 L384.6,283.9 L384.9,283.1 L385.2,282.2 L385.6,281.4 L385.9,280.6 L386.3,279.8 L386.6,279.0 L387.0,278.2 L387.4,277.3 L387.8,276.5 L388.2,275.8 L388.7,274.9 L389.1,274.2 L389.6,273.4 L390.1,272.7 L390.7,272.0 L391.3,271.3 L391.9,270.7 L392.6,270.1 L393.4,269.6 L394.2,269.2 L395.1,269.0 L396.0,269.0 L396.8,269.2 L397.6,269.6 L398.4,270.1 L399.1,270.7 L399.7,271.3 L400.3,272.0 L400.8,272.7 L401.4,273.5 L401.9,274.2 L402.3,275.0 L402.8,275.7 L403.2,276.5 L403.7,277.4 L404.1,278.1 L404.5,278.9 L404.9,279.8 L405.2,280.6 L405.6,281.4 L406.0,282.2 L406.4,283.0 L406.7,283.9 L407.1,284.7 L407.4,285.5 L407.8,286.3 L408.1,287.2 L408.4,288.0 L408.8,288.9 L409.1,289.7 L409.4,290.5 L409.8,291.4 L410.1,292.2 L410.4,293.0 L410.7,293.9 L411.0,294.7 L411.4,295.6 L411.7,296.4 L412.0,297.2 L412.3,298.1 L412.6,299.0 L412.9,299.8 L413.2,300.6 L413.5,301.5 L413.9,302.3 L414.2,303.2 L414.5,304.0 L414.8,304.9 L415.1,305.7 L415.4,306.6 L415.7,307.4 L416.0,308.2 L416.4,309.1 L416.7,309.9 L417.0,310.8 L417.3,311.6 L417.6,312.5 L417.9,313.3 L418.2,314.1 L418.6,315.0 L418.9,315.8 L419.2,316.7 L419.5,317.5 L419.9,318.3 L420.2,319.2 L420.5,320.0 L420.9,320.9 L421.2,321.7 L421.5,322.5 L421.9,323.3 L422.2,324.2 L422.5,325.0 L422.9,325.9 L423.2,326.7 L423.6,327.5 L423.9,328.3 L424.3,329.1 L424.7,330.0 L425.0,330.8 L425.4,331.6 L425.8,332.4 L426.1,333.3 L426.5,334.1 L426.9,334.9 L427.3,335.7 L427.7,336.5 L428.1,337.3 L428.5,338.1 L428.9,338.9 L429.3,339.7 L429.7,340.5 L430.1,341.3 L430.6,342.1 L431.0,342.9 L431.4,343.7 L431.9,344.4 L432.3,345.2 L432.8,346.0 L433.3,346.8 L433.7,347.5 L434.2,348.3 L434.7,349.1 L435.2,349.8 L435.7,350.5 L436.2,351.3 L436.8,352.0 L437.3,352.7 L437.8,353.5 L438.4,354.2 L439.0,354.9 L439.5,355.6 L440.1,356.2 L440.7,356.9 L441.3,357.6 L441.9,358.2 L442.6,358.9 L443.2,359.5 L443.9,360.1 L444.5,360.7 L445.2,361.3 L445.9,361.9 L446.6,362.5 L447.3,363.0 L448.0,363.6 L448.8,364.1 L449.5,364.6 L450.3,365.1 L451.1,365.5 L451.8,366.0 L452.6,366.4 L453.4,366.8 L454.2,367.2 L455.0,367.6 L455.9,367.9 L456.7,368.3 L457.5,368.6 L458.4,368.9 L459.2,369.2 L460.1,369.5 L461.0,369.7 L461.8,370.0 L462.7,370.2 L463.6,370.4 L464.5,370.6 L465.3,370.8 L466.2,370.9 L467.1,371.1 L468.0,371.2 L468.9,371.4 L469.8,371.5 L470.7,371.6 L471.6,371.7 L472.5,371.8 L473.4,371.9 L474.3,372.0 L475.2,372.1 L476.0,372.2 L476.9,372.2 L477.8,372.3 L478.7,372.3 L479.6,372.4 L480.5,372.4 L481.4,372.5 L482.3,372.5 L483.2,372.5 L484.1,372.6 L485.0,372.6 L485.9,372.6 L486.8,372.6 L487.7,372.7 L488.6,372.7 L489.5,372.7 L490.4,372.7 L491.3,372.7 L492.2,372.7 L493.1,372.7 L494.0,372.7 L494.9,372.8 L495.8,372.8 L496.7,372.8 L497.6,372.8 L498.5,372.8 L499.4,372.8 L500.3,372.8 L501.2,372.8 L502.1,372.8 L503.0,372.8 L503.9,372.8 L504.8,372.8 L505.7,372.8 L506.6,372.8 L507.5,372.8 L508.4,372.8 L509.3,372.8 L510.2,372.8 L511.1,372.8 L512.0,372.8 L512.9,372.8 L513.8,372.8 L514.7,372.8 L515.6,372.8 L516.5,372.8 L517.4,372.8 L518.3,372.8 L519.2,372.8 L520.1,372.8 L521.0,372.8 L521.9,372.8 L522.8,372.8 L523.7,372.8 L524.6,372.8 L525.5,372.8 L526.4,372.8 L527.3,372.8 L528.2,372.8 L529.1,372.8 L530.0,372.8 L530.9,372.8 L531.8,372.8 L532.7,372.8 L533.6,372.8 L534.5,372.8 L535.4,372.8 L536.3,372.8 L537.2,372.8 L538.1,372.8 L539.0,372.8 L539.9,372.8 L540.8,372.8 L541.7,372.8 L542.6,372.8 L543.5,372.8 L544.4,372.8 L544.6,372.8" stroke="#4d72b4"/>
<path d="M303.3,372.8 L304.2,372.8 L305.1,372.8 L306.0,372.8 L306.9,372.8 L307.8,372.8 L308.7,372.8 L309.6,372.8 L310.5,372.8 L311.4,372.8 L312.3,372.8 L313.2,372.8 L314.1,372.8 L315.0,372.8 L315.9,372.8 L316.8,372.8 L317.7,372.8 L318.6,372.8 L319.5,372.8 L320.4,372.7 L321.3,372.7 L322.2,372.7 L323.1,372.7 L324.0,372.7 L324.9,372.7 L325.8,372.6 L326.7,372.6 L327.6,372.6 L328.5,372.5 L329.4,372.5 L330.3,372.5 L331.2,372.4 L332.1,372.3 L333.0,372.3 L333.9,372.2 L334.8,372.1 L335.7,372.0 L336.6,371.9 L337.5,371.8 L338.4,371.6 L339.2,371.5 L340.1,371.3 L341.0,371.1 L341.9,370.9 L342.8,370.7 L343.6,370.5 L344.5,370.2 L345.3,369.9 L346.2,369.6 L347.0,369.2 L347.8,368.9 L348.7,368.5 L349.5,368.1 L350.2,367.7 L351.0,367.2 L351.8,366.7 L352.5,366.2 L353.3,365.7 L354.0,365.2 L354.7,364.6 L355.4,364.0 L356.1,363.4 L356.7,362.8 L357.4,362.2 L358.0,361.6 L358.6,360.9 L359.2,360.2 L359.8,359.6 L360.4,358.9 L361.0,358.2 L361.6,357.5 L362.1,356.8 L362.6,356.1 L363.2,355.3 L363.7,354.6 L364.2,353.9 L364.7,353.1 L365.2,352.4 L365.7,351.6 L366.2,350.8 L366.7,350.1 L367.1,349.3 L367.6,348.5 L368.1,347.8 L368.5,347.0 L369.0,346.2 L369.4,345.4 L369.8,344.6 L370.3,343.9 L370.7,343.1 L371.1,342.3 L371.5,341.5 L372.0,340.7 L372.4,339.9 L372.8,339.1 L373.2,338.3 L373.6,337.5 L374.0,336.7 L374.4,335.9 L374.8,335.1 L375.2,334.2 L375.6,333.4 L376.0,332.6 L376.4,331.8 L376.8,331.0 L377.2,330.2 L377.6,329.4 L377.9,328.6 L378.3,327.8 L378.7,326.9 L379.1,326.1 L379.5,325.3 L379.9,324.5 L380.3,323.7 L380.7,322.9 L381.0,322.1 L381.4,321.3 L381.8,320.4 L382.2,319.7 L382.6,318.8 L383.0,318.0 L383.4,317.2 L383.8,316.4 L384.2,315.6 L384.6,314.8 L385.0,314.0 L385.5,313.2 L385.9,312.4 L386.3,311.6 L386.7,310.8 L387.1,310.1 L387.6,309.3 L388.0,308.5 L388.5,307.7 L388.9,306.9 L389.4,306.1 L389.9,305.4 L390.4,304.6 L390.8,303.9 L391.3,303.1 L391.9,302.4 L392.4,301.7 L392.9,300.9 L393.5,300.2 L394.1,299.5 L394.7,298.9 L395.3,298.2 L395.9,297.6 L396.6,297.0 L397.3,296.4 L398.0,295.9 L398.8,295.5 L399.6,295.1 L400.5,294.7 L401.3,294.5 L402.2,294.4 L403.1,294.4 L404.0,294.5 L404.9,294.7 L405.8,294.9 L406.6,295.2 L407.5,295.6 L408.3,296.0 L409.0,296.4 L409.8,296.9 L410.5,297.4 L411.2,298.0 L411.9,298.5 L412.6,299.1 L413.3,299.7 L413.9,300.3 L414.6,301.0 L415.2,301.6 L415.8,302.3 L416.4,303.0 L417.0,303.6 L417.6,304.3 L418.2,305.0 L418.7,305.7 L419.3,306.4 L419.9,307.1 L420.4,307.8 L421.0,308.5 L421.5,309.3 L422.0,310.0 L422.6,310.7 L423.1,311.5 L423.6,312.2 L424.1,312.9 L424.7,313.6 L425.2,314.4 L425.7,315.1 L426.2,315.9 L426.7,316.6 L427.2,317.4 L427.7,318.1 L428.2,318.8 L428.8,319.6 L429.3,320.3 L429.8,321.0 L430.3,321.8 L430.8,322.5 L431.3,323.3 L431.8,324.0 L432.3,324.8 L432.8,325.5 L433.3,326.3 L433.8,327.0 L434.3,327.7 L434.9,328.5 L435.4,329.2 L435.9,330.0 L436.4,330.7 L436.9,331.4 L437.4,332.2 L438.0,332.9 L438.5,333.6 L439.0,334.4 L439.5,335.1 L440.1,335.8 L440.6,336.5 L441.2,337.3 L441.7,338.0 L442.2,338.7 L442.8,339.4 L443.4,340.1 L443.9,340.8 L444.5,341.5 L445.0,342.2 L445.6,342.9 L446.2,343.6 L446.8,344.3 L447.3,345.0 L447.9,345.7 L448.5,346.3 L449.1,347.0 L449.7,347.7 L450.3,348.3 L451.0,349.0 L451.6,349.7 L452.2,350.3 L452.8,350.9 L453.5,351.6 L454.1,352.2 L454.8,352.8 L455.4,353.4 L456.1,354.0 L456.8,354.6 L457.4,355.2 L458.1,355.8 L458.8,356.4 L459.5,357.0 L460.2,357.5 L460.9,358.1 L461.6,358.6 L462.4,359.1 L463.1,359.7 L463.8,360.2 L464.6,360.7 L465.3,361.2 L466.1,361.6 L466.9,362.1 L467.6,362.6 L468.4,363.0 L469.2,363.5 L470.0,363.9 L470.8,364.3 L471.6,364.7 L472.4,365.1 L473.2,365.5 L474.1,365.8 L474.9,366.2 L475.7,366.5 L476.6,366.9 L477.4,367.2 L478.2,367.5 L479.1,367.8 L480.0,368.1 L480.8,368.3 L481.7,368.6 L482.5,368.8 L483.4,369.1 L484.3,369.3 L485.1,369.5 L486.0,369.7 L486.9,369.9 L487.8,370.1 L488.7,370.3 L489.5,370.5 L490.4,370.6 L491.3,370.8 L492.2,370.9 L493.1,371.1 L494.0,371.2 L494.9,371.3 L495.8,371.4 L496.7,371.5 L497.6,371.6 L498.5,371.7 L499.4,371.8 L500.3,371.9 L501.1,372.0 L502.0,372.0 L502.9,372.1 L503.8,372.2 L504.7,372.2 L505.6,372.3 L506.5,372.3 L507.4,372.4 L508.3,372.4 L509.2,372.4 L510.1,372.5 L511.0,372.5 L511.9,372.5 L512.8,372.6 L513.7,372.6 L514.6,372.6 L515.5,372.6 L516.4,372.7 L517.3,372.7 L518.2,372.7 L519.1,372.7 L520.0,372.7 L520.9,372.7 L521.8,372.7 L522.7,372.7 L523.6,372.8 L524.5,372.8 L525.4,372.8 L526.3,372.8 L527.2,372.8 L528.1,372.8 L529.0,372.8 L529.9,372.8 L530.8,372.8 L531.7,372.8 L532.6,372.8 L533.5,372.8 L534.4,372.8 L535.3,372.8 L536.2,372.8 L537.1,372.8 L538.0,372.8 L538.9,372.8 L539.8,372.8 L540.7,372.8 L541.6,372.8 L542.5,372.8 L543.4,372.8 L544.3,372.8 L544.6,372.8" stroke="#311f4c"/>
</g>
<g font-size="7.7" fill="#1e1a1b">
<text transform="matrix(1.13 0 0 1 328.06 383.60)" text-anchor="middle">-1</text>
<text transform="matrix(1.13 0 0 1 365.30 383.60)" text-anchor="middle">0</text>
<text transform="matrix(1.13 0 0 1 402.54 383.60)" text-anchor="middle">1</text>
<text transform="matrix(1.13 0 0 1 439.78 383.60)" text-anchor="middle">2</text>
<text transform="matrix(1.13 0 0 1 477.02 383.60)" text-anchor="middle">3</text>
<text transform="matrix(1.13 0 0 1 514.26 383.60)" text-anchor="middle">4</text>
<text transform="matrix(1.13 0 0 1 299.50 375.80)" text-anchor="end">0</text>
<text transform="matrix(1.13 0 0 1 299.50 347.70)" text-anchor="end">0.2</text>
<text transform="matrix(1.13 0 0 1 299.50 319.60)" text-anchor="end">0.4</text>
<text transform="matrix(1.13 0 0 1 299.50 291.50)" text-anchor="end">0.6</text>
<text transform="matrix(1.13 0 0 1 299.50 263.40)" text-anchor="end">0.8</text>
<text transform="matrix(1.13 0 0 1 299.50 235.30)" text-anchor="end">1</text>
</g>
<text transform="matrix(1.13 0 0 1 305.20 213.20)" font-size="8.0" fill="#1e1a1b">(e) R10mm</text>
<clipPath id="xle"><rect x="0" y="0" width="833" height="391.8"/></clipPath>
<text x="423.95" y="393.20" font-size="8.6" fill="#1e1a1b" text-anchor="middle" textLength="43.3" lengthAdjust="spacingAndGlyphs" clip-path="url(#xle)">Change (<tspan font-style="italic">σ</tspan>)</text>
<text transform="translate(285.30,289.50) rotate(-90) scale(1,1.13)" font-size="8.7" fill="#1e1a1b" text-anchor="middle" textLength="25.6" lengthAdjust="spacingAndGlyphs">Density</text>
<rect x="498.50" y="212.70" width="39.0" height="29.1" fill="#fff" stroke="#b9b5b3" stroke-width="1"/>
<path d="M500.80,216.70H517.40" stroke="#0e0c0d" stroke-width="1.9"/>
<text class="lg" x="519.50" y="219.53" font-size="6.3" fill="#2a2627" textLength="14.9" lengthAdjust="spacingAndGlyphs">1.5°C</text>
<path d="M500.80,223.55H517.40" stroke="#47aeaa" stroke-width="1.9"/>
<text class="lg" x="519.50" y="226.38" font-size="6.3" fill="#2a2627" textLength="14.9" lengthAdjust="spacingAndGlyphs">2.0°C</text>
<path d="M500.80,230.40H517.40" stroke="#4d72b4" stroke-width="1.9"/>
<text class="lg" x="519.50" y="233.23" font-size="6.3" fill="#2a2627" textLength="14.9" lengthAdjust="spacingAndGlyphs">3.0°C</text>
<path d="M500.80,237.25H517.40" stroke="#311f4c" stroke-width="1.9"/>
<text class="lg" x="519.50" y="240.09" font-size="6.3" fill="#2a2627" textLength="14.9" lengthAdjust="spacingAndGlyphs">4.0°C</text>
<rect x="579.3" y="205.2" width="241.10" height="166.60" fill="#fff"/>
<clipPath id="clipf"><rect x="579.3" y="204.2" width="241.10" height="169.20"/></clipPath>
<path d="M604.50,371.80v-2.4M604.50,205.20v2.4M651.20,371.80v-2.4M651.20,205.20v2.4M697.90,371.80v-2.4M697.90,205.20v2.4M744.60,371.80v-2.4M744.60,205.20v2.4M791.30,371.80v-2.4M791.30,205.20v2.4M579.30,371.80h2.4M820.40,371.80h-2.4M579.30,346.88h2.4M820.40,346.88h-2.4M579.30,321.96h2.4M820.40,321.96h-2.4M579.30,297.04h2.4M820.40,297.04h-2.4M579.30,272.12h2.4M820.40,272.12h-2.4M579.30,247.20h2.4M820.40,247.20h-2.4M579.30,222.28h2.4M820.40,222.28h-2.4" stroke="#8a8684" stroke-width="0.8" fill="none"/>
<rect x="579.3" y="205.2" width="241.10" height="166.60" fill="none" stroke="#b9b5b3" stroke-width="1.4"/>
<g clip-path="url(#clipf)" fill="none" stroke-width="2.1" stroke-linejoin="round">
<path d="M579.3,371.6 L580.2,371.5 L581.1,371.3 L582.0,371.1 L582.8,370.9 L583.7,370.6 L584.5,370.2 L585.3,369.7 L586.0,369.2 L586.6,368.6 L587.3,367.9 L587.8,367.2 L588.4,366.5 L588.8,365.7 L589.3,364.9 L589.7,364.2 L590.1,363.4 L590.5,362.5 L590.9,361.7 L591.2,360.8 L591.5,360.0 L591.8,359.2 L592.1,358.3 L592.4,357.5 L592.7,356.6 L592.9,355.8 L593.2,354.9 L593.4,354.0 L593.7,353.1 L593.9,352.2 L594.1,351.4 L594.3,350.5 L594.5,349.7 L594.7,348.8 L595.0,347.8 L595.1,347.0 L595.3,346.1 L595.5,345.2 L595.7,344.3 L595.9,343.5 L596.1,342.6 L596.3,341.7 L596.4,340.9 L596.6,339.9 L596.8,339.1 L596.9,338.2 L597.1,337.3 L597.2,336.5 L597.4,335.6 L597.6,334.6 L597.7,333.7 L597.9,332.9 L598.0,332.0 L598.2,331.1 L598.3,330.2 L598.5,329.3 L598.6,328.4 L598.7,327.6 L598.9,326.7 L599.0,325.8 L599.2,324.9 L599.3,324.0 L599.4,323.1 L599.6,322.2 L599.7,321.2 L599.8,320.4 L600.0,319.5 L600.1,318.7 L600.2,317.7 L600.4,316.8 L600.5,315.9 L600.6,315.1 L600.8,314.1 L600.9,313.3 L601.0,312.3 L601.1,311.5 L601.3,310.6 L601.4,309.8 L601.5,308.8 L601.6,307.9 L601.8,307.0 L601.9,306.2 L602.0,305.3 L602.1,304.4 L602.2,303.5 L602.4,302.6 L602.5,301.6 L602.6,300.7 L602.7,299.8 L602.9,299.0 L603.0,298.1 L603.1,297.2 L603.2,296.3 L603.3,295.4 L603.5,294.5 L603.6,293.6 L603.7,292.7 L603.8,291.8 L603.9,290.9 L604.1,290.0 L604.2,289.3 L604.3,288.4 L604.4,287.5 L604.5,286.6 L604.6,285.7 L604.8,284.8 L604.9,283.9 L605.0,283.0 L605.1,282.1 L605.2,281.2 L605.4,280.3 L605.5,279.3 L605.6,278.4 L605.7,277.6 L605.9,276.7 L606.0,275.8 L606.1,274.9 L606.2,274.1 L606.3,273.2 L606.5,272.2 L606.6,271.3 L606.7,270.5 L606.8,269.6 L607.0,268.7 L607.1,267.8 L607.2,266.8 L607.4,266.0 L607.5,265.2 L607.6,264.2 L607.7,263.4 L607.9,262.5 L608.0,261.5 L608.1,260.7 L608.3,259.8 L608.4,258.9 L608.6,258.0 L608.7,257.1 L608.8,256.2 L609.0,255.3 L609.1,254.5 L609.3,253.6 L609.4,252.6 L609.6,251.8 L609.7,251.0 L609.9,250.0 L610.0,249.1 L610.2,248.2 L610.3,247.4 L610.5,246.5 L610.7,245.6 L610.8,244.7 L611.0,243.9 L611.2,243.0 L611.3,242.1 L611.5,241.2 L611.7,240.3 L611.9,239.4 L612.1,238.6 L612.3,237.7 L612.5,236.8 L612.7,235.9 L612.9,235.1 L613.2,234.2 L613.4,233.4 L613.6,232.4 L613.9,231.6 L614.2,230.7 L614.5,229.9 L614.8,229.1 L615.1,228.2 L615.5,227.4 L615.9,226.6 L616.4,225.9 L617.0,225.2 L617.7,224.7 L618.6,224.6 L619.4,225.0 L620.1,225.6 L620.7,226.3 L621.2,227.0 L621.6,227.8 L622.0,228.6 L622.4,229.4 L622.8,230.2 L623.1,231.1 L623.4,231.9 L623.7,232.8 L624.0,233.6 L624.3,234.5 L624.6,235.3 L624.9,236.2 L625.1,237.1 L625.4,237.9 L625.6,238.8 L625.9,239.7 L626.1,240.5 L626.4,241.4 L626.6,242.2 L626.8,243.1 L627.1,244.0 L627.3,244.9 L627.5,245.8 L627.7,246.6 L628.0,247.5 L628.2,248.4 L628.4,249.2 L628.6,250.1 L628.8,251.0 L629.0,251.9 L629.2,252.7 L629.4,253.6 L629.6,254.5 L629.8,255.4 L630.0,256.2 L630.2,257.1 L630.4,258.0 L630.6,258.9 L630.8,259.7 L631.0,260.6 L631.2,261.5 L631.4,262.4 L631.6,263.3 L631.8,264.1 L632.0,265.0 L632.2,265.9 L632.4,266.8 L632.6,267.7 L632.8,268.5 L633.0,269.4 L633.2,270.3 L633.4,271.2 L633.6,272.0 L633.8,272.9 L634.0,273.8 L634.2,274.7 L634.4,275.5 L634.6,276.4 L634.8,277.3 L635.0,278.2 L635.2,279.1 L635.3,279.9 L635.5,280.8 L635.7,281.7 L635.9,282.6 L636.1,283.5 L636.3,284.3 L636.5,285.2 L636.7,286.1 L636.9,287.0 L637.1,287.8 L637.3,288.7 L637.6,289.7 L637.8,290.5 L638.0,291.4 L638.2,292.2 L638.4,293.1 L638.6,294.0 L638.8,294.9 L639.0,295.7 L639.2,296.7 L639.4,297.5 L639.6,298.4 L639.9,299.3 L640.1,300.1 L640.3,301.0 L640.5,301.8 L640.7,302.7 L640.9,303.6 L641.2,304.4 L641.4,305.4 L641.6,306.2 L641.8,307.1 L642.1,308.0 L642.3,308.8 L642.5,309.7 L642.8,310.6 L643.0,311.4 L643.3,312.3 L643.5,313.2 L643.7,314.0 L644.0,314.9 L644.2,315.8 L644.5,316.6 L644.7,317.5 L645.0,318.4 L645.3,319.2 L645.5,320.1 L645.8,320.9 L646.0,321.8 L646.3,322.7 L646.6,323.5 L646.9,324.4 L647.1,325.2 L647.4,326.1 L647.7,327.0 L648.0,327.8 L648.3,328.6 L648.6,329.5 L648.9,330.3 L649.2,331.2 L649.5,332.0 L649.8,332.8 L650.1,333.7 L650.5,334.6 L650.8,335.4 L651.1,336.2 L651.5,337.1 L651.8,337.9 L652.2,338.7 L652.5,339.5 L652.9,340.4 L653.3,341.2 L653.6,342.0 L654.0,342.8 L654.4,343.6 L654.8,344.4 L655.2,345.2 L655.6,346.0 L656.1,346.8 L656.5,347.6 L656.9,348.4 L657.4,349.1 L657.9,349.9 L658.3,350.7 L658.8,351.5 L659.3,352.2 L659.8,353.0 L660.3,353.7 L660.8,354.4 L661.4,355.1 L661.9,355.9 L662.5,356.5 L663.1,357.2 L663.7,357.9 L664.3,358.6 L664.9,359.2 L665.5,359.9 L666.2,360.5 L666.9,361.1 L667.5,361.7 L668.2,362.2 L669.0,362.8 L669.7,363.3 L670.4,363.9 L671.2,364.3 L671.9,364.8 L672.7,365.3 L673.5,365.7 L674.3,366.1 L675.1,366.5 L675.9,366.9 L676.7,367.2 L677.6,367.6 L678.4,367.9 L679.3,368.2 L680.1,368.5 L681.0,368.7 L681.9,368.9 L682.7,369.2 L683.6,369.4 L684.5,369.6 L685.4,369.8 L686.3,369.9 L687.1,370.1 L688.0,370.2 L688.9,370.4 L689.8,370.5 L690.7,370.6 L691.6,370.7 L692.5,370.8 L693.4,370.9 L694.3,371.0 L695.2,371.0 L696.1,371.1 L697.0,371.2 L697.9,371.2 L698.8,371.3 L699.7,371.3 L700.6,371.4 L701.5,371.4 L702.4,371.5 L703.3,371.5 L704.2,371.5 L705.1,371.5 L706.0,371.6 L706.9,371.6 L707.8,371.6 L708.7,371.6 L709.6,371.7 L710.5,371.7 L711.4,371.7 L712.3,371.7 L713.2,371.7 L714.1,371.7 L715.0,371.7 L715.9,371.7 L716.8,371.7 L717.7,371.7 L718.6,371.8 L719.5,371.8 L720.4,371.8 L721.3,371.8 L722.2,371.8 L723.1,371.8 L724.0,371.8 L724.9,371.8 L725.8,371.8 L726.7,371.8 L727.6,371.8 L728.5,371.8 L729.4,371.8 L730.3,371.8 L731.2,371.8 L732.1,371.8 L733.0,371.8 L733.9,371.8 L734.8,371.8 L735.7,371.8 L736.6,371.8 L737.5,371.8 L738.4,371.8 L739.3,371.8 L740.2,371.8 L741.1,371.8 L742.0,371.8 L742.9,371.8 L743.8,371.8 L744.7,371.8 L745.6,371.8 L746.5,371.8 L747.4,371.8 L748.3,371.8 L749.2,371.8 L750.1,371.8 L751.0,371.8 L751.9,371.8 L752.8,371.8 L753.7,371.8 L754.6,371.8 L755.5,371.8 L756.4,371.8 L757.3,371.8 L758.2,371.8 L759.1,371.8 L760.0,371.8 L760.9,371.8 L761.8,371.8 L762.7,371.8 L763.6,371.8 L764.5,371.8 L765.4,371.8 L766.3,371.8 L767.2,371.8 L768.1,371.8 L769.0,371.8 L769.9,371.8 L770.8,371.8 L771.7,371.8 L772.6,371.8 L773.5,371.8 L774.4,371.8 L775.3,371.8 L776.2,371.8 L777.1,371.8 L778.0,371.8 L778.9,371.8 L779.8,371.8 L780.7,371.8 L781.6,371.8 L782.5,371.8 L783.4,371.8 L784.3,371.8 L785.2,371.8 L786.1,371.8 L787.0,371.8 L787.9,371.8 L788.8,371.8 L789.7,371.8 L790.6,371.8 L791.5,371.8 L792.4,371.8 L793.3,371.8 L794.2,371.8 L795.1,371.8 L796.0,371.8 L796.9,371.8 L797.8,371.8 L798.7,371.8 L799.6,371.8 L800.5,371.8 L801.4,371.8 L802.3,371.8 L803.2,371.8 L804.1,371.8 L805.0,371.8 L805.9,371.8 L806.8,371.8 L807.7,371.8 L808.6,371.8 L809.5,371.8 L810.4,371.8 L811.3,371.8 L812.2,371.8 L813.1,371.8 L814.0,371.8 L814.9,371.8 L815.8,371.8 L816.7,371.8 L817.6,371.8 L818.5,371.8 L819.4,371.8 L820.3,371.8 L820.4,371.8" stroke="#0e0c0d"/>
<path d="M579.3,371.8 L580.2,371.8 L581.1,371.8 L582.0,371.8 L582.9,371.8 L583.8,371.8 L584.7,371.7 L585.6,371.7 L586.5,371.6 L587.4,371.6 L588.3,371.5 L589.2,371.3 L590.1,371.1 L590.9,370.9 L591.8,370.6 L592.6,370.2 L593.4,369.8 L594.1,369.2 L594.8,368.7 L595.5,368.0 L596.1,367.4 L596.6,366.7 L597.1,365.9 L597.6,365.2 L598.1,364.4 L598.5,363.6 L598.9,362.8 L599.2,361.9 L599.6,361.1 L599.9,360.3 L600.3,359.4 L600.6,358.6 L600.9,357.7 L601.1,356.9 L601.4,356.0 L601.7,355.2 L601.9,354.3 L602.2,353.4 L602.4,352.5 L602.6,351.7 L602.9,350.8 L603.1,349.9 L603.3,349.1 L603.5,348.2 L603.7,347.3 L603.9,346.4 L604.1,345.5 L604.3,344.7 L604.5,343.8 L604.7,342.9 L604.9,342.0 L605.0,341.1 L605.2,340.3 L605.4,339.4 L605.5,338.5 L605.7,337.6 L605.9,336.7 L606.0,335.8 L606.2,334.9 L606.4,334.0 L606.5,333.2 L606.7,332.3 L606.8,331.4 L607.0,330.5 L607.1,329.7 L607.3,328.7 L607.4,327.8 L607.5,327.0 L607.7,326.1 L607.8,325.2 L608.0,324.3 L608.1,323.4 L608.2,322.5 L608.4,321.6 L608.5,320.8 L608.6,319.8 L608.8,318.9 L608.9,318.1 L609.0,317.1 L609.2,316.3 L609.3,315.3 L609.4,314.5 L609.5,313.7 L609.7,312.7 L609.8,311.8 L609.9,311.0 L610.0,310.1 L610.2,309.1 L610.3,308.2 L610.4,307.3 L610.5,306.5 L610.7,305.6 L610.8,304.7 L610.9,303.8 L611.0,302.9 L611.1,302.0 L611.3,301.1 L611.4,300.2 L611.5,299.3 L611.6,298.4 L611.7,297.5 L611.8,296.7 L612.0,295.8 L612.1,294.9 L612.2,294.0 L612.3,293.0 L612.4,292.1 L612.5,291.4 L612.7,290.4 L612.8,289.5 L612.9,288.6 L613.0,287.8 L613.1,286.9 L613.2,285.9 L613.4,285.0 L613.5,284.2 L613.6,283.3 L613.7,282.4 L613.8,281.4 L613.9,280.7 L614.0,279.7 L614.2,278.8 L614.3,277.9 L614.4,276.9 L614.5,276.2 L614.6,275.2 L614.7,274.3 L614.9,273.4 L615.0,272.5 L615.1,271.7 L615.2,270.8 L615.3,269.9 L615.4,269.0 L615.6,268.1 L615.7,267.1 L615.8,266.2 L615.9,265.3 L616.0,264.6 L616.1,263.7 L616.3,262.8 L616.4,261.9 L616.5,260.9 L616.6,260.0 L616.8,259.1 L616.9,258.3 L617.0,257.4 L617.1,256.5 L617.3,255.5 L617.4,254.7 L617.5,253.8 L617.6,253.0 L617.8,252.0 L617.9,251.2 L618.0,250.2 L618.1,249.4 L618.3,248.5 L618.4,247.6 L618.5,246.8 L618.7,245.8 L618.8,244.9 L619.0,244.0 L619.1,243.1 L619.2,242.3 L619.4,241.4 L619.5,240.5 L619.7,239.6 L619.8,238.7 L620.0,237.8 L620.1,237.0 L620.3,236.1 L620.4,235.2 L620.6,234.3 L620.8,233.4 L620.9,232.6 L621.1,231.6 L621.3,230.8 L621.4,229.9 L621.6,229.0 L621.8,228.2 L622.0,227.2 L622.2,226.3 L622.4,225.4 L622.6,224.6 L622.8,223.7 L623.0,222.8 L623.3,222.0 L623.5,221.1 L623.8,220.3 L624.0,219.4 L624.3,218.6 L624.6,217.7 L624.9,216.9 L625.3,216.0 L625.7,215.2 L626.2,214.5 L626.7,213.8 L627.4,213.2 L628.3,213.0 L629.1,213.3 L629.8,213.9 L630.3,214.7 L630.8,215.4 L631.2,216.2 L631.5,217.0 L631.9,217.9 L632.2,218.7 L632.5,219.6 L632.8,220.4 L633.1,221.3 L633.3,222.1 L633.6,223.0 L633.8,223.8 L634.1,224.7 L634.3,225.6 L634.5,226.5 L634.8,227.3 L635.0,228.2 L635.2,229.1 L635.4,229.9 L635.6,230.9 L635.8,231.8 L636.0,232.7 L636.2,233.5 L636.4,234.4 L636.6,235.2 L636.8,236.1 L637.0,237.0 L637.1,237.9 L637.3,238.7 L637.5,239.6 L637.7,240.5 L637.9,241.4 L638.0,242.3 L638.2,243.2 L638.4,244.1 L638.6,245.0 L638.7,245.8 L638.9,246.8 L639.1,247.6 L639.2,248.5 L639.4,249.4 L639.6,250.3 L639.7,251.1 L639.9,252.0 L640.1,253.0 L640.2,253.8 L640.4,254.7 L640.5,255.6 L640.7,256.5 L640.9,257.3 L641.0,258.2 L641.2,259.1 L641.3,260.0 L641.5,260.9 L641.7,261.8 L641.8,262.7 L642.0,263.6 L642.1,264.5 L642.3,265.4 L642.5,266.3 L642.6,267.0 L642.8,267.9 L642.9,268.8 L643.1,269.7 L643.2,270.6 L643.4,271.5 L643.6,272.4 L643.7,273.3 L643.9,274.2 L644.0,275.1 L644.2,276.0 L644.3,276.8 L644.5,277.7 L644.7,278.6 L644.8,279.4 L645.0,280.3 L645.1,281.2 L645.3,282.1 L645.5,283.1 L645.6,284.0 L645.8,284.8 L646.0,285.7 L646.1,286.6 L646.3,287.4 L646.4,288.3 L646.6,289.3 L646.8,290.1 L646.9,291.0 L647.1,291.8 L647.3,292.8 L647.4,293.6 L647.6,294.6 L647.8,295.4 L648.0,296.3 L648.1,297.2 L648.3,298.1 L648.5,298.9 L648.6,299.8 L648.8,300.7 L649.0,301.6 L649.2,302.4 L649.3,303.3 L649.5,304.2 L649.7,305.1 L649.9,306.0 L650.1,306.9 L650.3,307.8 L650.4,308.7 L650.6,309.5 L650.8,310.4 L651.0,311.3 L651.2,312.1 L651.4,313.1 L651.6,314.0 L651.8,314.8 L652.0,315.7 L652.2,316.6 L652.4,317.4 L652.6,318.3 L652.8,319.2 L653.0,320.1 L653.2,320.9 L653.4,321.8 L653.6,322.7 L653.8,323.6 L654.0,324.5 L654.3,325.4 L654.5,326.2 L654.7,327.1 L654.9,327.9 L655.2,328.8 L655.4,329.7 L655.6,330.5 L655.9,331.4 L656.1,332.3 L656.3,333.1 L656.6,334.0 L656.8,334.9 L657.1,335.7 L657.4,336.6 L657.6,337.4 L657.9,338.3 L658.2,339.2 L658.4,340.0 L658.7,340.9 L659.0,341.7 L659.3,342.6 L659.6,343.4 L659.9,344.3 L660.2,345.1 L660.5,346.0 L660.8,346.8 L661.2,347.6 L661.5,348.5 L661.8,349.3 L662.2,350.1 L662.6,351.0 L662.9,351.8 L663.3,352.6 L663.7,353.4 L664.1,354.2 L664.5,355.0 L664.9,355.8 L665.4,356.6 L665.8,357.4 L666.3,358.1 L666.7,358.9 L667.2,359.7 L667.7,360.4 L668.3,361.1 L668.8,361.8 L669.4,362.5 L669.9,363.2 L670.6,363.9 L671.2,364.6 L671.8,365.2 L672.5,365.8 L673.2,366.4 L673.9,366.9 L674.6,367.4 L675.4,367.9 L676.2,368.4 L677.0,368.8 L677.8,369.2 L678.6,369.5 L679.4,369.9 L680.3,370.1 L681.1,370.4 L682.0,370.6 L682.9,370.8 L683.8,371.0 L684.7,371.1 L685.6,371.3 L686.5,371.4 L687.3,371.5 L688.2,371.5 L689.1,371.6 L690.0,371.6 L690.9,371.7 L691.8,371.7 L692.7,371.7 L693.6,371.8 L694.5,371.8 L695.4,371.8 L696.3,371.8 L697.2,371.8 L698.1,371.8 L699.0,371.8 L699.9,371.8 L700.8,371.8 L701.7,371.8 L702.6,371.8 L703.5,371.8 L704.4,371.8 L705.3,371.8 L706.2,371.8 L707.1,371.8 L708.0,371.8 L708.9,371.8 L709.8,371.8 L710.7,371.8 L711.6,371.8 L712.5,371.8 L713.4,371.8 L714.3,371.8 L715.2,371.8 L716.1,371.8 L717.0,371.8 L717.9,371.8 L718.8,371.8 L719.7,371.8 L720.6,371.8 L721.5,371.8 L722.4,371.8 L723.3,371.8 L724.2,371.8 L725.1,371.8 L726.0,371.8 L726.9,371.8 L727.8,371.8 L728.7,371.8 L729.6,371.8 L730.5,371.8 L731.4,371.8 L732.3,371.8 L733.2,371.8 L734.1,371.8 L735.0,371.8 L735.9,371.8 L736.8,371.8 L737.7,371.8 L738.6,371.8 L739.5,371.8 L740.4,371.8 L741.3,371.8 L742.2,371.8 L743.1,371.8 L744.0,371.8 L744.9,371.8 L745.8,371.8 L746.7,371.8 L747.6,371.8 L748.5,371.8 L749.4,371.8 L750.3,371.8 L751.2,371.8 L752.1,371.8 L753.0,371.8 L753.9,371.8 L754.8,371.8 L755.7,371.8 L756.6,371.8 L757.5,371.8 L758.4,371.8 L759.3,371.8 L760.2,371.8 L761.1,371.8 L762.0,371.8 L762.9,371.8 L763.8,371.8 L764.7,371.8 L765.6,371.8 L766.5,371.8 L767.4,371.8 L768.3,371.8 L769.2,371.8 L770.1,371.8 L771.0,371.8 L771.9,371.8 L772.8,371.8 L773.7,371.8 L774.6,371.8 L775.5,371.8 L776.4,371.8 L777.3,371.8 L778.2,371.8 L779.1,371.8 L780.0,371.8 L780.9,371.8 L781.8,371.8 L782.7,371.8 L783.6,371.8 L784.5,371.8 L785.4,371.8 L786.3,371.8 L787.2,371.8 L788.1,371.8 L789.0,371.8 L789.9,371.8 L790.8,371.8 L791.7,371.8 L792.6,371.8 L793.5,371.8 L794.4,371.8 L795.3,371.8 L796.2,371.8 L797.1,371.8 L798.0,371.8 L798.9,371.8 L799.8,371.8 L800.7,371.8 L801.6,371.8 L802.5,371.8 L803.4,371.8 L804.3,371.8 L805.2,371.8 L806.1,371.8 L807.0,371.8 L807.9,371.8 L808.8,371.8 L809.7,371.8 L810.6,371.8 L811.5,371.8 L812.4,371.8 L813.3,371.8 L814.2,371.8 L815.1,371.8 L816.0,371.8 L816.9,371.8 L817.8,371.8 L818.7,371.8 L819.6,371.8 L820.4,371.8" stroke="#47aeaa"/>
<path d="M579.3,371.8 L580.2,371.8 L581.1,371.8 L582.0,371.8 L582.9,371.8 L583.8,371.8 L584.7,371.8 L585.6,371.8 L586.5,371.8 L587.4,371.8 L588.3,371.8 L589.2,371.8 L590.1,371.8 L591.0,371.8 L591.9,371.8 L592.8,371.8 L593.7,371.8 L594.6,371.8 L595.5,371.8 L596.4,371.8 L597.3,371.8 L598.2,371.8 L599.1,371.8 L600.0,371.8 L600.9,371.8 L601.8,371.8 L602.7,371.8 L603.6,371.7 L604.5,371.7 L605.4,371.6 L606.3,371.6 L607.2,371.4 L608.1,371.3 L608.9,371.0 L609.8,370.7 L610.6,370.4 L611.4,369.9 L612.1,369.4 L612.8,368.8 L613.4,368.1 L614.0,367.5 L614.5,366.7 L615.0,366.0 L615.5,365.2 L615.9,364.4 L616.3,363.6 L616.7,362.8 L617.0,362.0 L617.4,361.1 L617.7,360.3 L618.0,359.4 L618.3,358.6 L618.6,357.7 L618.8,356.9 L619.1,356.0 L619.3,355.2 L619.6,354.2 L619.8,353.4 L620.1,352.5 L620.3,351.6 L620.5,350.8 L620.7,349.9 L620.9,349.0 L621.1,348.1 L621.3,347.2 L621.5,346.4 L621.7,345.4 L621.9,344.6 L622.0,343.7 L622.2,342.8 L622.4,342.0 L622.6,341.0 L622.7,340.2 L622.9,339.3 L623.1,338.4 L623.2,337.5 L623.4,336.7 L623.5,335.8 L623.7,334.9 L623.8,333.9 L624.0,333.1 L624.1,332.1 L624.3,331.3 L624.4,330.4 L624.6,329.6 L624.7,328.6 L624.9,327.7 L625.0,326.8 L625.1,325.9 L625.3,325.1 L625.4,324.2 L625.5,323.3 L625.7,322.4 L625.8,321.6 L625.9,320.6 L626.1,319.7 L626.2,318.9 L626.3,317.9 L626.5,317.1 L626.6,316.2 L626.7,315.3 L626.8,314.4 L627.0,313.6 L627.1,312.6 L627.2,311.7 L627.3,310.9 L627.5,310.0 L627.6,309.0 L627.7,308.1 L627.8,307.2 L628.0,306.4 L628.1,305.5 L628.2,304.6 L628.3,303.7 L628.4,302.8 L628.6,301.9 L628.7,301.0 L628.8,300.1 L628.9,299.3 L629.0,298.4 L629.2,297.5 L629.3,296.6 L629.4,295.7 L629.5,294.8 L629.6,293.9 L629.8,293.0 L629.9,292.1 L630.0,291.2 L630.1,290.3 L630.2,289.4 L630.3,288.6 L630.5,287.7 L630.6,286.8 L630.7,285.9 L630.8,285.0 L630.9,284.1 L631.1,283.2 L631.2,282.3 L631.3,281.4 L631.4,280.5 L631.5,279.6 L631.7,278.8 L631.8,277.9 L631.9,277.0 L632.0,276.1 L632.2,275.1 L632.3,274.2 L632.4,273.3 L632.5,272.5 L632.6,271.6 L632.8,270.8 L632.9,269.8 L633.0,268.9 L633.1,268.1 L633.3,267.1 L633.4,266.3 L633.5,265.3 L633.7,264.5 L633.8,263.5 L633.9,262.7 L634.1,261.8 L634.2,260.9 L634.3,260.0 L634.5,259.1 L634.6,258.2 L634.7,257.3 L634.9,256.5 L635.0,255.5 L635.2,254.6 L635.3,253.8 L635.4,252.9 L635.6,252.1 L635.7,251.1 L635.9,250.3 L636.0,249.3 L636.2,248.4 L636.3,247.6 L636.5,246.7 L636.7,245.9 L636.8,244.9 L637.0,244.1 L637.2,243.1 L637.3,242.3 L637.5,241.4 L637.7,240.5 L637.9,239.7 L638.1,238.8 L638.3,237.9 L638.5,237.0 L638.7,236.1 L638.9,235.2 L639.1,234.4 L639.3,233.5 L639.6,232.6 L639.8,231.8 L640.1,231.0 L640.4,230.1 L640.7,229.2 L641.0,228.4 L641.3,227.6 L641.7,226.8 L642.1,225.9 L642.5,225.2 L643.1,224.5 L643.8,223.9 L644.6,223.6 L645.5,223.8 L646.2,224.4 L646.8,225.0 L647.3,225.8 L647.8,226.6 L648.2,227.4 L648.6,228.2 L648.9,229.0 L649.3,229.8 L649.6,230.7 L649.9,231.6 L650.2,232.4 L650.5,233.2 L650.7,234.1 L651.0,235.0 L651.3,235.9 L651.5,236.7 L651.8,237.6 L652.0,238.4 L652.3,239.3 L652.5,240.1 L652.7,241.0 L652.9,241.9 L653.2,242.7 L653.4,243.6 L653.6,244.5 L653.8,245.4 L654.0,246.3 L654.2,247.1 L654.5,248.0 L654.7,248.9 L654.9,249.7 L655.1,250.7 L655.3,251.6 L655.5,252.4 L655.7,253.3 L655.9,254.2 L656.1,255.1 L656.3,255.9 L656.5,256.8 L656.7,257.7 L656.9,258.6 L657.0,259.4 L657.2,260.3 L657.4,261.2 L657.6,262.1 L657.8,263.0 L658.0,263.8 L658.2,264.7 L658.4,265.6 L658.6,266.5 L658.8,267.3 L659.0,268.3 L659.1,269.1 L659.3,270.0 L659.5,270.9 L659.7,271.7 L659.9,272.6 L660.1,273.5 L660.3,274.4 L660.5,275.2 L660.7,276.2 L660.8,277.0 L661.0,277.9 L661.2,278.8 L661.4,279.7 L661.6,280.6 L661.8,281.4 L662.0,282.3 L662.2,283.1 L662.4,284.1 L662.6,285.0 L662.8,285.9 L663.0,286.7 L663.2,287.6 L663.4,288.5 L663.6,289.3 L663.8,290.2 L664.0,291.1 L664.2,292.0 L664.4,292.9 L664.6,293.7 L664.8,294.6 L665.0,295.5 L665.2,296.3 L665.4,297.2 L665.6,298.1 L665.8,299.0 L666.0,299.9 L666.2,300.8 L666.4,301.6 L666.6,302.5 L666.9,303.4 L667.1,304.2 L667.3,305.1 L667.5,305.9 L667.7,306.8 L668.0,307.7 L668.2,308.6 L668.4,309.4 L668.6,310.3 L668.9,311.2 L669.1,312.1 L669.3,312.9 L669.6,313.8 L669.8,314.7 L670.0,315.5 L670.3,316.4 L670.5,317.3 L670.8,318.1 L671.0,319.0 L671.3,319.8 L671.5,320.7 L671.8,321.6 L672.1,322.4 L672.3,323.3 L672.6,324.2 L672.9,325.0 L673.1,325.9 L673.4,326.8 L673.7,327.6 L674.0,328.4 L674.3,329.3 L674.6,330.1 L674.9,331.0 L675.2,331.8 L675.5,332.7 L675.8,333.5 L676.1,334.4 L676.4,335.2 L676.7,336.1 L677.1,336.9 L677.4,337.7 L677.7,338.6 L678.1,339.4 L678.4,340.2 L678.8,341.0 L679.2,341.9 L679.5,342.7 L679.9,343.5 L680.3,344.3 L680.7,345.1 L681.1,345.9 L681.5,346.7 L681.9,347.5 L682.4,348.3 L682.8,349.1 L683.2,349.9 L683.7,350.6 L684.2,351.4 L684.7,352.2 L685.1,352.9 L685.7,353.7 L686.2,354.4 L686.7,355.1 L687.2,355.9 L687.8,356.6 L688.4,357.3 L688.9,357.9 L689.5,358.6 L690.1,359.3 L690.8,359.9 L691.4,360.6 L692.1,361.2 L692.7,361.8 L693.4,362.4 L694.1,362.9 L694.8,363.5 L695.6,364.0 L696.3,364.5 L697.1,365.0 L697.9,365.4 L698.6,365.9 L699.4,366.3 L700.2,366.7 L701.1,367.1 L701.9,367.4 L702.7,367.7 L703.6,368.1 L704.4,368.4 L705.3,368.6 L706.1,368.9 L707.0,369.1 L707.9,369.4 L708.8,369.6 L709.6,369.8 L710.5,369.9 L711.4,370.1 L712.3,370.2 L713.2,370.4 L714.1,370.5 L715.0,370.6 L715.9,370.7 L716.7,370.8 L717.6,370.9 L718.5,371.0 L719.4,371.1 L720.3,371.1 L721.2,371.2 L722.1,371.3 L723.0,371.3 L723.9,371.4 L724.8,371.4 L725.7,371.5 L726.6,371.5 L727.5,371.5 L728.4,371.5 L729.3,371.6 L730.2,371.6 L731.1,371.6 L732.0,371.6 L732.9,371.7 L733.8,371.7 L734.7,371.7 L735.6,371.7 L736.5,371.7 L737.4,371.7 L738.3,371.7 L739.2,371.7 L740.1,371.7 L741.0,371.8 L741.9,371.8 L742.8,371.8 L743.7,371.8 L744.6,371.8 L745.5,371.8 L746.4,371.8 L747.3,371.8 L748.2,371.8 L749.1,371.8 L750.0,371.8 L750.9,371.8 L751.8,371.8 L752.7,371.8 L753.6,371.8 L754.5,371.8 L755.4,371.8 L756.3,371.8 L757.2,371.8 L758.1,371.8 L759.0,371.8 L759.9,371.8 L760.8,371.8 L761.7,371.8 L762.6,371.8 L763.5,371.8 L764.4,371.8 L765.3,371.8 L766.2,371.8 L767.1,371.8 L768.0,371.8 L768.9,371.8 L769.8,371.8 L770.7,371.8 L771.6,371.8 L772.5,371.8 L773.4,371.8 L774.3,371.8 L775.2,371.8 L776.1,371.8 L777.0,371.8 L777.9,371.8 L778.8,371.8 L779.7,371.8 L780.6,371.8 L781.5,371.8 L782.4,371.8 L783.3,371.8 L784.2,371.8 L785.1,371.8 L786.0,371.8 L786.9,371.8 L787.8,371.8 L788.7,371.8 L789.6,371.8 L790.5,371.8 L791.4,371.8 L792.3,371.8 L793.2,371.8 L794.1,371.8 L795.0,371.8 L795.9,371.8 L796.8,371.8 L797.7,371.8 L798.6,371.8 L799.5,371.8 L800.4,371.8 L801.3,371.8 L802.2,371.8 L803.1,371.8 L804.0,371.8 L804.9,371.8 L805.8,371.8 L806.7,371.8 L807.6,371.8 L808.5,371.8 L809.4,371.8 L810.3,371.8 L811.2,371.8 L812.1,371.8 L813.0,371.8 L813.9,371.8 L814.8,371.8 L815.7,371.8 L816.6,371.8 L817.5,371.8 L818.4,371.8 L819.3,371.8 L820.2,371.8 L820.4,371.8" stroke="#4d72b4"/>
<path d="M579.3,371.8 L580.2,371.8 L581.1,371.8 L582.0,371.8 L582.9,371.8 L583.8,371.8 L584.7,371.8 L585.6,371.8 L586.5,371.8 L587.4,371.8 L588.3,371.8 L589.2,371.8 L590.1,371.8 L591.0,371.8 L591.9,371.8 L592.8,371.8 L593.7,371.8 L594.6,371.8 L595.5,371.8 L596.4,371.8 L597.3,371.8 L598.2,371.8 L599.1,371.8 L600.0,371.8 L600.9,371.8 L601.8,371.8 L602.7,371.8 L603.6,371.8 L604.5,371.8 L605.4,371.8 L606.3,371.8 L607.2,371.7 L608.1,371.7 L609.0,371.7 L609.9,371.6 L610.8,371.5 L611.7,371.4 L612.6,371.3 L613.5,371.1 L614.3,370.9 L615.2,370.6 L616.0,370.2 L616.8,369.8 L617.6,369.3 L618.3,368.8 L619.0,368.2 L619.6,367.6 L620.2,366.9 L620.8,366.2 L621.3,365.5 L621.8,364.7 L622.3,364.0 L622.7,363.2 L623.2,362.4 L623.6,361.6 L624.0,360.8 L624.3,360.0 L624.7,359.1 L625.0,358.3 L625.4,357.5 L625.7,356.6 L626.0,355.8 L626.3,354.9 L626.6,354.1 L626.9,353.2 L627.2,352.3 L627.4,351.5 L627.7,350.6 L628.0,349.8 L628.2,348.9 L628.5,348.0 L628.7,347.2 L629.0,346.3 L629.2,345.5 L629.4,344.6 L629.7,343.7 L629.9,342.9 L630.1,341.9 L630.3,341.1 L630.5,340.3 L630.8,339.4 L631.0,338.4 L631.2,337.6 L631.4,336.8 L631.6,335.8 L631.8,334.9 L632.0,334.1 L632.2,333.2 L632.4,332.3 L632.6,331.4 L632.8,330.6 L633.0,329.7 L633.2,328.9 L633.4,327.9 L633.5,327.1 L633.7,326.2 L633.9,325.3 L634.1,324.4 L634.3,323.5 L634.5,322.6 L634.7,321.8 L634.8,320.9 L635.0,320.1 L635.2,319.1 L635.4,318.2 L635.6,317.3 L635.8,316.5 L635.9,315.6 L636.1,314.7 L636.3,313.8 L636.5,312.9 L636.7,312.0 L636.8,311.2 L637.0,310.3 L637.2,309.4 L637.4,308.5 L637.6,307.6 L637.7,306.7 L637.9,305.9 L638.1,305.0 L638.3,304.1 L638.5,303.2 L638.6,302.3 L638.8,301.5 L639.0,300.6 L639.2,299.7 L639.4,298.9 L639.6,297.9 L639.7,297.1 L639.9,296.2 L640.1,295.3 L640.3,294.4 L640.5,293.5 L640.7,292.7 L640.9,291.8 L641.1,291.0 L641.3,290.1 L641.5,289.2 L641.7,288.3 L641.9,287.4 L642.1,286.5 L642.3,285.7 L642.5,284.8 L642.7,283.9 L642.9,283.0 L643.1,282.2 L643.3,281.3 L643.5,280.4 L643.8,279.6 L644.0,278.7 L644.2,277.8 L644.5,276.9 L644.7,276.1 L644.9,275.2 L645.2,274.3 L645.4,273.5 L645.7,272.6 L646.0,271.7 L646.2,270.9 L646.5,270.0 L646.8,269.2 L647.1,268.3 L647.4,267.5 L647.7,266.7 L648.0,265.8 L648.4,265.0 L648.7,264.1 L649.1,263.4 L649.5,262.6 L649.9,261.7 L650.4,261.0 L650.9,260.2 L651.4,259.5 L652.0,258.8 L652.7,258.2 L653.4,257.7 L654.3,257.4 L655.2,257.4 L656.0,257.5 L656.8,257.9 L657.6,258.4 L658.3,259.0 L658.9,259.7 L659.5,260.4 L660.0,261.1 L660.5,261.8 L661.0,262.6 L661.5,263.4 L661.9,264.2 L662.3,265.0 L662.7,265.7 L663.2,266.6 L663.6,267.4 L663.9,268.2 L664.3,269.0 L664.7,269.8 L665.1,270.6 L665.4,271.4 L665.8,272.3 L666.1,273.1 L666.5,273.9 L666.8,274.8 L667.2,275.6 L667.5,276.4 L667.8,277.3 L668.2,278.1 L668.5,278.9 L668.8,279.8 L669.1,280.6 L669.5,281.5 L669.8,282.3 L670.1,283.1 L670.4,284.0 L670.7,284.8 L671.1,285.7 L671.4,286.5 L671.7,287.4 L672.0,288.2 L672.3,289.1 L672.6,289.9 L672.9,290.7 L673.3,291.6 L673.6,292.4 L673.9,293.3 L674.2,294.1 L674.5,295.0 L674.8,295.8 L675.1,296.6 L675.5,297.5 L675.8,298.3 L676.1,299.2 L676.4,300.0 L676.7,300.9 L677.1,301.7 L677.4,302.5 L677.7,303.4 L678.0,304.2 L678.4,305.1 L678.7,305.9 L679.0,306.7 L679.3,307.5 L679.7,308.4 L680.0,309.2 L680.4,310.1 L680.7,310.9 L681.0,311.7 L681.4,312.6 L681.7,313.4 L682.1,314.2 L682.4,315.0 L682.8,315.9 L683.1,316.7 L683.5,317.5 L683.9,318.3 L684.2,319.2 L684.6,320.0 L685.0,320.8 L685.3,321.6 L685.7,322.4 L686.1,323.2 L686.5,324.1 L686.9,324.9 L687.3,325.7 L687.7,326.5 L688.1,327.3 L688.5,328.1 L688.9,328.9 L689.3,329.7 L689.7,330.5 L690.2,331.3 L690.6,332.1 L691.0,332.9 L691.5,333.6 L691.9,334.4 L692.4,335.2 L692.8,336.0 L693.3,336.8 L693.8,337.5 L694.2,338.3 L694.7,339.0 L695.2,339.8 L695.7,340.6 L696.2,341.3 L696.7,342.0 L697.2,342.8 L697.8,343.5 L698.3,344.2 L698.9,344.9 L699.4,345.6 L700.0,346.4 L700.5,347.0 L701.1,347.7 L701.7,348.4 L702.3,349.1 L702.9,349.8 L703.5,350.4 L704.1,351.1 L704.7,351.7 L705.4,352.4 L706.0,353.0 L706.7,353.6 L707.4,354.2 L708.0,354.8 L708.7,355.4 L709.4,356.0 L710.1,356.5 L710.8,357.1 L711.6,357.6 L712.3,358.1 L713.0,358.6 L713.8,359.1 L714.5,359.6 L715.3,360.1 L716.1,360.6 L716.9,361.0 L717.6,361.4 L718.4,361.9 L719.2,362.3 L720.0,362.6 L720.9,363.0 L721.7,363.4 L722.5,363.8 L723.3,364.1 L724.2,364.4 L725.0,364.8 L725.9,365.1 L726.7,365.4 L727.6,365.6 L728.4,365.9 L729.3,366.2 L730.1,366.4 L731.0,366.7 L731.9,366.9 L732.8,367.1 L733.6,367.3 L734.5,367.5 L735.4,367.7 L736.3,367.9 L737.1,368.1 L738.0,368.3 L738.9,368.4 L739.8,368.6 L740.7,368.7 L741.6,368.9 L742.5,369.0 L743.4,369.1 L744.3,369.3 L745.1,369.4 L746.0,369.5 L746.9,369.6 L747.8,369.7 L748.7,369.8 L749.6,369.9 L750.5,370.0 L751.4,370.1 L752.3,370.2 L753.2,370.2 L754.1,370.3 L755.0,370.4 L755.9,370.5 L756.8,370.5 L757.7,370.6 L758.6,370.6 L759.5,370.7 L760.4,370.7 L761.3,370.8 L762.2,370.8 L763.1,370.9 L764.0,370.9 L764.9,371.0 L765.8,371.0 L766.7,371.0 L767.6,371.1 L768.5,371.1 L769.4,371.2 L770.3,371.2 L771.2,371.2 L772.1,371.2 L773.0,371.3 L773.9,371.3 L774.8,371.3 L775.7,371.3 L776.6,371.4 L777.5,371.4 L778.4,371.4 L779.3,371.4 L780.2,371.4 L781.1,371.5 L782.0,371.5 L782.9,371.5 L783.8,371.5 L784.7,371.5 L785.6,371.5 L786.5,371.5 L787.4,371.6 L788.3,371.6 L789.2,371.6 L790.1,371.6 L791.0,371.6 L791.9,371.6 L792.8,371.6 L793.7,371.6 L794.6,371.6 L795.5,371.6 L796.4,371.7 L797.3,371.7 L798.2,371.7 L799.1,371.7 L800.0,371.7 L800.9,371.7 L801.8,371.7 L802.7,371.7 L803.6,371.7 L804.5,371.7 L805.4,371.7 L806.3,371.7 L807.2,371.7 L808.1,371.7 L809.0,371.7 L809.9,371.7 L810.8,371.7 L811.7,371.7 L812.6,371.7 L813.5,371.7 L814.4,371.7 L815.3,371.7 L816.2,371.7 L817.1,371.8 L818.0,371.8 L818.9,371.8 L819.8,371.8 L820.4,371.8" stroke="#311f4c"/>
</g>
<g font-size="7.7" fill="#1e1a1b">
<text transform="matrix(1.13 0 0 1 604.50 382.60)" text-anchor="middle">0</text>
<text transform="matrix(1.13 0 0 1 651.20 382.60)" text-anchor="middle">1</text>
<text transform="matrix(1.13 0 0 1 697.90 382.60)" text-anchor="middle">2</text>
<text transform="matrix(1.13 0 0 1 744.60 382.60)" text-anchor="middle">3</text>
<text transform="matrix(1.13 0 0 1 791.30 382.60)" text-anchor="middle">4</text>
<text transform="matrix(1.13 0 0 1 575.50 374.80)" text-anchor="end">0</text>
<text transform="matrix(1.13 0 0 1 575.50 349.88)" text-anchor="end">0.2</text>
<text transform="matrix(1.13 0 0 1 575.50 324.96)" text-anchor="end">0.4</text>
<text transform="matrix(1.13 0 0 1 575.50 300.04)" text-anchor="end">0.6</text>
<text transform="matrix(1.13 0 0 1 575.50 275.12)" text-anchor="end">0.8</text>
<text transform="matrix(1.13 0 0 1 575.50 250.20)" text-anchor="end">1</text>
<text transform="matrix(1.13 0 0 1 575.50 225.28)" text-anchor="end">1.2</text>
</g>
<text transform="matrix(1.13 0 0 1 581.20 212.20)" font-size="8.0" fill="#1e1a1b">(f) Rx5day</text>
<text x="699.85" y="391.90" font-size="8.6" fill="#1e1a1b" text-anchor="middle" textLength="43.3" lengthAdjust="spacingAndGlyphs">Change (<tspan font-style="italic">σ</tspan>)</text>
<text transform="translate(561.30,288.50) rotate(-90) scale(1,1.13)" font-size="8.7" fill="#1e1a1b" text-anchor="middle" textLength="25.6" lengthAdjust="spacingAndGlyphs">Density</text>
<rect x="774.30" y="211.70" width="39.0" height="29.1" fill="#fff" stroke="#b9b5b3" stroke-width="1"/>
<path d="M776.60,215.70H793.20" stroke="#0e0c0d" stroke-width="1.9"/>
<text class="lg" x="795.30" y="218.53" font-size="6.3" fill="#2a2627" textLength="14.9" lengthAdjust="spacingAndGlyphs">1.5°C</text>
<path d="M776.60,222.55H793.20" stroke="#47aeaa" stroke-width="1.9"/>
<text class="lg" x="795.30" y="225.38" font-size="6.3" fill="#2a2627" textLength="14.9" lengthAdjust="spacingAndGlyphs">2.0°C</text>
<path d="M776.60,229.40H793.20" stroke="#4d72b4" stroke-width="1.9"/>
<text class="lg" x="795.30" y="232.23" font-size="6.3" fill="#2a2627" textLength="14.9" lengthAdjust="spacingAndGlyphs">3.0°C</text>
<path d="M776.60,236.25H793.20" stroke="#311f4c" stroke-width="1.9"/>
<text class="lg" x="795.30" y="239.09" font-size="6.3" fill="#2a2627" textLength="14.9" lengthAdjust="spacingAndGlyphs">4.0°C</text>
<rect x="29.4" y="398.9" width="241.60" height="165.80" fill="#fff"/>
<clipPath id="clipg"><rect x="29.4" y="397.9" width="241.60" height="168.40"/></clipPath>
<path d="M45.20,564.70v-2.4M45.20,398.90v2.4M72.10,564.70v-2.4M72.10,398.90v2.4M99.00,564.70v-2.4M99.00,398.90v2.4M125.90,564.70v-2.4M125.90,398.90v2.4M152.80,564.70v-2.4M152.80,398.90v2.4M179.70,564.70v-2.4M179.70,398.90v2.4M206.60,564.70v-2.4M206.60,398.90v2.4M233.50,564.70v-2.4M233.50,398.90v2.4M260.40,564.70v-2.4M260.40,398.90v2.4M29.40,564.70h2.4M271.00,564.70h-2.4M29.40,530.10h2.4M271.00,530.10h-2.4M29.40,495.50h2.4M271.00,495.50h-2.4M29.40,460.90h2.4M271.00,460.90h-2.4M29.40,426.30h2.4M271.00,426.30h-2.4" stroke="#8a8684" stroke-width="0.8" fill="none"/>
<rect x="29.4" y="398.9" width="241.60" height="165.80" fill="none" stroke="#b9b5b3" stroke-width="1.4"/>
<g clip-path="url(#clipg)" fill="none" stroke-width="2.1" stroke-linejoin="round">
<path d="M29.4,564.0 L30.3,563.8 L31.1,563.4 L31.9,562.9 L32.6,562.4 L33.2,561.8 L33.9,561.1 L34.4,560.4 L34.9,559.7 L35.4,558.9 L35.8,558.1 L36.2,557.3 L36.6,556.5 L36.9,555.7 L37.3,554.8 L37.6,553.9 L37.9,553.1 L38.2,552.2 L38.4,551.4 L38.7,550.6 L39.0,549.7 L39.2,548.8 L39.4,547.9 L39.7,547.1 L39.9,546.2 L40.1,545.3 L40.3,544.4 L40.5,543.6 L40.7,542.7 L40.9,541.8 L41.1,540.9 L41.3,540.1 L41.4,539.2 L41.6,538.3 L41.8,537.4 L42.0,536.5 L42.1,535.6 L42.3,534.7 L42.5,533.9 L42.6,533.0 L42.8,532.1 L42.9,531.2 L43.1,530.2 L43.2,529.4 L43.4,528.5 L43.5,527.6 L43.7,526.8 L43.8,525.8 L44.0,524.9 L44.1,524.0 L44.3,523.2 L44.4,522.3 L44.5,521.4 L44.7,520.5 L44.8,519.7 L44.9,518.8 L45.1,517.8 L45.2,516.9 L45.3,516.1 L45.5,515.1 L45.6,514.3 L45.7,513.4 L45.9,512.5 L46.0,511.6 L46.1,510.7 L46.3,509.8 L46.4,508.9 L46.5,508.1 L46.6,507.1 L46.8,506.3 L46.9,505.4 L47.0,504.4 L47.1,503.6 L47.3,502.7 L47.4,501.9 L47.5,500.9 L47.6,500.0 L47.8,499.1 L47.9,498.3 L48.0,497.3 L48.1,496.4 L48.3,495.6 L48.4,494.7 L48.5,493.7 L48.6,492.9 L48.8,492.0 L48.9,491.1 L49.0,490.2 L49.1,489.3 L49.3,488.5 L49.4,487.5 L49.5,486.6 L49.6,485.8 L49.8,484.8 L49.9,484.0 L50.0,483.0 L50.2,482.2 L50.3,481.3 L50.4,480.4 L50.6,479.5 L50.7,478.6 L50.8,477.8 L51.0,476.9 L51.1,475.9 L51.2,475.0 L51.4,474.1 L51.5,473.2 L51.7,472.4 L51.8,471.5 L51.9,470.6 L52.1,469.8 L52.2,468.8 L52.4,468.0 L52.5,467.0 L52.7,466.2 L52.8,465.3 L53.0,464.4 L53.2,463.6 L53.3,462.7 L53.5,461.7 L53.7,460.9 L53.8,460.0 L54.0,459.1 L54.2,458.2 L54.4,457.4 L54.6,456.5 L54.8,455.6 L55.0,454.8 L55.2,453.9 L55.4,453.0 L55.6,452.2 L55.9,451.3 L56.1,450.4 L56.4,449.5 L56.7,448.7 L57.0,447.9 L57.4,447.0 L57.7,446.2 L58.2,445.4 L58.7,444.7 L59.4,444.1 L60.2,443.9 L61.0,444.2 L61.6,444.9 L62.1,445.7 L62.5,446.5 L62.9,447.3 L63.2,448.1 L63.6,449.0 L63.8,449.8 L64.1,450.7 L64.4,451.5 L64.6,452.4 L64.9,453.2 L65.1,454.1 L65.4,455.0 L65.6,455.9 L65.8,456.8 L66.0,457.6 L66.2,458.5 L66.4,459.4 L66.6,460.2 L66.8,461.1 L67.0,462.0 L67.2,462.9 L67.4,463.8 L67.6,464.7 L67.8,465.5 L68.0,466.4 L68.1,467.3 L68.3,468.2 L68.5,469.1 L68.7,470.0 L68.9,470.9 L69.0,471.7 L69.2,472.6 L69.4,473.5 L69.6,474.4 L69.8,475.3 L69.9,476.1 L70.1,477.0 L70.3,477.9 L70.4,478.7 L70.6,479.7 L70.8,480.6 L71.0,481.4 L71.1,482.3 L71.3,483.1 L71.5,484.1 L71.7,485.0 L71.8,485.8 L72.0,486.7 L72.2,487.6 L72.3,488.5 L72.5,489.4 L72.7,490.3 L72.9,491.2 L73.0,492.0 L73.2,492.9 L73.4,493.8 L73.6,494.7 L73.8,495.6 L73.9,496.5 L74.1,497.4 L74.3,498.2 L74.5,499.1 L74.7,500.0 L74.8,500.8 L75.0,501.7 L75.2,502.6 L75.4,503.5 L75.6,504.3 L75.8,505.3 L76.0,506.1 L76.2,507.0 L76.4,507.9 L76.5,508.7 L76.7,509.6 L76.9,510.5 L77.1,511.4 L77.3,512.2 L77.5,513.1 L77.8,514.0 L78.0,514.9 L78.2,515.8 L78.4,516.6 L78.6,517.5 L78.8,518.4 L79.0,519.3 L79.3,520.1 L79.5,521.0 L79.7,521.9 L79.9,522.7 L80.2,523.6 L80.4,524.5 L80.7,525.3 L80.9,526.2 L81.2,527.1 L81.4,527.9 L81.7,528.8 L81.9,529.7 L82.2,530.5 L82.5,531.4 L82.7,532.3 L83.0,533.1 L83.3,534.0 L83.6,534.8 L83.9,535.6 L84.2,536.5 L84.5,537.4 L84.8,538.2 L85.1,539.0 L85.5,539.9 L85.8,540.7 L86.1,541.5 L86.5,542.3 L86.9,543.2 L87.2,544.0 L87.6,544.8 L88.0,545.6 L88.4,546.4 L88.8,547.2 L89.3,548.0 L89.7,548.8 L90.2,549.5 L90.6,550.3 L91.1,551.1 L91.6,551.8 L92.1,552.5 L92.7,553.3 L93.2,554.0 L93.8,554.7 L94.4,555.3 L95.0,556.0 L95.7,556.6 L96.3,557.2 L97.0,557.8 L97.7,558.4 L98.4,558.9 L99.2,559.4 L99.9,559.9 L100.7,560.4 L101.5,560.8 L102.3,561.2 L103.1,561.5 L104.0,561.9 L104.8,562.2 L105.7,562.5 L106.5,562.7 L107.4,562.9 L108.3,563.1 L109.2,563.3 L110.1,563.5 L110.9,563.6 L111.8,563.8 L112.7,563.9 L113.6,564.0 L114.5,564.1 L115.4,564.2 L116.3,564.2 L117.2,564.3 L118.1,564.4 L119.0,564.4 L119.9,564.4 L120.8,564.5 L121.7,564.5 L122.6,564.5 L123.5,564.6 L124.4,564.6 L125.3,564.6 L126.2,564.6 L127.1,564.6 L128.0,564.6 L128.9,564.7 L129.8,564.7 L130.7,564.7 L131.6,564.7 L132.5,564.7 L133.4,564.7 L134.3,564.7 L135.2,564.7 L136.1,564.7 L137.0,564.7 L137.9,564.7 L138.8,564.7 L139.7,564.7 L140.6,564.7 L141.5,564.7 L142.4,564.7 L143.3,564.7 L144.2,564.7 L145.1,564.7 L146.0,564.7 L146.9,564.7 L147.8,564.7 L148.7,564.7 L149.6,564.7 L150.5,564.7 L151.4,564.7 L152.3,564.7 L153.2,564.7 L154.1,564.7 L155.0,564.7 L155.9,564.7 L156.8,564.7 L157.7,564.7 L158.6,564.7 L159.5,564.7 L160.4,564.7 L161.3,564.7 L162.2,564.7 L163.1,564.7 L164.0,564.7 L164.9,564.7 L165.8,564.7 L166.7,564.7 L167.6,564.7 L168.5,564.7 L169.4,564.7 L170.3,564.7 L171.2,564.7 L172.1,564.7 L173.0,564.7 L173.9,564.7 L174.8,564.7 L175.7,564.7 L176.6,564.7 L177.5,564.7 L178.4,564.7 L179.3,564.7 L180.2,564.7 L181.1,564.7 L182.0,564.7 L182.9,564.7 L183.8,564.7 L184.7,564.7 L185.6,564.7 L186.5,564.7 L187.4,564.7 L188.3,564.7 L189.2,564.7 L190.1,564.7 L191.0,564.7 L191.9,564.7 L192.8,564.7 L193.7,564.7 L194.6,564.7 L195.5,564.7 L196.4,564.7 L197.3,564.7 L198.2,564.7 L199.1,564.7 L200.0,564.7 L200.9,564.7 L201.8,564.7 L202.7,564.7 L203.6,564.7 L204.5,564.7 L205.4,564.7 L206.3,564.7 L207.2,564.7 L208.1,564.7 L209.0,564.7 L209.9,564.7 L210.8,564.7 L211.7,564.7 L212.6,564.7 L213.5,564.7 L214.4,564.7 L215.3,564.7 L216.2,564.7 L217.1,564.7 L218.0,564.7 L218.9,564.7 L219.8,564.7 L220.7,564.7 L221.6,564.7 L222.5,564.7 L223.4,564.7 L224.3,564.7 L225.2,564.7 L226.1,564.7 L227.0,564.7 L227.9,564.7 L228.8,564.7 L229.7,564.7 L230.6,564.7 L231.5,564.7 L232.4,564.7 L233.3,564.7 L234.2,564.7 L235.1,564.7 L236.0,564.7 L236.9,564.7 L237.8,564.7 L238.7,564.7 L239.6,564.7 L240.5,564.7 L241.4,564.7 L242.3,564.7 L243.2,564.7 L244.1,564.7 L245.0,564.7 L245.9,564.7 L246.8,564.7 L247.7,564.7 L248.6,564.7 L249.5,564.7 L250.4,564.7 L251.3,564.7 L252.2,564.7 L253.1,564.7 L254.0,564.7 L254.9,564.7 L255.8,564.7 L256.7,564.7 L257.6,564.7 L258.5,564.7 L259.4,564.7 L260.3,564.7 L261.2,564.7 L262.1,564.7 L263.0,564.7 L263.9,564.7 L264.8,564.7 L265.7,564.7 L266.6,564.7 L267.5,564.7 L268.4,564.7 L269.3,564.7 L270.2,564.7 L271.0,564.7" stroke="#0e0c0d"/>
<path d="M29.4,564.7 L30.3,564.7 L31.2,564.7 L32.1,564.7 L33.0,564.7 L33.9,564.7 L34.8,564.7 L35.7,564.7 L36.6,564.7 L37.5,564.7 L38.4,564.7 L39.3,564.7 L40.2,564.7 L41.1,564.7 L42.0,564.7 L42.9,564.7 L43.8,564.7 L44.7,564.7 L45.6,564.7 L46.5,564.7 L47.4,564.7 L48.3,564.7 L49.2,564.7 L50.1,564.7 L51.0,564.6 L51.9,564.5 L52.8,564.4 L53.7,564.2 L54.5,563.8 L55.3,563.4 L56.0,562.8 L56.6,562.1 L57.1,561.4 L57.6,560.6 L58.0,559.8 L58.4,559.0 L58.7,558.2 L59.0,557.3 L59.3,556.5 L59.6,555.6 L59.8,554.7 L60.0,553.9 L60.2,553.0 L60.5,552.1 L60.6,551.3 L60.8,550.3 L61.0,549.5 L61.2,548.5 L61.4,547.7 L61.5,546.8 L61.7,545.9 L61.8,545.1 L62.0,544.1 L62.1,543.2 L62.3,542.3 L62.4,541.5 L62.5,540.6 L62.6,539.7 L62.8,538.7 L62.9,537.9 L63.0,537.0 L63.1,536.0 L63.2,535.3 L63.4,534.3 L63.5,533.4 L63.6,532.5 L63.7,531.7 L63.8,530.7 L63.9,529.8 L64.0,529.0 L64.1,528.1 L64.2,527.2 L64.3,526.3 L64.4,525.4 L64.5,524.4 L64.6,523.5 L64.7,522.7 L64.8,521.8 L64.9,521.0 L65.0,520.0 L65.1,519.0 L65.1,518.2 L65.2,517.4 L65.3,516.4 L65.4,515.5 L65.5,514.7 L65.6,513.7 L65.7,512.8 L65.7,512.0 L65.8,511.1 L65.9,510.0 L66.0,509.1 L66.1,508.3 L66.2,507.4 L66.2,506.5 L66.3,505.6 L66.4,504.7 L66.5,503.8 L66.6,502.9 L66.6,502.0 L66.7,501.1 L66.8,500.4 L66.9,499.4 L66.9,498.5 L67.0,497.6 L67.1,496.6 L67.2,495.7 L67.2,495.0 L67.3,494.0 L67.4,493.1 L67.5,492.1 L67.6,491.2 L67.6,490.5 L67.7,489.5 L67.8,488.5 L67.8,487.8 L67.9,486.9 L68.0,485.9 L68.1,484.9 L68.1,484.2 L68.2,483.2 L68.3,482.2 L68.4,481.5 L68.4,480.5 L68.5,479.6 L68.6,478.8 L68.7,477.8 L68.7,476.9 L68.8,476.1 L68.9,475.2 L69.0,474.2 L69.0,473.4 L69.1,472.5 L69.2,471.5 L69.2,470.8 L69.3,469.8 L69.4,468.8 L69.5,467.9 L69.5,467.1 L69.6,466.2 L69.7,465.2 L69.8,464.5 L69.8,463.5 L69.9,462.6 L70.0,461.6 L70.1,460.9 L70.1,459.9 L70.2,459.0 L70.3,458.1 L70.4,457.1 L70.4,456.4 L70.5,455.5 L70.6,454.6 L70.7,453.6 L70.8,452.7 L70.8,451.8 L70.9,450.9 L71.0,450.0 L71.1,449.1 L71.2,448.2 L71.2,447.3 L71.3,446.4 L71.4,445.6 L71.5,444.7 L71.6,443.8 L71.7,442.8 L71.7,441.9 L71.8,441.1 L71.9,440.3 L72.0,439.2 L72.1,438.4 L72.2,437.4 L72.3,436.6 L72.4,435.6 L72.4,434.8 L72.5,433.9 L72.6,433.1 L72.7,432.2 L72.8,431.3 L72.9,430.4 L73.0,429.5 L73.1,428.6 L73.2,427.7 L73.3,426.9 L73.4,425.9 L73.5,425.0 L73.7,424.1 L73.8,423.3 L73.9,422.4 L74.0,421.5 L74.1,420.6 L74.3,419.6 L74.4,418.8 L74.5,417.9 L74.7,417.0 L74.8,416.1 L75.0,415.2 L75.1,414.4 L75.3,413.4 L75.5,412.5 L75.6,411.7 L75.8,410.8 L76.1,410.0 L76.3,409.1 L76.6,408.2 L76.9,407.4 L77.4,406.7 L78.1,406.2 L78.8,406.7 L79.3,407.5 L79.6,408.3 L79.9,409.2 L80.1,410.1 L80.4,411.0 L80.6,411.8 L80.8,412.7 L81.0,413.6 L81.1,414.5 L81.3,415.3 L81.5,416.3 L81.6,417.2 L81.8,418.0 L81.9,419.0 L82.1,419.8 L82.2,420.7 L82.4,421.6 L82.5,422.4 L82.6,423.4 L82.7,424.2 L82.9,425.2 L83.0,426.0 L83.1,426.9 L83.2,427.8 L83.4,428.7 L83.5,429.5 L83.6,430.5 L83.7,431.4 L83.8,432.3 L84.0,433.2 L84.1,434.0 L84.2,435.0 L84.3,435.8 L84.4,436.8 L84.5,437.6 L84.6,438.6 L84.7,439.4 L84.8,440.4 L84.9,441.2 L85.0,442.0 L85.2,443.1 L85.3,443.9 L85.4,444.8 L85.5,445.8 L85.6,446.6 L85.7,447.5 L85.8,448.3 L85.9,449.2 L86.0,450.2 L86.1,451.1 L86.2,452.0 L86.3,452.8 L86.4,453.7 L86.5,454.6 L86.6,455.5 L86.7,456.5 L86.8,457.4 L86.9,458.3 L87.0,459.1 L87.1,460.0 L87.2,460.9 L87.3,461.8 L87.4,462.6 L87.5,463.5 L87.6,464.5 L87.7,465.4 L87.8,466.3 L87.9,467.2 L88.0,468.0 L88.1,468.9 L88.3,469.9 L88.4,470.8 L88.5,471.6 L88.6,472.5 L88.7,473.4 L88.8,474.4 L88.9,475.2 L89.0,476.1 L89.1,476.9 L89.2,477.9 L89.3,478.8 L89.4,479.6 L89.5,480.6 L89.6,481.4 L89.7,482.4 L89.8,483.2 L89.9,484.1 L90.1,485.0 L90.2,485.9 L90.3,486.8 L90.4,487.8 L90.5,488.6 L90.6,489.5 L90.7,490.3 L90.8,491.3 L91.0,492.2 L91.1,493.1 L91.2,493.9 L91.3,494.8 L91.4,495.7 L91.5,496.6 L91.7,497.5 L91.8,498.4 L91.9,499.3 L92.0,500.2 L92.1,501.0 L92.3,501.9 L92.4,502.9 L92.5,503.8 L92.6,504.6 L92.8,505.6 L92.9,506.4 L93.0,507.4 L93.2,508.2 L93.3,509.1 L93.4,510.0 L93.6,510.8 L93.7,511.7 L93.8,512.6 L94.0,513.5 L94.1,514.4 L94.3,515.4 L94.4,516.2 L94.6,517.1 L94.7,518.0 L94.9,518.8 L95.0,519.8 L95.2,520.7 L95.3,521.5 L95.5,522.4 L95.6,523.2 L95.8,524.2 L96.0,525.1 L96.1,525.9 L96.3,526.8 L96.5,527.7 L96.7,528.6 L96.9,529.5 L97.0,530.4 L97.2,531.2 L97.4,532.1 L97.6,532.9 L97.8,533.8 L98.0,534.8 L98.2,535.6 L98.4,536.5 L98.6,537.3 L98.9,538.2 L99.1,539.1 L99.3,539.9 L99.6,540.8 L99.8,541.7 L100.1,542.6 L100.3,543.4 L100.6,544.3 L100.9,545.1 L101.1,546.0 L101.4,546.8 L101.7,547.7 L102.1,548.5 L102.4,549.3 L102.7,550.2 L103.1,551.0 L103.4,551.8 L103.8,552.7 L104.2,553.5 L104.7,554.3 L105.1,555.0 L105.6,555.8 L106.1,556.6 L106.6,557.3 L107.1,558.0 L107.7,558.7 L108.3,559.4 L108.9,560.0 L109.6,560.6 L110.3,561.2 L111.0,561.7 L111.8,562.1 L112.6,562.6 L113.4,562.9 L114.3,563.2 L115.1,563.5 L116.0,563.7 L116.9,563.9 L117.8,564.1 L118.7,564.2 L119.6,564.3 L120.4,564.4 L121.3,564.5 L122.2,564.5 L123.1,564.6 L124.0,564.6 L124.9,564.6 L125.8,564.7 L126.7,564.7 L127.6,564.7 L128.5,564.7 L129.4,564.7 L130.3,564.7 L131.2,564.7 L132.1,564.7 L133.0,564.7 L133.9,564.7 L134.8,564.7 L135.7,564.7 L136.6,564.7 L137.5,564.7 L138.4,564.7 L139.3,564.7 L140.2,564.7 L141.1,564.7 L142.0,564.7 L142.9,564.7 L143.8,564.7 L144.7,564.7 L145.6,564.7 L146.5,564.7 L147.4,564.7 L148.3,564.7 L149.2,564.7 L150.1,564.7 L151.0,564.7 L151.9,564.7 L152.8,564.7 L153.7,564.7 L154.6,564.7 L155.5,564.7 L156.4,564.7 L157.3,564.7 L158.2,564.7 L159.1,564.7 L160.0,564.7 L160.9,564.7 L161.8,564.7 L162.7,564.7 L163.6,564.7 L164.5,564.7 L165.4,564.7 L166.3,564.7 L167.2,564.7 L168.1,564.7 L169.0,564.7 L169.9,564.7 L170.8,564.7 L171.7,564.7 L172.6,564.7 L173.5,564.7 L174.4,564.7 L175.3,564.7 L176.2,564.7 L177.1,564.7 L178.0,564.7 L178.9,564.7 L179.8,564.7 L180.7,564.7 L181.6,564.7 L182.5,564.7 L183.4,564.7 L184.3,564.7 L185.2,564.7 L186.1,564.7 L187.0,564.7 L187.9,564.7 L188.8,564.7 L189.7,564.7 L190.6,564.7 L191.5,564.7 L192.4,564.7 L193.3,564.7 L194.2,564.7 L195.1,564.7 L196.0,564.7 L196.9,564.7 L197.8,564.7 L198.7,564.7 L199.6,564.7 L200.5,564.7 L201.4,564.7 L202.3,564.7 L203.2,564.7 L204.1,564.7 L205.0,564.7 L205.9,564.7 L206.8,564.7 L207.7,564.7 L208.6,564.7 L209.5,564.7 L210.4,564.7 L211.3,564.7 L212.2,564.7 L213.1,564.7 L214.0,564.7 L214.9,564.7 L215.8,564.7 L216.7,564.7 L217.6,564.7 L218.5,564.7 L219.4,564.7 L220.3,564.7 L221.2,564.7 L222.1,564.7 L223.0,564.7 L223.9,564.7 L224.8,564.7 L225.7,564.7 L226.6,564.7 L227.5,564.7 L228.4,564.7 L229.3,564.7 L230.2,564.7 L231.1,564.7 L232.0,564.7 L232.9,564.7 L233.8,564.7 L234.7,564.7 L235.6,564.7 L236.5,564.7 L237.4,564.7 L238.3,564.7 L239.2,564.7 L240.1,564.7 L241.0,564.7 L241.9,564.7 L242.8,564.7 L243.7,564.7 L244.6,564.7 L245.5,564.7 L246.4,564.7 L247.3,564.7 L248.2,564.7 L249.1,564.7 L250.0,564.7 L250.9,564.7 L251.8,564.7 L252.7,564.7 L253.6,564.7 L254.5,564.7 L255.4,564.7 L256.3,564.7 L257.2,564.7 L258.1,564.7 L259.0,564.7 L259.9,564.7 L260.8,564.7 L261.7,564.7 L262.6,564.7 L263.5,564.7 L264.4,564.7 L265.3,564.7 L266.2,564.7 L267.1,564.7 L268.0,564.7 L268.9,564.7 L269.8,564.7 L270.7,564.7 L271.0,564.7" stroke="#47aeaa"/>
<path d="M29.4,564.7 L30.3,564.7 L31.2,564.7 L32.1,564.7 L33.0,564.7 L33.9,564.7 L34.8,564.7 L35.7,564.6 L36.6,564.6 L37.5,564.6 L38.4,564.6 L39.3,564.6 L40.2,564.6 L41.1,564.5 L42.0,564.5 L42.9,564.5 L43.8,564.4 L44.7,564.4 L45.6,564.3 L46.5,564.2 L47.4,564.2 L48.3,564.1 L49.2,564.0 L50.1,563.9 L51.0,563.7 L51.9,563.6 L52.7,563.4 L53.6,563.2 L54.5,563.0 L55.4,562.8 L56.2,562.6 L57.1,562.3 L57.9,562.0 L58.8,561.6 L59.6,561.3 L60.4,560.9 L61.2,560.5 L62.0,560.0 L62.8,559.6 L63.5,559.1 L64.3,558.6 L65.0,558.0 L65.7,557.4 L66.4,556.9 L67.0,556.3 L67.7,555.6 L68.3,555.0 L68.9,554.3 L69.5,553.7 L70.1,553.0 L70.7,552.3 L71.2,551.6 L71.8,550.9 L72.3,550.1 L72.8,549.4 L73.3,548.7 L73.8,547.9 L74.3,547.2 L74.8,546.4 L75.3,545.6 L75.7,544.8 L76.2,544.1 L76.6,543.3 L77.1,542.5 L77.5,541.7 L77.9,540.9 L78.4,540.1 L78.8,539.3 L79.2,538.5 L79.6,537.7 L80.0,536.9 L80.4,536.1 L80.8,535.3 L81.1,534.5 L81.5,533.6 L81.9,532.8 L82.3,532.1 L82.7,531.2 L83.0,530.4 L83.4,529.6 L83.8,528.7 L84.1,527.9 L84.5,527.1 L84.9,526.3 L85.2,525.5 L85.6,524.6 L85.9,523.8 L86.3,523.0 L86.7,522.1 L87.0,521.3 L87.4,520.5 L87.7,519.7 L88.1,518.8 L88.4,518.0 L88.8,517.2 L89.2,516.4 L89.5,515.5 L89.9,514.7 L90.2,513.9 L90.6,513.1 L91.0,512.3 L91.3,511.5 L91.7,510.6 L92.1,509.8 L92.5,509.0 L92.9,508.2 L93.3,507.4 L93.7,506.6 L94.1,505.8 L94.5,504.9 L94.9,504.2 L95.3,503.3 L95.7,502.6 L96.2,501.8 L96.6,501.0 L97.1,500.2 L97.6,499.5 L98.1,498.7 L98.6,498.0 L99.2,497.3 L99.7,496.6 L100.3,495.9 L101.0,495.3 L101.6,494.7 L102.3,494.1 L103.1,493.7 L103.9,493.3 L104.8,493.1 L105.7,493.0 L106.6,493.1 L107.5,493.4 L108.3,493.7 L109.1,494.1 L109.9,494.6 L110.6,495.1 L111.3,495.8 L111.9,496.4 L112.5,497.0 L113.1,497.7 L113.7,498.4 L114.3,499.1 L114.8,499.8 L115.4,500.5 L115.9,501.2 L116.4,502.0 L116.9,502.7 L117.4,503.5 L117.9,504.2 L118.4,505.0 L118.9,505.7 L119.3,506.5 L119.8,507.3 L120.3,508.0 L120.7,508.8 L121.2,509.6 L121.6,510.4 L122.1,511.2 L122.5,511.9 L123.0,512.7 L123.4,513.5 L123.9,514.3 L124.3,515.1 L124.7,515.9 L125.2,516.7 L125.6,517.4 L126.1,518.2 L126.5,519.0 L126.9,519.8 L127.4,520.6 L127.8,521.4 L128.3,522.1 L128.7,522.9 L129.2,523.7 L129.6,524.5 L130.1,525.3 L130.5,526.0 L131.0,526.8 L131.4,527.6 L131.9,528.4 L132.4,529.1 L132.8,529.9 L133.3,530.7 L133.8,531.4 L134.2,532.2 L134.7,533.0 L135.2,533.7 L135.7,534.5 L136.2,535.2 L136.7,536.0 L137.2,536.7 L137.7,537.5 L138.2,538.2 L138.8,538.9 L139.3,539.6 L139.8,540.4 L140.4,541.1 L140.9,541.8 L141.5,542.5 L142.1,543.2 L142.6,543.9 L143.2,544.6 L143.8,545.3 L144.4,545.9 L145.0,546.6 L145.6,547.3 L146.2,547.9 L146.9,548.5 L147.5,549.2 L148.2,549.8 L148.8,550.4 L149.5,551.0 L150.2,551.6 L150.9,552.2 L151.6,552.7 L152.3,553.3 L153.0,553.8 L153.7,554.4 L154.4,554.9 L155.2,555.4 L156.0,555.9 L156.7,556.3 L157.5,556.8 L158.3,557.2 L159.1,557.7 L159.9,558.1 L160.7,558.5 L161.5,558.8 L162.3,559.2 L163.2,559.5 L164.0,559.9 L164.8,560.2 L165.7,560.5 L166.5,560.8 L167.4,561.0 L168.3,561.3 L169.1,561.5 L170.0,561.8 L170.9,562.0 L171.8,562.2 L172.6,562.4 L173.5,562.6 L174.4,562.7 L175.3,562.9 L176.2,563.0 L177.1,563.2 L178.0,563.3 L178.8,563.4 L179.7,563.5 L180.6,563.6 L181.5,563.7 L182.4,563.8 L183.3,563.9 L184.2,564.0 L185.1,564.0 L186.0,564.1 L186.9,564.1 L187.8,564.2 L188.7,564.2 L189.6,564.3 L190.5,564.3 L191.4,564.4 L192.3,564.4 L193.2,564.4 L194.1,564.5 L195.0,564.5 L195.9,564.5 L196.8,564.5 L197.7,564.6 L198.6,564.6 L199.5,564.6 L200.4,564.6 L201.3,564.6 L202.2,564.6 L203.1,564.6 L204.0,564.6 L204.9,564.7 L205.8,564.7 L206.7,564.7 L207.6,564.7 L208.5,564.7 L209.4,564.7 L210.3,564.7 L211.2,564.7 L212.1,564.7 L213.0,564.7 L213.9,564.7 L214.8,564.7 L215.7,564.7 L216.6,564.7 L217.5,564.7 L218.4,564.7 L219.3,564.7 L220.2,564.7 L221.1,564.7 L222.0,564.7 L222.9,564.7 L223.8,564.7 L224.7,564.7 L225.6,564.7 L226.5,564.7 L227.4,564.7 L228.3,564.7 L229.2,564.7 L230.1,564.7 L231.0,564.7 L231.9,564.7 L232.8,564.7 L233.7,564.7 L234.6,564.7 L235.5,564.7 L236.4,564.7 L237.3,564.7 L238.2,564.7 L239.1,564.7 L240.0,564.7 L240.9,564.7 L241.8,564.7 L242.7,564.7 L243.6,564.7 L244.5,564.7 L245.4,564.7 L246.3,564.7 L247.2,564.7 L248.1,564.7 L249.0,564.7 L249.9,564.7 L250.8,564.7 L251.7,564.7 L252.6,564.7 L253.5,564.7 L254.4,564.7 L255.3,564.7 L256.2,564.7 L257.1,564.7 L258.0,564.7 L258.9,564.7 L259.8,564.7 L260.7,564.7 L261.6,564.7 L262.5,564.7 L263.4,564.7 L264.3,564.7 L265.2,564.7 L266.1,564.7 L267.0,564.7 L267.9,564.7 L268.8,564.7 L269.7,564.7 L270.6,564.7 L271.0,564.7" stroke="#4d72b4"/>
<path d="M29.4,564.7 L30.3,564.7 L31.2,564.7 L32.1,564.7 L33.0,564.7 L33.9,564.7 L34.8,564.7 L35.7,564.7 L36.6,564.7 L37.5,564.7 L38.4,564.7 L39.3,564.7 L40.2,564.7 L41.1,564.7 L42.0,564.7 L42.9,564.7 L43.8,564.7 L44.7,564.7 L45.6,564.7 L46.5,564.7 L47.4,564.7 L48.3,564.7 L49.2,564.7 L50.1,564.6 L51.0,564.6 L51.9,564.6 L52.8,564.6 L53.7,564.6 L54.6,564.5 L55.5,564.5 L56.4,564.5 L57.3,564.4 L58.2,564.4 L59.1,564.3 L60.0,564.2 L60.9,564.1 L61.8,564.0 L62.7,563.9 L63.6,563.8 L64.5,563.6 L65.3,563.4 L66.2,563.2 L67.1,563.0 L68.0,562.8 L68.8,562.5 L69.7,562.2 L70.5,561.9 L71.3,561.5 L72.2,561.2 L73.0,560.8 L73.7,560.3 L74.5,559.9 L75.3,559.4 L76.0,558.9 L76.8,558.4 L77.5,557.8 L78.2,557.2 L78.8,556.6 L79.5,556.0 L80.2,555.4 L80.8,554.8 L81.4,554.1 L82.0,553.5 L82.6,552.8 L83.2,552.1 L83.8,551.4 L84.3,550.7 L84.9,550.0 L85.4,549.3 L86.0,548.6 L86.5,547.8 L87.0,547.1 L87.5,546.3 L88.0,545.6 L88.5,544.8 L89.0,544.1 L89.5,543.3 L90.0,542.6 L90.5,541.8 L90.9,541.0 L91.4,540.3 L91.9,539.5 L92.3,538.7 L92.8,537.9 L93.2,537.2 L93.7,536.4 L94.1,535.6 L94.6,534.8 L95.0,534.0 L95.5,533.3 L95.9,532.5 L96.4,531.7 L96.8,530.9 L97.3,530.1 L97.7,529.4 L98.2,528.6 L98.6,527.8 L99.1,527.1 L99.5,526.3 L100.0,525.5 L100.5,524.7 L100.9,524.0 L101.4,523.2 L101.9,522.4 L102.4,521.7 L102.9,520.9 L103.4,520.2 L103.9,519.4 L104.4,518.7 L104.9,517.9 L105.4,517.2 L106.0,516.5 L106.5,515.8 L107.1,515.1 L107.7,514.4 L108.3,513.8 L108.9,513.1 L109.6,512.5 L110.2,511.9 L110.9,511.3 L111.6,510.8 L112.4,510.3 L113.2,509.8 L114.0,509.4 L114.8,509.1 L115.7,508.9 L116.6,508.7 L117.5,508.7 L118.4,508.7 L119.3,508.8 L120.2,509.0 L121.0,509.2 L121.9,509.5 L122.7,509.8 L123.6,510.1 L124.4,510.5 L125.2,510.9 L126.0,511.4 L126.7,511.8 L127.5,512.3 L128.2,512.8 L129.0,513.3 L129.7,513.9 L130.4,514.4 L131.1,515.0 L131.8,515.6 L132.5,516.1 L133.2,516.7 L133.9,517.3 L134.5,517.9 L135.2,518.5 L135.9,519.1 L136.5,519.7 L137.2,520.4 L137.8,521.0 L138.5,521.6 L139.1,522.2 L139.8,522.9 L140.4,523.5 L141.0,524.1 L141.7,524.8 L142.3,525.4 L143.0,526.0 L143.6,526.7 L144.2,527.3 L144.9,527.9 L145.5,528.6 L146.1,529.2 L146.8,529.8 L147.4,530.5 L148.1,531.1 L148.7,531.7 L149.4,532.4 L150.0,533.0 L150.7,533.6 L151.3,534.2 L152.0,534.8 L152.6,535.4 L153.3,536.1 L154.0,536.7 L154.6,537.3 L155.3,537.8 L156.0,538.4 L156.7,539.0 L157.3,539.6 L158.0,540.2 L158.7,540.8 L159.4,541.3 L160.1,541.9 L160.8,542.5 L161.5,543.0 L162.3,543.6 L163.0,544.1 L163.7,544.7 L164.4,545.2 L165.2,545.7 L165.9,546.2 L166.6,546.7 L167.4,547.2 L168.1,547.7 L168.9,548.2 L169.7,548.7 L170.4,549.2 L171.2,549.6 L172.0,550.1 L172.8,550.5 L173.5,551.0 L174.3,551.4 L175.1,551.8 L175.9,552.2 L176.7,552.6 L177.5,553.0 L178.3,553.4 L179.2,553.8 L180.0,554.2 L180.8,554.5 L181.6,554.9 L182.5,555.2 L183.3,555.6 L184.1,555.9 L185.0,556.2 L185.8,556.5 L186.7,556.8 L187.5,557.1 L188.4,557.4 L189.2,557.7 L190.1,557.9 L191.0,558.2 L191.8,558.4 L192.7,558.7 L193.6,558.9 L194.4,559.1 L195.3,559.4 L196.2,559.6 L197.1,559.8 L197.9,560.0 L198.8,560.2 L199.7,560.4 L200.6,560.5 L201.5,560.7 L202.3,560.9 L203.2,561.0 L204.1,561.2 L205.0,561.3 L205.9,561.5 L206.8,561.6 L207.7,561.7 L208.6,561.9 L209.5,562.0 L210.3,562.1 L211.2,562.2 L212.1,562.3 L213.0,562.4 L213.9,562.5 L214.8,562.6 L215.7,562.7 L216.6,562.8 L217.5,562.9 L218.4,563.0 L219.3,563.1 L220.2,563.1 L221.1,563.2 L222.0,563.3 L222.9,563.3 L223.8,563.4 L224.7,563.5 L225.6,563.5 L226.5,563.6 L227.4,563.6 L228.3,563.7 L229.2,563.7 L230.1,563.8 L231.0,563.8 L231.9,563.9 L232.8,563.9 L233.7,564.0 L234.6,564.0 L235.5,564.0 L236.4,564.1 L237.3,564.1 L238.2,564.1 L239.1,564.1 L240.0,564.2 L240.9,564.2 L241.8,564.2 L242.7,564.3 L243.6,564.3 L244.5,564.3 L245.4,564.3 L246.3,564.3 L247.2,564.4 L248.1,564.4 L249.0,564.4 L249.9,564.4 L250.8,564.4 L251.7,564.4 L252.6,564.5 L253.5,564.5 L254.4,564.5 L255.3,564.5 L256.2,564.5 L257.1,564.5 L258.0,564.5 L258.9,564.5 L259.8,564.5 L260.7,564.6 L261.6,564.6 L262.5,564.6 L263.4,564.6 L264.3,564.6 L265.2,564.6 L266.1,564.6 L267.0,564.6 L267.9,564.6 L268.8,564.6 L269.7,564.6 L270.6,564.6 L271.0,564.6" stroke="#311f4c"/>
</g>
<g font-size="7.7" fill="#1e1a1b">
<text transform="matrix(1.13 0 0 1 45.20 575.50)" text-anchor="middle">0</text>
<text transform="matrix(1.13 0 0 1 72.10 575.50)" text-anchor="middle">0.5</text>
<text transform="matrix(1.13 0 0 1 99.00 575.50)" text-anchor="middle">1</text>
<text transform="matrix(1.13 0 0 1 125.90 575.50)" text-anchor="middle">1.5</text>
<text transform="matrix(1.13 0 0 1 152.80 575.50)" text-anchor="middle">2</text>
<text transform="matrix(1.13 0 0 1 179.70 575.50)" text-anchor="middle">2.5</text>
<text transform="matrix(1.13 0 0 1 206.60 575.50)" text-anchor="middle">3</text>
<text transform="matrix(1.13 0 0 1 233.50 575.50)" text-anchor="middle">3.5</text>
<text transform="matrix(1.13 0 0 1 260.40 575.50)" text-anchor="middle">4</text>
<text transform="matrix(1.13 0 0 1 25.60 567.70)" text-anchor="end">0</text>
<text transform="matrix(1.13 0 0 1 25.60 533.10)" text-anchor="end">0.5</text>
<text transform="matrix(1.13 0 0 1 25.60 498.50)" text-anchor="end">1</text>
<text transform="matrix(1.13 0 0 1 25.60 463.90)" text-anchor="end">1.5</text>
<text transform="matrix(1.13 0 0 1 25.60 429.30)" text-anchor="end">2</text>
</g>
<text transform="matrix(1.13 0 0 1 31.30 405.90)" font-size="8.0" fill="#1e1a1b">(g) PRCPTOT</text>
<text x="150.20" y="585.20" font-size="8.6" fill="#1e1a1b" text-anchor="middle" textLength="43.3" lengthAdjust="spacingAndGlyphs">Change (<tspan font-style="italic">σ</tspan>)</text>
<text transform="translate(11.40,481.80) rotate(-90) scale(1,1.13)" font-size="8.7" fill="#1e1a1b" text-anchor="middle" textLength="25.6" lengthAdjust="spacingAndGlyphs">Density</text>
<rect x="224.90" y="405.40" width="39.0" height="29.1" fill="#fff" stroke="#b9b5b3" stroke-width="1"/>
<path d="M227.20,409.40H243.80" stroke="#0e0c0d" stroke-width="1.9"/>
<text class="lg" x="245.90" y="412.23" font-size="6.3" fill="#2a2627" textLength="14.9" lengthAdjust="spacingAndGlyphs">1.5°C</text>
<path d="M227.20,416.25H243.80" stroke="#47aeaa" stroke-width="1.9"/>
<text class="lg" x="245.90" y="419.08" font-size="6.3" fill="#2a2627" textLength="14.9" lengthAdjust="spacingAndGlyphs">2.0°C</text>
<path d="M227.20,423.10H243.80" stroke="#4d72b4" stroke-width="1.9"/>
<text class="lg" x="245.90" y="425.93" font-size="6.3" fill="#2a2627" textLength="14.9" lengthAdjust="spacingAndGlyphs">3.0°C</text>
<path d="M227.20,429.95H243.80" stroke="#311f4c" stroke-width="1.9"/>
<text class="lg" x="245.90" y="432.78" font-size="6.3" fill="#2a2627" textLength="14.9" lengthAdjust="spacingAndGlyphs">4.0°C</text>
<rect x="306.8" y="397.6" width="241.50" height="166.60" fill="#fff"/>
<clipPath id="cliph"><rect x="306.8" y="396.6" width="241.50" height="169.20"/></clipPath>
<path d="M331.90,564.20v-2.4M331.90,397.60v2.4M366.48,564.20v-2.4M366.48,397.60v2.4M401.06,564.20v-2.4M401.06,397.60v2.4M435.64,564.20v-2.4M435.64,397.60v2.4M470.22,564.20v-2.4M470.22,397.60v2.4M504.80,564.20v-2.4M504.80,397.60v2.4M539.38,564.20v-2.4M539.38,397.60v2.4M306.80,564.20h2.4M548.30,564.20h-2.4M306.80,539.66h2.4M548.30,539.66h-2.4M306.80,515.12h2.4M548.30,515.12h-2.4M306.80,490.58h2.4M548.30,490.58h-2.4M306.80,466.04h2.4M548.30,466.04h-2.4M306.80,441.50h2.4M548.30,441.50h-2.4M306.80,416.96h2.4M548.30,416.96h-2.4" stroke="#8a8684" stroke-width="0.8" fill="none"/>
<rect x="306.8" y="397.6" width="241.50" height="166.60" fill="none" stroke="#b9b5b3" stroke-width="1.4"/>
<g clip-path="url(#cliph)" fill="none" stroke-width="2.1" stroke-linejoin="round">
<path d="M306.8,564.1 L307.7,564.1 L308.6,564.1 L309.5,564.0 L310.4,563.9 L311.3,563.8 L312.2,563.6 L313.1,563.4 L313.9,563.2 L314.8,562.9 L315.6,562.5 L316.3,562.0 L317.1,561.5 L317.7,560.9 L318.4,560.2 L318.9,559.5 L319.5,558.8 L320.0,558.1 L320.4,557.3 L320.9,556.5 L321.3,555.7 L321.6,554.8 L322.0,554.0 L322.3,553.2 L322.6,552.3 L322.9,551.5 L323.2,550.7 L323.5,549.8 L323.8,548.9 L324.0,548.0 L324.3,547.2 L324.5,546.3 L324.7,545.5 L324.9,544.6 L325.2,543.7 L325.4,542.8 L325.6,542.0 L325.8,541.1 L326.0,540.2 L326.1,539.3 L326.3,538.4 L326.5,537.5 L326.7,536.6 L326.8,535.8 L327.0,534.8 L327.2,534.0 L327.3,533.1 L327.5,532.2 L327.6,531.4 L327.8,530.4 L327.9,529.6 L328.1,528.6 L328.2,527.8 L328.4,526.9 L328.5,526.0 L328.7,525.1 L328.8,524.2 L328.9,523.3 L329.1,522.5 L329.2,521.5 L329.3,520.7 L329.5,519.7 L329.6,518.9 L329.7,518.0 L329.8,517.0 L330.0,516.2 L330.1,515.3 L330.2,514.4 L330.3,513.5 L330.4,512.6 L330.6,511.7 L330.7,510.9 L330.8,510.0 L330.9,509.0 L331.0,508.1 L331.1,507.3 L331.2,506.3 L331.3,505.5 L331.5,504.5 L331.6,503.7 L331.7,502.7 L331.8,501.9 L331.9,501.1 L332.0,500.1 L332.1,499.2 L332.2,498.4 L332.3,497.3 L332.4,496.5 L332.5,495.6 L332.6,494.7 L332.7,493.9 L332.8,493.0 L332.9,492.1 L333.0,491.2 L333.1,490.4 L333.2,489.5 L333.3,488.4 L333.4,487.7 L333.5,486.8 L333.6,485.9 L333.7,485.0 L333.8,484.1 L333.9,483.1 L334.0,482.2 L334.1,481.3 L334.2,480.4 L334.3,479.5 L334.4,478.6 L334.5,477.8 L334.6,476.9 L334.7,476.0 L334.8,475.1 L334.9,474.1 L335.0,473.2 L335.1,472.5 L335.2,471.5 L335.3,470.6 L335.4,469.7 L335.5,468.7 L335.6,467.8 L335.7,467.1 L335.8,466.1 L335.9,465.2 L336.0,464.3 L336.1,463.4 L336.1,462.6 L336.2,461.7 L336.3,460.8 L336.4,459.8 L336.5,458.9 L336.6,458.0 L336.7,457.1 L336.8,456.2 L336.9,455.5 L337.0,454.5 L337.1,453.6 L337.2,452.7 L337.3,451.8 L337.4,450.9 L337.5,450.0 L337.6,449.2 L337.7,448.3 L337.8,447.4 L337.9,446.3 L338.0,445.5 L338.1,444.6 L338.2,443.7 L338.3,442.9 L338.4,442.0 L338.6,441.0 L338.7,440.2 L338.8,439.4 L338.9,438.4 L339.0,437.5 L339.1,436.6 L339.2,435.8 L339.3,434.8 L339.4,433.9 L339.5,433.1 L339.7,432.2 L339.8,431.2 L339.9,430.3 L340.0,429.5 L340.1,428.6 L340.3,427.7 L340.4,426.9 L340.5,425.9 L340.6,425.0 L340.8,424.1 L340.9,423.3 L341.0,422.4 L341.2,421.5 L341.3,420.6 L341.5,419.7 L341.6,418.8 L341.8,417.9 L341.9,417.0 L342.1,416.2 L342.3,415.3 L342.4,414.4 L342.6,413.6 L342.8,412.6 L343.0,411.8 L343.2,410.9 L343.5,410.0 L343.7,409.2 L344.0,408.3 L344.3,407.5 L344.7,406.7 L345.2,405.9 L345.8,405.4 L346.7,405.6 L347.3,406.3 L347.7,407.1 L348.1,407.9 L348.4,408.7 L348.6,409.6 L348.9,410.5 L349.1,411.3 L349.4,412.2 L349.6,413.1 L349.8,414.0 L350.0,414.9 L350.2,415.7 L350.3,416.6 L350.5,417.5 L350.7,418.4 L350.9,419.3 L351.0,420.2 L351.2,421.0 L351.3,421.9 L351.5,422.8 L351.6,423.7 L351.8,424.6 L351.9,425.5 L352.0,426.4 L352.2,427.3 L352.3,428.2 L352.4,429.0 L352.6,430.0 L352.7,430.8 L352.8,431.8 L353.0,432.6 L353.1,433.6 L353.2,434.5 L353.3,435.3 L353.5,436.2 L353.6,437.1 L353.7,438.0 L353.8,438.9 L353.9,439.8 L354.1,440.7 L354.2,441.6 L354.3,442.4 L354.4,443.3 L354.5,444.3 L354.6,445.2 L354.7,446.0 L354.9,446.9 L355.0,447.7 L355.1,448.7 L355.2,449.7 L355.3,450.5 L355.4,451.4 L355.5,452.3 L355.6,453.2 L355.7,454.1 L355.8,454.9 L356.0,455.9 L356.1,456.7 L356.2,457.7 L356.3,458.5 L356.4,459.4 L356.5,460.4 L356.6,461.2 L356.7,462.2 L356.8,463.0 L356.9,463.9 L357.0,464.9 L357.1,465.7 L357.2,466.6 L357.3,467.4 L357.5,468.4 L357.6,469.2 L357.7,470.1 L357.8,471.1 L357.9,471.9 L358.0,472.8 L358.1,473.8 L358.2,474.6 L358.3,475.5 L358.4,476.5 L358.5,477.3 L358.6,478.1 L358.7,479.1 L358.8,480.0 L359.0,481.0 L359.1,481.8 L359.2,482.6 L359.3,483.6 L359.4,484.4 L359.5,485.4 L359.6,486.2 L359.7,487.0 L359.8,488.0 L359.9,488.8 L360.0,489.8 L360.2,490.8 L360.3,491.6 L360.4,492.5 L360.5,493.3 L360.6,494.3 L360.7,495.1 L360.8,496.0 L360.9,497.0 L361.1,497.9 L361.2,498.7 L361.3,499.6 L361.4,500.5 L361.5,501.5 L361.6,502.4 L361.7,503.1 L361.9,504.0 L362.0,504.9 L362.1,505.8 L362.2,506.7 L362.3,507.6 L362.5,508.6 L362.6,509.5 L362.7,510.3 L362.8,511.2 L363.0,512.1 L363.1,513.0 L363.2,513.9 L363.4,514.8 L363.5,515.7 L363.6,516.6 L363.7,517.4 L363.9,518.4 L364.0,519.3 L364.1,520.1 L364.3,521.0 L364.4,521.9 L364.6,522.8 L364.7,523.6 L364.8,524.5 L365.0,525.5 L365.1,526.3 L365.3,527.2 L365.4,528.1 L365.6,529.0 L365.7,529.9 L365.9,530.8 L366.1,531.7 L366.2,532.5 L366.4,533.4 L366.5,534.3 L366.7,535.2 L366.9,536.0 L367.1,536.9 L367.2,537.8 L367.4,538.7 L367.6,539.6 L367.8,540.5 L368.0,541.3 L368.2,542.2 L368.4,543.1 L368.6,544.0 L368.8,544.9 L369.0,545.8 L369.2,546.6 L369.5,547.5 L369.7,548.4 L369.9,549.2 L370.2,550.0 L370.4,550.9 L370.7,551.8 L371.0,552.6 L371.3,553.5 L371.6,554.3 L371.9,555.2 L372.2,556.0 L372.6,556.8 L373.0,557.7 L373.4,558.5 L373.8,559.2 L374.2,560.0 L374.7,560.8 L375.3,561.5 L375.9,562.2 L376.6,562.8 L377.3,563.3 L378.1,563.7 L378.9,564.0 L379.8,564.1 L380.7,564.2 L381.6,564.2 L382.5,564.2 L383.4,564.2 L384.3,564.2 L385.2,564.2 L386.1,564.2 L387.0,564.2 L387.9,564.2 L388.8,564.2 L389.7,564.2 L390.6,564.2 L391.5,564.2 L392.4,564.2 L393.3,564.2 L394.2,564.2 L395.1,564.2 L396.0,564.2 L396.9,564.2 L397.8,564.2 L398.7,564.2 L399.6,564.2 L400.5,564.2 L401.4,564.2 L402.3,564.2 L403.2,564.2 L404.1,564.2 L405.0,564.2 L405.9,564.2 L406.8,564.2 L407.7,564.2 L408.6,564.2 L409.5,564.2 L410.4,564.2 L411.3,564.2 L412.2,564.2 L413.1,564.2 L414.0,564.2 L414.9,564.2 L415.8,564.2 L416.7,564.2 L417.6,564.2 L418.5,564.2 L419.4,564.2 L420.3,564.2 L421.2,564.2 L422.1,564.2 L423.0,564.2 L423.9,564.2 L424.8,564.2 L425.7,564.2 L426.6,564.2 L427.5,564.2 L428.4,564.2 L429.3,564.2 L430.2,564.2 L431.1,564.2 L432.0,564.2 L432.9,564.2 L433.8,564.2 L434.7,564.2 L435.6,564.2 L436.5,564.2 L437.4,564.2 L438.3,564.2 L439.2,564.2 L440.1,564.2 L441.0,564.2 L441.9,564.2 L442.8,564.2 L443.7,564.2 L444.6,564.2 L445.5,564.2 L446.4,564.2 L447.3,564.2 L448.2,564.2 L449.1,564.2 L450.0,564.2 L450.9,564.2 L451.8,564.2 L452.7,564.2 L453.6,564.2 L454.5,564.2 L455.4,564.2 L456.3,564.2 L457.2,564.2 L458.1,564.2 L459.0,564.2 L459.9,564.2 L460.8,564.2 L461.7,564.2 L462.6,564.2 L463.5,564.2 L464.4,564.2 L465.3,564.2 L466.2,564.2 L467.1,564.2 L468.0,564.2 L468.9,564.2 L469.8,564.2 L470.7,564.2 L471.6,564.2 L472.5,564.2 L473.4,564.2 L474.3,564.2 L475.2,564.2 L476.1,564.2 L477.0,564.2 L477.9,564.2 L478.8,564.2 L479.7,564.2 L480.6,564.2 L481.5,564.2 L482.4,564.2 L483.3,564.2 L484.2,564.2 L485.1,564.2 L486.0,564.2 L486.9,564.2 L487.8,564.2 L488.7,564.2 L489.6,564.2 L490.5,564.2 L491.4,564.2 L492.3,564.2 L493.2,564.2 L494.1,564.2 L495.0,564.2 L495.9,564.2 L496.8,564.2 L497.7,564.2 L498.6,564.2 L499.5,564.2 L500.4,564.2 L501.3,564.2 L502.2,564.2 L503.1,564.2 L504.0,564.2 L504.9,564.2 L505.8,564.2 L506.7,564.2 L507.6,564.2 L508.5,564.2 L509.4,564.2 L510.3,564.2 L511.2,564.2 L512.1,564.2 L513.0,564.2 L513.9,564.2 L514.8,564.2 L515.7,564.2 L516.6,564.2 L517.5,564.2 L518.4,564.2 L519.3,564.2 L520.2,564.2 L521.1,564.2 L522.0,564.2 L522.9,564.2 L523.8,564.2 L524.7,564.2 L525.6,564.2 L526.5,564.2 L527.4,564.2 L528.3,564.2 L529.2,564.2 L530.1,564.2 L531.0,564.2 L531.9,564.2 L532.8,564.2 L533.7,564.2 L534.6,564.2 L535.5,564.2 L536.4,564.2 L537.3,564.2 L538.2,564.2 L539.1,564.2 L540.0,564.2 L540.9,564.2 L541.8,564.2 L542.7,564.2 L543.6,564.2 L544.5,564.2 L545.4,564.2 L546.3,564.2 L547.2,564.2 L548.1,564.2 L548.3,564.2" stroke="#0e0c0d"/>
<path d="M306.8,564.2 L307.7,564.2 L308.6,564.2 L309.5,564.2 L310.4,564.2 L311.3,564.2 L312.2,564.1 L313.1,564.1 L314.0,564.1 L314.9,564.0 L315.8,564.0 L316.7,563.9 L317.6,563.7 L318.5,563.6 L319.4,563.4 L320.2,563.1 L321.0,562.8 L321.8,562.4 L322.6,561.9 L323.3,561.3 L324.0,560.7 L324.6,560.1 L325.2,559.4 L325.7,558.7 L326.2,557.9 L326.7,557.2 L327.1,556.3 L327.5,555.5 L327.9,554.7 L328.3,553.9 L328.6,553.1 L328.9,552.2 L329.2,551.4 L329.5,550.5 L329.8,549.7 L330.1,548.8 L330.3,548.0 L330.6,547.1 L330.8,546.2 L331.1,545.3 L331.3,544.4 L331.5,543.6 L331.7,542.7 L331.9,541.8 L332.1,540.9 L332.3,540.0 L332.5,539.2 L332.7,538.4 L332.9,537.4 L333.1,536.5 L333.2,535.7 L333.4,534.8 L333.6,533.9 L333.7,533.1 L333.9,532.1 L334.1,531.2 L334.2,530.4 L334.4,529.5 L334.5,528.5 L334.7,527.7 L334.8,526.8 L335.0,525.9 L335.1,525.0 L335.2,524.1 L335.4,523.2 L335.5,522.3 L335.7,521.4 L335.8,520.6 L335.9,519.6 L336.0,518.8 L336.2,517.9 L336.3,517.0 L336.4,516.1 L336.6,515.2 L336.7,514.3 L336.8,513.5 L336.9,512.6 L337.1,511.6 L337.2,510.7 L337.3,509.8 L337.4,509.0 L337.5,508.1 L337.6,507.2 L337.8,506.3 L337.9,505.3 L338.0,504.6 L338.1,503.6 L338.2,502.7 L338.3,501.9 L338.4,500.9 L338.5,500.1 L338.7,499.1 L338.8,498.3 L338.9,497.3 L339.0,496.5 L339.1,495.5 L339.2,494.7 L339.3,493.7 L339.4,492.9 L339.5,492.0 L339.6,491.2 L339.7,490.2 L339.8,489.3 L339.9,488.5 L340.0,487.6 L340.2,486.6 L340.3,485.7 L340.4,484.8 L340.5,484.0 L340.6,483.1 L340.7,482.1 L340.8,481.2 L340.9,480.3 L341.0,479.5 L341.1,478.6 L341.2,477.7 L341.3,476.9 L341.4,476.0 L341.5,474.9 L341.6,474.1 L341.7,473.2 L341.8,472.3 L341.9,471.4 L342.0,470.6 L342.1,469.7 L342.2,468.8 L342.3,467.9 L342.4,466.9 L342.5,466.0 L342.6,465.1 L342.7,464.3 L342.8,463.4 L342.9,462.5 L343.0,461.5 L343.1,460.7 L343.2,459.8 L343.3,458.9 L343.4,458.1 L343.6,457.1 L343.7,456.2 L343.8,455.4 L343.9,454.4 L344.0,453.5 L344.1,452.7 L344.2,451.7 L344.3,450.9 L344.4,449.9 L344.5,449.1 L344.6,448.1 L344.7,447.3 L344.9,446.4 L345.0,445.4 L345.1,444.7 L345.2,443.7 L345.3,442.8 L345.4,441.9 L345.6,441.0 L345.7,440.2 L345.8,439.2 L345.9,438.3 L346.0,437.5 L346.2,436.6 L346.3,435.8 L346.4,434.8 L346.5,434.0 L346.7,433.0 L346.8,432.1 L346.9,431.3 L347.1,430.4 L347.2,429.5 L347.4,428.6 L347.5,427.7 L347.7,426.8 L347.8,426.0 L348.0,425.1 L348.1,424.2 L348.3,423.3 L348.5,422.4 L348.7,421.5 L348.9,420.7 L349.1,419.8 L349.3,418.9 L349.5,418.0 L349.7,417.2 L350.0,416.3 L350.3,415.5 L350.6,414.6 L350.9,413.8 L351.4,413.0 L352.0,412.4 L352.9,412.4 L353.6,413.0 L354.1,413.8 L354.5,414.6 L354.8,415.4 L355.2,416.3 L355.4,417.1 L355.7,417.9 L356.0,418.8 L356.2,419.7 L356.4,420.6 L356.6,421.5 L356.8,422.3 L357.0,423.2 L357.2,424.1 L357.4,424.9 L357.6,425.8 L357.8,426.7 L358.0,427.6 L358.1,428.5 L358.3,429.4 L358.5,430.3 L358.6,431.2 L358.8,432.1 L358.9,433.0 L359.1,433.8 L359.2,434.7 L359.4,435.6 L359.5,436.5 L359.7,437.4 L359.8,438.3 L360.0,439.1 L360.1,440.0 L360.2,440.9 L360.4,441.8 L360.5,442.7 L360.7,443.7 L360.8,444.5 L360.9,445.4 L361.1,446.3 L361.2,447.1 L361.3,448.1 L361.4,448.9 L361.6,449.9 L361.7,450.7 L361.8,451.7 L362.0,452.5 L362.1,453.4 L362.2,454.4 L362.3,455.2 L362.5,456.1 L362.6,456.9 L362.7,457.9 L362.8,458.8 L363.0,459.7 L363.1,460.5 L363.2,461.4 L363.3,462.3 L363.5,463.3 L363.6,464.1 L363.7,465.0 L363.8,465.9 L363.9,466.8 L364.1,467.6 L364.2,468.5 L364.3,469.4 L364.4,470.3 L364.6,471.3 L364.7,472.2 L364.8,473.1 L364.9,473.9 L365.0,474.8 L365.2,475.7 L365.3,476.6 L365.4,477.4 L365.5,478.3 L365.7,479.3 L365.8,480.2 L365.9,481.1 L366.0,481.9 L366.1,482.8 L366.3,483.7 L366.4,484.7 L366.5,485.5 L366.6,486.4 L366.8,487.2 L366.9,488.2 L367.0,489.1 L367.1,489.9 L367.3,490.8 L367.4,491.8 L367.5,492.6 L367.7,493.6 L367.8,494.4 L367.9,495.2 L368.0,496.2 L368.2,497.0 L368.3,498.0 L368.4,498.9 L368.6,499.7 L368.7,500.7 L368.8,501.6 L369.0,502.4 L369.1,503.3 L369.2,504.2 L369.4,505.1 L369.5,506.0 L369.6,506.8 L369.8,507.7 L369.9,508.6 L370.1,509.6 L370.2,510.5 L370.4,511.3 L370.5,512.2 L370.6,513.0 L370.8,514.0 L370.9,514.8 L371.1,515.8 L371.2,516.6 L371.4,517.5 L371.6,518.5 L371.7,519.3 L371.9,520.2 L372.0,521.0 L372.2,521.9 L372.3,522.8 L372.5,523.7 L372.7,524.6 L372.8,525.5 L373.0,526.4 L373.2,527.2 L373.4,528.1 L373.5,529.0 L373.7,529.9 L373.9,530.8 L374.1,531.6 L374.3,532.6 L374.5,533.4 L374.7,534.3 L374.9,535.2 L375.1,536.1 L375.3,536.9 L375.5,537.8 L375.7,538.7 L375.9,539.6 L376.1,540.4 L376.3,541.3 L376.6,542.1 L376.8,543.0 L377.0,543.9 L377.3,544.8 L377.5,545.6 L377.8,546.5 L378.1,547.3 L378.4,548.2 L378.6,549.0 L378.9,549.9 L379.2,550.7 L379.6,551.6 L379.9,552.4 L380.2,553.2 L380.6,554.1 L381.0,554.9 L381.3,555.7 L381.8,556.5 L382.2,557.3 L382.7,558.1 L383.1,558.8 L383.7,559.5 L384.2,560.2 L384.8,560.9 L385.5,561.5 L386.1,562.1 L386.9,562.6 L387.7,563.1 L388.5,563.5 L389.3,563.7 L390.2,563.9 L391.1,564.1 L392.0,564.2 L392.9,564.2 L393.8,564.2 L394.7,564.2 L395.6,564.2 L396.5,564.2 L397.4,564.2 L398.3,564.2 L399.2,564.2 L400.1,564.2 L401.0,564.2 L401.9,564.2 L402.8,564.2 L403.7,564.2 L404.6,564.2 L405.5,564.2 L406.4,564.2 L407.3,564.2 L408.2,564.2 L409.1,564.2 L410.0,564.2 L410.9,564.2 L411.8,564.2 L412.7,564.2 L413.6,564.2 L414.5,564.2 L415.4,564.2 L416.3,564.2 L417.2,564.2 L418.1,564.2 L419.0,564.2 L419.9,564.2 L420.8,564.2 L421.7,564.2 L422.6,564.2 L423.5,564.2 L424.4,564.2 L425.3,564.2 L426.2,564.2 L427.1,564.2 L428.0,564.2 L428.9,564.2 L429.8,564.2 L430.7,564.2 L431.6,564.2 L432.5,564.2 L433.4,564.2 L434.3,564.2 L435.2,564.2 L436.1,564.2 L437.0,564.2 L437.9,564.2 L438.8,564.2 L439.7,564.2 L440.6,564.2 L441.5,564.2 L442.4,564.2 L443.3,564.2 L444.2,564.2 L445.1,564.2 L446.0,564.2 L446.9,564.2 L447.8,564.2 L448.7,564.2 L449.6,564.2 L450.5,564.2 L451.4,564.2 L452.3,564.2 L453.2,564.2 L454.1,564.2 L455.0,564.2 L455.9,564.2 L456.8,564.2 L457.7,564.2 L458.6,564.2 L459.5,564.2 L460.4,564.2 L461.3,564.2 L462.2,564.2 L463.1,564.2 L464.0,564.2 L464.9,564.2 L465.8,564.2 L466.7,564.2 L467.6,564.2 L468.5,564.2 L469.4,564.2 L470.3,564.2 L471.2,564.2 L472.1,564.2 L473.0,564.2 L473.9,564.2 L474.8,564.2 L475.7,564.2 L476.6,564.2 L477.5,564.2 L478.4,564.2 L479.3,564.2 L480.2,564.2 L481.1,564.2 L482.0,564.2 L482.9,564.2 L483.8,564.2 L484.7,564.2 L485.6,564.2 L486.5,564.2 L487.4,564.2 L488.3,564.2 L489.2,564.2 L490.1,564.2 L491.0,564.2 L491.9,564.2 L492.8,564.2 L493.7,564.2 L494.6,564.2 L495.5,564.2 L496.4,564.2 L497.3,564.2 L498.2,564.2 L499.1,564.2 L500.0,564.2 L500.9,564.2 L501.8,564.2 L502.7,564.2 L503.6,564.2 L504.5,564.2 L505.4,564.2 L506.3,564.2 L507.2,564.2 L508.1,564.2 L509.0,564.2 L509.9,564.2 L510.8,564.2 L511.7,564.2 L512.6,564.2 L513.5,564.2 L514.4,564.2 L515.3,564.2 L516.2,564.2 L517.1,564.2 L518.0,564.2 L518.9,564.2 L519.8,564.2 L520.7,564.2 L521.6,564.2 L522.5,564.2 L523.4,564.2 L524.3,564.2 L525.2,564.2 L526.1,564.2 L527.0,564.2 L527.9,564.2 L528.8,564.2 L529.7,564.2 L530.6,564.2 L531.5,564.2 L532.4,564.2 L533.3,564.2 L534.2,564.2 L535.1,564.2 L536.0,564.2 L536.9,564.2 L537.8,564.2 L538.7,564.2 L539.6,564.2 L540.5,564.2 L541.4,564.2 L542.3,564.2 L543.2,564.2 L544.1,564.2 L545.0,564.2 L545.9,564.2 L546.8,564.2 L547.7,564.2 L548.3,564.2" stroke="#47aeaa"/>
<path d="M306.8,564.2 L307.7,564.2 L308.6,564.2 L309.5,564.2 L310.4,564.2 L311.3,564.2 L312.2,564.2 L313.1,564.2 L314.0,564.2 L314.9,564.2 L315.8,564.2 L316.7,564.2 L317.6,564.2 L318.5,564.2 L319.4,564.2 L320.3,564.2 L321.2,564.2 L322.1,564.2 L323.0,564.2 L323.9,564.2 L324.8,564.1 L325.7,564.1 L326.6,564.1 L327.5,564.0 L328.4,564.0 L329.3,563.9 L330.2,563.7 L331.1,563.6 L332.0,563.4 L332.8,563.1 L333.7,562.8 L334.5,562.5 L335.3,562.0 L336.0,561.6 L336.8,561.0 L337.4,560.4 L338.1,559.8 L338.7,559.1 L339.2,558.4 L339.8,557.7 L340.3,556.9 L340.7,556.2 L341.2,555.4 L341.6,554.6 L342.0,553.8 L342.4,552.9 L342.7,552.1 L343.1,551.3 L343.4,550.4 L343.7,549.6 L344.0,548.8 L344.3,547.9 L344.6,547.0 L344.9,546.2 L345.2,545.4 L345.4,544.5 L345.7,543.6 L345.9,542.8 L346.2,541.9 L346.4,541.0 L346.7,540.2 L346.9,539.2 L347.1,538.4 L347.3,537.5 L347.6,536.6 L347.8,535.8 L348.0,534.9 L348.2,534.0 L348.4,533.2 L348.6,532.3 L348.8,531.4 L349.0,530.5 L349.2,529.6 L349.4,528.7 L349.5,527.9 L349.7,527.0 L349.9,526.1 L350.1,525.3 L350.3,524.4 L350.4,523.5 L350.6,522.6 L350.8,521.6 L351.0,520.8 L351.1,519.9 L351.3,519.1 L351.5,518.1 L351.6,517.3 L351.8,516.4 L352.0,515.5 L352.1,514.6 L352.3,513.7 L352.5,512.9 L352.6,512.0 L352.8,511.1 L352.9,510.2 L353.1,509.3 L353.3,508.4 L353.4,507.6 L353.6,506.7 L353.7,505.8 L353.9,504.9 L354.1,504.0 L354.2,503.1 L354.4,502.3 L354.5,501.4 L354.7,500.5 L354.8,499.6 L355.0,498.7 L355.2,497.7 L355.3,496.8 L355.5,496.1 L355.6,495.2 L355.8,494.3 L355.9,493.4 L356.1,492.5 L356.3,491.6 L356.4,490.7 L356.6,489.8 L356.7,488.9 L356.9,488.0 L357.1,487.2 L357.2,486.3 L357.4,485.4 L357.6,484.5 L357.7,483.6 L357.9,482.8 L358.1,481.8 L358.2,481.0 L358.4,480.1 L358.6,479.2 L358.7,478.3 L358.9,477.5 L359.1,476.6 L359.3,475.7 L359.5,474.8 L359.7,473.9 L359.8,473.0 L360.0,472.1 L360.2,471.3 L360.4,470.4 L360.6,469.5 L360.8,468.6 L361.1,467.7 L361.3,466.9 L361.5,466.0 L361.7,465.2 L362.0,464.3 L362.2,463.4 L362.5,462.6 L362.7,461.7 L363.0,460.9 L363.3,460.0 L363.6,459.2 L363.9,458.4 L364.3,457.5 L364.7,456.7 L365.1,455.9 L365.6,455.2 L366.2,454.5 L367.0,454.0 L367.9,453.9 L368.7,454.3 L369.4,454.8 L370.0,455.5 L370.6,456.2 L371.0,456.9 L371.5,457.7 L371.9,458.5 L372.3,459.3 L372.7,460.2 L373.1,461.0 L373.4,461.8 L373.7,462.6 L374.1,463.5 L374.4,464.3 L374.7,465.2 L375.0,466.0 L375.3,466.9 L375.6,467.7 L375.9,468.6 L376.2,469.5 L376.5,470.3 L376.7,471.1 L377.0,472.0 L377.3,472.9 L377.5,473.7 L377.8,474.6 L378.1,475.4 L378.3,476.3 L378.6,477.2 L378.9,478.1 L379.1,478.9 L379.4,479.7 L379.6,480.6 L379.9,481.5 L380.1,482.3 L380.4,483.2 L380.6,484.1 L380.9,484.9 L381.1,485.8 L381.4,486.7 L381.6,487.5 L381.9,488.4 L382.1,489.2 L382.4,490.1 L382.7,491.0 L382.9,491.8 L383.2,492.7 L383.4,493.6 L383.7,494.5 L383.9,495.3 L384.2,496.1 L384.4,497.0 L384.7,497.9 L385.0,498.7 L385.2,499.6 L385.5,500.4 L385.8,501.3 L386.0,502.2 L386.3,503.0 L386.6,503.9 L386.8,504.7 L387.1,505.6 L387.4,506.5 L387.7,507.4 L387.9,508.2 L388.2,509.1 L388.5,509.9 L388.8,510.7 L389.1,511.6 L389.4,512.5 L389.7,513.3 L389.9,514.1 L390.2,515.0 L390.5,515.8 L390.9,516.7 L391.2,517.5 L391.5,518.4 L391.8,519.2 L392.1,520.1 L392.4,520.9 L392.8,521.7 L393.1,522.6 L393.4,523.4 L393.8,524.2 L394.1,525.1 L394.5,525.9 L394.8,526.7 L395.2,527.6 L395.5,528.4 L395.9,529.2 L396.3,530.0 L396.7,530.9 L397.1,531.6 L397.5,532.5 L397.9,533.3 L398.3,534.0 L398.7,534.9 L399.1,535.6 L399.5,536.4 L400.0,537.2 L400.4,538.0 L400.9,538.8 L401.3,539.5 L401.8,540.3 L402.3,541.1 L402.8,541.8 L403.3,542.6 L403.8,543.3 L404.3,544.0 L404.9,544.8 L405.4,545.5 L406.0,546.2 L406.6,546.9 L407.1,547.6 L407.7,548.2 L408.3,548.9 L409.0,549.5 L409.6,550.2 L410.3,550.8 L410.9,551.4 L411.6,552.0 L412.3,552.6 L413.0,553.1 L413.7,553.7 L414.4,554.2 L415.2,554.7 L415.9,555.2 L416.7,555.7 L417.4,556.2 L418.2,556.6 L419.0,557.0 L419.8,557.5 L420.6,557.8 L421.5,558.2 L422.3,558.6 L423.1,558.9 L424.0,559.2 L424.8,559.5 L425.7,559.8 L426.5,560.1 L427.4,560.3 L428.2,560.6 L429.1,560.8 L430.0,561.0 L430.9,561.2 L431.7,561.4 L432.6,561.6 L433.5,561.8 L434.4,561.9 L435.3,562.1 L436.2,562.2 L437.1,562.3 L438.0,562.5 L438.9,562.6 L439.7,562.7 L440.6,562.8 L441.5,562.9 L442.4,563.0 L443.3,563.0 L444.2,563.1 L445.1,563.2 L446.0,563.3 L446.9,563.3 L447.8,563.4 L448.7,563.4 L449.6,563.5 L450.5,563.5 L451.4,563.6 L452.3,563.6 L453.2,563.7 L454.1,563.7 L455.0,563.7 L455.9,563.8 L456.8,563.8 L457.7,563.8 L458.6,563.9 L459.5,563.9 L460.4,563.9 L461.3,563.9 L462.2,563.9 L463.1,564.0 L464.0,564.0 L464.9,564.0 L465.8,564.0 L466.7,564.0 L467.6,564.0 L468.5,564.0 L469.4,564.1 L470.3,564.1 L471.2,564.1 L472.1,564.1 L473.0,564.1 L473.9,564.1 L474.8,564.1 L475.7,564.1 L476.6,564.1 L477.5,564.1 L478.4,564.1 L479.3,564.1 L480.2,564.1 L481.1,564.1 L482.0,564.1 L482.9,564.2 L483.8,564.2 L484.7,564.2 L485.6,564.2 L486.5,564.2 L487.4,564.2 L488.3,564.2 L489.2,564.2 L490.1,564.2 L491.0,564.2 L491.9,564.2 L492.8,564.2 L493.7,564.2 L494.6,564.2 L495.5,564.2 L496.4,564.2 L497.3,564.2 L498.2,564.2 L499.1,564.2 L500.0,564.2 L500.9,564.2 L501.8,564.2 L502.7,564.2 L503.6,564.2 L504.5,564.2 L505.4,564.2 L506.3,564.2 L507.2,564.2 L508.1,564.2 L509.0,564.2 L509.9,564.2 L510.8,564.2 L511.7,564.2 L512.6,564.2 L513.5,564.2 L514.4,564.2 L515.3,564.2 L516.2,564.2 L517.1,564.2 L518.0,564.2 L518.9,564.2 L519.8,564.2 L520.7,564.2 L521.6,564.2 L522.5,564.2 L523.4,564.2 L524.3,564.2 L525.2,564.2 L526.1,564.2 L527.0,564.2 L527.9,564.2 L528.8,564.2 L529.7,564.2 L530.6,564.2 L531.5,564.2 L532.4,564.2 L533.3,564.2 L534.2,564.2 L535.1,564.2 L536.0,564.2 L536.9,564.2 L537.8,564.2 L538.7,564.2 L539.6,564.2 L540.5,564.2 L541.4,564.2 L542.3,564.2 L543.2,564.2 L544.1,564.2 L545.0,564.2 L545.9,564.2 L546.8,564.2 L547.7,564.2 L548.3,564.2" stroke="#4d72b4"/>
<path d="M306.8,564.2 L307.7,564.2 L308.6,564.2 L309.5,564.2 L310.4,564.2 L311.3,564.2 L312.2,564.2 L313.1,564.2 L314.0,564.2 L314.9,564.2 L315.8,564.2 L316.7,564.2 L317.6,564.2 L318.5,564.2 L319.4,564.2 L320.3,564.2 L321.2,564.2 L322.1,564.2 L323.0,564.2 L323.9,564.2 L324.8,564.2 L325.7,564.2 L326.6,564.2 L327.5,564.2 L328.4,564.2 L329.3,564.2 L330.2,564.2 L331.1,564.1 L332.0,564.1 L332.9,564.1 L333.8,564.0 L334.7,564.0 L335.6,563.9 L336.5,563.8 L337.4,563.6 L338.3,563.5 L339.1,563.2 L340.0,563.0 L340.8,562.7 L341.7,562.3 L342.5,561.9 L343.2,561.4 L344.0,560.9 L344.7,560.3 L345.3,559.7 L346.0,559.1 L346.6,558.4 L347.1,557.7 L347.7,557.0 L348.2,556.2 L348.7,555.5 L349.1,554.7 L349.6,553.9 L350.0,553.1 L350.4,552.3 L350.8,551.5 L351.2,550.7 L351.6,549.9 L351.9,549.0 L352.3,548.2 L352.6,547.4 L352.9,546.6 L353.2,545.7 L353.6,544.9 L353.9,544.0 L354.2,543.2 L354.5,542.3 L354.7,541.4 L355.0,540.6 L355.3,539.7 L355.6,538.9 L355.8,538.1 L356.1,537.1 L356.3,536.3 L356.6,535.5 L356.9,534.6 L357.1,533.7 L357.3,532.9 L357.6,531.9 L357.8,531.1 L358.1,530.2 L358.3,529.4 L358.5,528.5 L358.8,527.6 L359.0,526.8 L359.2,525.9 L359.5,525.0 L359.7,524.1 L359.9,523.3 L360.1,522.4 L360.3,521.6 L360.6,520.6 L360.8,519.7 L361.0,518.9 L361.2,518.1 L361.4,517.2 L361.7,516.3 L361.9,515.4 L362.1,514.5 L362.3,513.7 L362.5,512.8 L362.7,512.0 L363.0,511.1 L363.2,510.2 L363.4,509.3 L363.6,508.4 L363.8,507.6 L364.1,506.7 L364.3,505.8 L364.5,504.9 L364.7,504.1 L364.9,503.2 L365.2,502.3 L365.4,501.4 L365.6,500.6 L365.9,499.7 L366.1,498.9 L366.3,498.0 L366.6,497.1 L366.8,496.2 L367.0,495.4 L367.3,494.5 L367.5,493.7 L367.8,492.8 L368.0,491.9 L368.3,491.0 L368.6,490.2 L368.8,489.4 L369.1,488.5 L369.4,487.6 L369.7,486.8 L370.0,485.9 L370.3,485.1 L370.6,484.2 L370.9,483.4 L371.2,482.5 L371.6,481.7 L371.9,480.9 L372.3,480.1 L372.7,479.3 L373.1,478.5 L373.6,477.7 L374.1,477.0 L374.6,476.2 L375.2,475.6 L375.9,475.0 L376.6,474.5 L377.5,474.2 L378.4,474.2 L379.3,474.4 L380.1,474.8 L380.8,475.3 L381.5,475.9 L382.1,476.6 L382.7,477.3 L383.3,478.0 L383.8,478.7 L384.3,479.4 L384.8,480.2 L385.3,481.0 L385.7,481.7 L386.2,482.5 L386.6,483.3 L387.0,484.1 L387.5,484.9 L387.9,485.7 L388.3,486.5 L388.7,487.3 L389.1,488.1 L389.5,488.9 L389.8,489.7 L390.2,490.6 L390.6,491.4 L391.0,492.2 L391.4,493.0 L391.7,493.8 L392.1,494.7 L392.5,495.4 L392.9,496.3 L393.2,497.1 L393.6,497.9 L394.0,498.7 L394.3,499.6 L394.7,500.4 L395.1,501.2 L395.4,502.0 L395.8,502.8 L396.2,503.7 L396.5,504.5 L396.9,505.3 L397.3,506.1 L397.7,506.9 L398.0,507.7 L398.4,508.6 L398.8,509.4 L399.2,510.2 L399.6,511.0 L400.0,511.8 L400.3,512.6 L400.7,513.5 L401.1,514.2 L401.5,515.1 L401.9,515.9 L402.3,516.7 L402.7,517.5 L403.1,518.3 L403.6,519.1 L404.0,519.9 L404.4,520.7 L404.8,521.5 L405.2,522.3 L405.7,523.1 L406.1,523.8 L406.6,524.6 L407.0,525.4 L407.5,526.2 L407.9,527.0 L408.4,527.7 L408.9,528.5 L409.3,529.2 L409.8,530.0 L410.3,530.8 L410.8,531.5 L411.3,532.3 L411.8,533.0 L412.3,533.8 L412.8,534.5 L413.4,535.2 L413.9,535.9 L414.4,536.7 L415.0,537.4 L415.5,538.1 L416.1,538.8 L416.7,539.5 L417.3,540.2 L417.9,540.8 L418.5,541.5 L419.1,542.2 L419.7,542.8 L420.3,543.5 L420.9,544.1 L421.6,544.7 L422.2,545.3 L422.9,546.0 L423.6,546.5 L424.3,547.1 L425.0,547.7 L425.7,548.3 L426.4,548.8 L427.1,549.4 L427.8,549.9 L428.6,550.4 L429.3,550.9 L430.1,551.4 L430.8,551.9 L431.6,552.3 L432.4,552.8 L433.2,553.2 L433.9,553.7 L434.7,554.1 L435.5,554.5 L436.4,554.9 L437.2,555.2 L438.0,555.6 L438.8,556.0 L439.7,556.3 L440.5,556.6 L441.3,556.9 L442.2,557.2 L443.0,557.5 L443.9,557.8 L444.8,558.1 L445.6,558.3 L446.5,558.6 L447.4,558.8 L448.2,559.1 L449.1,559.3 L450.0,559.5 L450.9,559.7 L451.7,559.9 L452.6,560.1 L453.5,560.2 L454.4,560.4 L455.3,560.6 L456.1,560.7 L457.0,560.9 L457.9,561.0 L458.8,561.2 L459.7,561.3 L460.6,561.4 L461.5,561.5 L462.4,561.7 L463.3,561.8 L464.2,561.9 L465.1,562.0 L466.0,562.1 L466.9,562.2 L467.7,562.2 L468.6,562.3 L469.5,562.4 L470.4,562.5 L471.3,562.6 L472.2,562.6 L473.1,562.7 L474.0,562.8 L474.9,562.8 L475.8,562.9 L476.7,562.9 L477.6,563.0 L478.5,563.0 L479.4,563.1 L480.3,563.1 L481.2,563.2 L482.1,563.2 L483.0,563.3 L483.9,563.3 L484.8,563.3 L485.7,563.4 L486.6,563.4 L487.5,563.4 L488.4,563.5 L489.3,563.5 L490.2,563.5 L491.1,563.6 L492.0,563.6 L492.9,563.6 L493.8,563.6 L494.7,563.7 L495.6,563.7 L496.5,563.7 L497.4,563.7 L498.3,563.7 L499.2,563.8 L500.1,563.8 L501.0,563.8 L501.9,563.8 L502.8,563.8 L503.7,563.8 L504.6,563.9 L505.5,563.9 L506.4,563.9 L507.3,563.9 L508.2,563.9 L509.1,563.9 L510.0,563.9 L510.9,563.9 L511.8,564.0 L512.7,564.0 L513.6,564.0 L514.5,564.0 L515.4,564.0 L516.3,564.0 L517.2,564.0 L518.1,564.0 L519.0,564.0 L519.9,564.0 L520.8,564.0 L521.7,564.0 L522.6,564.1 L523.5,564.1 L524.4,564.1 L525.3,564.1 L526.2,564.1 L527.1,564.1 L528.0,564.1 L528.9,564.1 L529.8,564.1 L530.7,564.1 L531.6,564.1 L532.5,564.1 L533.4,564.1 L534.3,564.1 L535.2,564.1 L536.1,564.1 L537.0,564.1 L537.9,564.1 L538.8,564.1 L539.7,564.1 L540.6,564.1 L541.5,564.1 L542.4,564.1 L543.3,564.1 L544.2,564.1 L545.1,564.1 L546.0,564.1 L546.9,564.1 L547.8,564.2 L548.3,564.2" stroke="#311f4c"/>
</g>
<g font-size="7.7" fill="#1e1a1b">
<text transform="matrix(1.13 0 0 1 331.90 575.00)" text-anchor="middle">0</text>
<text transform="matrix(1.13 0 0 1 366.48 575.00)" text-anchor="middle">1</text>
<text transform="matrix(1.13 0 0 1 401.06 575.00)" text-anchor="middle">2</text>
<text transform="matrix(1.13 0 0 1 435.64 575.00)" text-anchor="middle">3</text>
<text transform="matrix(1.13 0 0 1 470.22 575.00)" text-anchor="middle">4</text>
<text transform="matrix(1.13 0 0 1 504.80 575.00)" text-anchor="middle">5</text>
<text transform="matrix(1.13 0 0 1 539.38 575.00)" text-anchor="middle">6</text>
<text transform="matrix(1.13 0 0 1 303.00 567.20)" text-anchor="end">0</text>
<text transform="matrix(1.13 0 0 1 303.00 542.66)" text-anchor="end">0.2</text>
<text transform="matrix(1.13 0 0 1 303.00 518.12)" text-anchor="end">0.4</text>
<text transform="matrix(1.13 0 0 1 303.00 493.58)" text-anchor="end">0.6</text>
<text transform="matrix(1.13 0 0 1 303.00 469.04)" text-anchor="end">0.8</text>
<text transform="matrix(1.13 0 0 1 303.00 444.50)" text-anchor="end">1</text>
<text transform="matrix(1.13 0 0 1 303.00 419.96)" text-anchor="end">1.2</text>
</g>
<text transform="matrix(1.13 0 0 1 308.70 404.60)" font-size="8.0" fill="#1e1a1b">(h) R95p</text>
<text x="427.55" y="584.50" font-size="8.6" fill="#1e1a1b" text-anchor="middle" textLength="43.3" lengthAdjust="spacingAndGlyphs">Change (<tspan font-style="italic">σ</tspan>)</text>
<text transform="translate(288.80,480.90) rotate(-90) scale(1,1.13)" font-size="8.7" fill="#1e1a1b" text-anchor="middle" textLength="25.6" lengthAdjust="spacingAndGlyphs">Density</text>
<rect x="500.60" y="404.20" width="40.7" height="34.3" fill="#fff" stroke="#b9b5b3" stroke-width="1"/>
<path d="M503.30,409.30H519.80" stroke="#0e0c0d" stroke-width="1.9"/>
<text class="lg" x="522.00" y="412.72" font-size="7.6" fill="#2a2627" textLength="16.1" lengthAdjust="spacingAndGlyphs">1.5°C</text>
<path d="M503.30,417.30H519.80" stroke="#47aeaa" stroke-width="1.9"/>
<text class="lg" x="522.00" y="420.72" font-size="7.6" fill="#2a2627" textLength="16.1" lengthAdjust="spacingAndGlyphs">2.0°C</text>
<path d="M503.30,425.30H519.80" stroke="#4d72b4" stroke-width="1.9"/>
<text class="lg" x="522.00" y="428.72" font-size="7.6" fill="#2a2627" textLength="16.1" lengthAdjust="spacingAndGlyphs">3.0°C</text>
<path d="M503.30,433.30H519.80" stroke="#311f4c" stroke-width="1.9"/>
<text class="lg" x="522.00" y="436.72" font-size="7.6" fill="#2a2627" textLength="16.1" lengthAdjust="spacingAndGlyphs">4.0°C</text>
<rect x="580.7" y="399.2" width="241.60" height="166.70" fill="#fff"/>
<clipPath id="clipi"><rect x="580.7" y="398.2" width="241.60" height="169.30"/></clipPath>
<path d="M581.40,565.90v-2.4M581.40,399.20v2.4M606.60,565.90v-2.4M606.60,399.20v2.4M631.80,565.90v-2.4M631.80,399.20v2.4M657.00,565.90v-2.4M657.00,399.20v2.4M682.20,565.90v-2.4M682.20,399.20v2.4M707.40,565.90v-2.4M707.40,399.20v2.4M732.60,565.90v-2.4M732.60,399.20v2.4M757.80,565.90v-2.4M757.80,399.20v2.4M783.00,565.90v-2.4M783.00,399.20v2.4M808.20,565.90v-2.4M808.20,399.20v2.4M580.70,550.02h2.4M822.30,550.02h-2.4M580.70,534.14h2.4M822.30,534.14h-2.4M580.70,518.26h2.4M822.30,518.26h-2.4M580.70,502.38h2.4M822.30,502.38h-2.4M580.70,486.50h2.4M822.30,486.50h-2.4M580.70,470.62h2.4M822.30,470.62h-2.4M580.70,454.74h2.4M822.30,454.74h-2.4M580.70,438.86h2.4M822.30,438.86h-2.4M580.70,422.98h2.4M822.30,422.98h-2.4M580.70,407.10h2.4M822.30,407.10h-2.4" stroke="#8a8684" stroke-width="0.8" fill="none"/>
<rect x="580.7" y="399.2" width="241.60" height="166.70" fill="none" stroke="#b9b5b3" stroke-width="1.4"/>
<g clip-path="url(#clipi)" fill="none" stroke-width="2.1" stroke-linejoin="round">
<path d="M580.7,565.9 L581.6,565.9 L582.5,565.9 L583.4,565.9 L584.3,565.8 L585.2,565.8 L586.1,565.7 L587.0,565.6 L587.9,565.3 L588.7,565.0 L589.5,564.6 L590.2,564.0 L590.9,563.4 L591.4,562.7 L591.9,562.0 L592.4,561.2 L592.8,560.4 L593.2,559.5 L593.5,558.7 L593.8,557.9 L594.1,557.0 L594.4,556.2 L594.6,555.3 L594.9,554.5 L595.1,553.6 L595.3,552.7 L595.5,551.9 L595.8,550.9 L595.9,550.1 L596.1,549.1 L596.3,548.2 L596.5,547.4 L596.7,546.5 L596.8,545.6 L597.0,544.7 L597.1,543.8 L597.3,543.0 L597.4,542.1 L597.6,541.2 L597.7,540.3 L597.9,539.4 L598.0,538.6 L598.1,537.6 L598.3,536.7 L598.4,535.8 L598.5,535.0 L598.6,534.1 L598.7,533.2 L598.9,532.3 L599.0,531.4 L599.1,530.5 L599.2,529.6 L599.3,528.6 L599.4,527.8 L599.6,526.9 L599.7,526.0 L599.8,525.0 L599.9,524.2 L600.0,523.4 L600.1,522.5 L600.2,521.5 L600.3,520.6 L600.4,519.7 L600.5,518.8 L600.6,517.9 L600.7,517.0 L600.8,516.1 L600.9,515.2 L601.0,514.3 L601.1,513.6 L601.2,512.6 L601.3,511.7 L601.4,510.7 L601.5,510.0 L601.6,509.0 L601.7,508.1 L601.7,507.3 L601.8,506.3 L601.9,505.4 L602.0,504.6 L602.1,503.6 L602.2,502.8 L602.3,501.8 L602.4,501.0 L602.5,500.0 L602.6,499.2 L602.7,498.2 L602.7,497.4 L602.8,496.4 L602.9,495.6 L603.0,494.6 L603.1,493.8 L603.2,493.0 L603.3,492.0 L603.4,491.1 L603.5,490.1 L603.5,489.3 L603.6,488.5 L603.7,487.5 L603.8,486.7 L603.9,485.6 L604.0,484.8 L604.1,484.0 L604.2,483.0 L604.2,482.2 L604.3,481.2 L604.4,480.4 L604.5,479.4 L604.6,478.6 L604.7,477.7 L604.8,476.7 L604.9,475.9 L605.0,474.9 L605.0,474.1 L605.1,473.1 L605.2,472.4 L605.3,471.4 L605.4,470.6 L605.5,469.6 L605.6,468.6 L605.7,467.9 L605.8,466.9 L605.9,465.9 L606.0,465.2 L606.1,464.2 L606.2,463.3 L606.2,462.5 L606.3,461.6 L606.4,460.7 L606.5,459.8 L606.6,458.8 L606.7,457.9 L606.8,457.0 L606.9,456.2 L607.0,455.3 L607.1,454.4 L607.2,453.6 L607.4,452.5 L607.5,451.7 L607.6,450.9 L607.7,449.9 L607.8,449.1 L607.9,448.1 L608.0,447.3 L608.1,446.4 L608.2,445.5 L608.4,444.6 L608.5,443.7 L608.6,442.8 L608.7,442.0 L608.9,441.0 L609.0,440.2 L609.1,439.2 L609.3,438.3 L609.4,437.5 L609.5,436.6 L609.7,435.6 L609.8,434.8 L610.0,434.0 L610.2,433.1 L610.3,432.2 L610.5,431.3 L610.7,430.4 L610.9,429.5 L611.1,428.6 L611.4,427.8 L611.6,426.9 L611.9,426.1 L612.2,425.3 L612.6,424.5 L613.1,423.7 L613.9,423.3 L614.7,423.7 L615.2,424.4 L615.6,425.2 L616.0,426.0 L616.3,426.9 L616.6,427.8 L616.9,428.6 L617.1,429.5 L617.3,430.3 L617.6,431.2 L617.8,432.1 L618.0,432.9 L618.2,433.8 L618.4,434.7 L618.6,435.6 L618.8,436.5 L618.9,437.4 L619.1,438.2 L619.3,439.1 L619.5,440.1 L619.6,440.9 L619.8,441.7 L620.0,442.7 L620.1,443.6 L620.3,444.5 L620.4,445.3 L620.6,446.2 L620.7,447.1 L620.9,448.0 L621.0,448.8 L621.2,449.8 L621.3,450.6 L621.5,451.6 L621.6,452.4 L621.8,453.4 L621.9,454.2 L622.1,455.0 L622.2,456.0 L622.4,456.9 L622.5,457.7 L622.7,458.6 L622.8,459.6 L623.0,460.4 L623.1,461.3 L623.2,462.2 L623.4,463.0 L623.5,464.0 L623.7,464.9 L623.8,465.8 L624.0,466.6 L624.1,467.5 L624.2,468.4 L624.4,469.4 L624.5,470.2 L624.7,471.1 L624.8,471.9 L625.0,472.8 L625.1,473.8 L625.3,474.6 L625.4,475.5 L625.6,476.5 L625.7,477.3 L625.8,478.2 L626.0,479.1 L626.1,480.0 L626.3,480.8 L626.4,481.8 L626.6,482.6 L626.7,483.5 L626.9,484.4 L627.0,485.3 L627.2,486.1 L627.3,487.1 L627.5,488.0 L627.7,488.9 L627.8,489.7 L628.0,490.6 L628.1,491.5 L628.3,492.4 L628.4,493.3 L628.6,494.2 L628.8,495.0 L628.9,495.9 L629.1,496.8 L629.3,497.7 L629.4,498.6 L629.6,499.4 L629.8,500.3 L629.9,501.2 L630.1,502.1 L630.3,503.0 L630.5,503.9 L630.6,504.7 L630.8,505.6 L631.0,506.5 L631.2,507.4 L631.4,508.3 L631.5,509.2 L631.7,510.0 L631.9,510.9 L632.1,511.8 L632.3,512.6 L632.5,513.5 L632.7,514.4 L632.9,515.3 L633.1,516.2 L633.3,517.1 L633.5,517.9 L633.7,518.8 L634.0,519.7 L634.2,520.6 L634.4,521.4 L634.6,522.3 L634.9,523.2 L635.1,524.0 L635.3,524.9 L635.6,525.7 L635.8,526.6 L636.1,527.5 L636.3,528.4 L636.6,529.2 L636.8,530.1 L637.1,530.9 L637.4,531.8 L637.7,532.7 L637.9,533.5 L638.2,534.3 L638.5,535.2 L638.8,536.0 L639.1,536.9 L639.4,537.7 L639.8,538.6 L640.1,539.4 L640.4,540.2 L640.8,541.1 L641.1,541.9 L641.5,542.7 L641.9,543.6 L642.3,544.3 L642.7,545.2 L643.1,545.9 L643.5,546.8 L643.9,547.5 L644.4,548.3 L644.9,549.1 L645.3,549.9 L645.8,550.6 L646.3,551.4 L646.9,552.1 L647.4,552.8 L648.0,553.5 L648.5,554.2 L649.1,554.9 L649.7,555.5 L650.4,556.2 L651.0,556.8 L651.7,557.4 L652.4,557.9 L653.1,558.5 L653.8,559.0 L654.6,559.5 L655.4,560.0 L656.1,560.4 L656.9,560.9 L657.7,561.3 L658.5,561.6 L659.4,562.0 L660.2,562.3 L661.1,562.6 L661.9,562.9 L662.8,563.2 L663.7,563.4 L664.5,563.6 L665.4,563.8 L666.3,564.0 L667.2,564.2 L668.1,564.3 L668.9,564.5 L669.8,564.6 L670.7,564.7 L671.6,564.8 L672.5,564.9 L673.4,565.0 L674.3,565.1 L675.2,565.2 L676.1,565.2 L677.0,565.3 L677.9,565.3 L678.8,565.4 L679.7,565.4 L680.6,565.5 L681.5,565.5 L682.4,565.6 L683.3,565.6 L684.2,565.6 L685.1,565.6 L686.0,565.7 L686.9,565.7 L687.8,565.7 L688.7,565.7 L689.6,565.7 L690.5,565.8 L691.4,565.8 L692.3,565.8 L693.2,565.8 L694.1,565.8 L695.0,565.8 L695.9,565.8 L696.8,565.8 L697.7,565.8 L698.6,565.8 L699.5,565.8 L700.4,565.9 L701.3,565.9 L702.2,565.9 L703.1,565.9 L704.0,565.9 L704.9,565.9 L705.8,565.9 L706.7,565.9 L707.6,565.9 L708.5,565.9 L709.4,565.9 L710.3,565.9 L711.2,565.9 L712.1,565.9 L713.0,565.9 L713.9,565.9 L714.8,565.9 L715.7,565.9 L716.6,565.9 L717.5,565.9 L718.4,565.9 L719.3,565.9 L720.2,565.9 L721.1,565.9 L722.0,565.9 L722.9,565.9 L723.8,565.9 L724.7,565.9 L725.6,565.9 L726.5,565.9 L727.4,565.9 L728.3,565.9 L729.2,565.9 L730.1,565.9 L731.0,565.9 L731.9,565.9 L732.8,565.9 L733.7,565.9 L734.6,565.9 L735.5,565.9 L736.4,565.9 L737.3,565.9 L738.2,565.9 L739.1,565.9 L740.0,565.9 L740.9,565.9 L741.8,565.9 L742.7,565.9 L743.6,565.9 L744.5,565.9 L745.4,565.9 L746.3,565.9 L747.2,565.9 L748.1,565.9 L749.0,565.9 L749.9,565.9 L750.8,565.9 L751.7,565.9 L752.6,565.9 L753.5,565.9 L754.4,565.9 L755.3,565.9 L756.2,565.9 L757.1,565.9 L758.0,565.9 L758.9,565.9 L759.8,565.9 L760.7,565.9 L761.6,565.9 L762.5,565.9 L763.4,565.9 L764.3,565.9 L765.2,565.9 L766.1,565.9 L767.0,565.9 L767.9,565.9 L768.8,565.9 L769.7,565.9 L770.6,565.9 L771.5,565.9 L772.4,565.9 L773.3,565.9 L774.2,565.9 L775.1,565.9 L776.0,565.9 L776.9,565.9 L777.8,565.9 L778.7,565.9 L779.6,565.9 L780.5,565.9 L781.4,565.9 L782.3,565.9 L783.2,565.9 L784.1,565.9 L785.0,565.9 L785.9,565.9 L786.8,565.9 L787.7,565.9 L788.6,565.9 L789.5,565.9 L790.4,565.9 L791.3,565.9 L792.2,565.9 L793.1,565.9 L794.0,565.9 L794.9,565.9 L795.8,565.9 L796.7,565.9 L797.6,565.9 L798.5,565.9 L799.4,565.9 L800.3,565.9 L801.2,565.9 L802.1,565.9 L803.0,565.9 L803.9,565.9 L804.8,565.9 L805.7,565.9 L806.6,565.9 L807.5,565.9 L808.4,565.9 L809.3,565.9 L810.2,565.9 L811.1,565.9 L812.0,565.9 L812.9,565.9 L813.8,565.9 L814.7,565.9 L815.6,565.9 L816.5,565.9 L817.4,565.9 L818.3,565.9 L819.2,565.9 L820.1,565.9 L821.0,565.9 L821.9,565.9 L822.3,565.9" stroke="#0e0c0d"/>
<path d="M580.7,565.9 L581.6,565.9 L582.5,565.9 L583.4,565.9 L584.3,565.9 L585.2,565.9 L586.1,565.9 L587.0,565.9 L587.9,565.9 L588.8,565.9 L589.7,565.9 L590.6,565.9 L591.5,565.9 L592.4,565.8 L593.3,565.8 L594.2,565.6 L595.0,565.3 L595.8,564.9 L596.5,564.3 L597.1,563.6 L597.5,562.8 L598.0,562.0 L598.3,561.2 L598.6,560.3 L598.9,559.5 L599.2,558.6 L599.4,557.7 L599.6,556.9 L599.8,555.9 L600.0,555.1 L600.2,554.2 L600.4,553.4 L600.6,552.4 L600.7,551.5 L600.9,550.7 L601.0,549.7 L601.2,548.8 L601.3,547.9 L601.4,547.1 L601.6,546.1 L601.7,545.3 L601.8,544.4 L601.9,543.5 L602.0,542.7 L602.1,541.7 L602.3,540.8 L602.4,539.9 L602.5,539.1 L602.6,538.2 L602.7,537.2 L602.8,536.4 L602.9,535.5 L603.0,534.6 L603.1,533.7 L603.2,532.7 L603.2,531.9 L603.3,530.9 L603.4,530.1 L603.5,529.1 L603.6,528.3 L603.7,527.5 L603.8,526.4 L603.9,525.5 L603.9,524.7 L604.0,523.8 L604.1,522.9 L604.2,522.0 L604.3,521.1 L604.3,520.2 L604.4,519.3 L604.5,518.4 L604.6,517.5 L604.7,516.5 L604.7,515.8 L604.8,514.9 L604.9,513.9 L605.0,513.0 L605.0,512.2 L605.1,511.3 L605.2,510.3 L605.2,509.5 L605.3,508.6 L605.4,507.6 L605.5,506.8 L605.5,505.8 L605.6,505.0 L605.7,504.0 L605.7,503.3 L605.8,502.2 L605.9,501.5 L606.0,500.4 L606.0,499.7 L606.1,498.6 L606.2,497.8 L606.2,496.8 L606.3,496.0 L606.4,495.0 L606.4,494.2 L606.5,493.4 L606.6,492.3 L606.6,491.5 L606.7,490.5 L606.8,489.7 L606.8,488.9 L606.9,487.8 L607.0,487.0 L607.0,486.2 L607.1,485.1 L607.2,484.3 L607.2,483.5 L607.3,482.5 L607.4,481.7 L607.5,480.6 L607.5,479.8 L607.6,479.0 L607.7,477.9 L607.7,477.1 L607.8,476.3 L607.9,475.3 L607.9,474.5 L608.0,473.4 L608.1,472.6 L608.1,471.8 L608.2,470.8 L608.3,470.0 L608.3,468.9 L608.4,468.2 L608.5,467.4 L608.5,466.3 L608.6,465.6 L608.7,464.5 L608.7,463.8 L608.8,462.7 L608.9,462.0 L609.0,460.9 L609.0,460.2 L609.1,459.2 L609.2,458.2 L609.2,457.4 L609.3,456.4 L609.4,455.7 L609.5,454.7 L609.5,453.7 L609.6,453.0 L609.7,452.0 L609.8,451.1 L609.8,450.1 L609.9,449.4 L610.0,448.5 L610.1,447.5 L610.1,446.6 L610.2,445.7 L610.3,444.8 L610.4,443.9 L610.5,443.0 L610.5,442.1 L610.6,441.3 L610.7,440.4 L610.8,439.5 L610.9,438.5 L611.0,437.6 L611.0,436.8 L611.1,435.8 L611.2,435.0 L611.3,434.2 L611.4,433.2 L611.5,432.3 L611.6,431.5 L611.7,430.6 L611.8,429.7 L611.9,428.8 L612.0,427.9 L612.1,427.0 L612.2,426.0 L612.3,425.2 L612.4,424.3 L612.5,423.4 L612.6,422.5 L612.8,421.6 L612.9,420.7 L613.0,419.9 L613.1,418.9 L613.3,418.0 L613.4,417.1 L613.6,416.3 L613.7,415.4 L613.9,414.5 L614.0,413.7 L614.2,412.7 L614.4,411.9 L614.6,411.0 L614.9,410.2 L615.2,409.3 L615.5,408.5 L615.9,407.7 L616.5,407.0 L617.3,407.2 L617.8,407.9 L618.2,408.8 L618.5,409.6 L618.8,410.5 L619.0,411.3 L619.3,412.2 L619.5,413.1 L619.7,414.0 L619.9,414.8 L620.0,415.7 L620.2,416.6 L620.4,417.5 L620.6,418.4 L620.7,419.3 L620.9,420.1 L621.0,421.1 L621.2,421.9 L621.3,422.9 L621.5,423.8 L621.6,424.6 L621.7,425.6 L621.9,426.3 L622.0,427.3 L622.1,428.2 L622.3,429.0 L622.4,430.0 L622.5,430.8 L622.6,431.7 L622.8,432.7 L622.9,433.5 L623.0,434.4 L623.1,435.3 L623.3,436.1 L623.4,437.0 L623.5,437.9 L623.6,438.8 L623.7,439.7 L623.9,440.6 L624.0,441.5 L624.1,442.4 L624.2,443.3 L624.3,444.3 L624.5,445.2 L624.6,445.9 L624.7,446.9 L624.8,447.8 L624.9,448.7 L625.0,449.6 L625.1,450.4 L625.3,451.3 L625.4,452.3 L625.5,453.2 L625.6,454.0 L625.7,454.9 L625.8,455.8 L626.0,456.8 L626.1,457.7 L626.2,458.5 L626.3,459.4 L626.4,460.3 L626.5,461.2 L626.7,462.1 L626.8,462.9 L626.9,463.8 L627.0,464.7 L627.1,465.7 L627.2,466.6 L627.4,467.5 L627.5,468.4 L627.6,469.1 L627.7,470.0 L627.8,470.9 L627.9,471.8 L628.1,472.7 L628.2,473.6 L628.3,474.5 L628.4,475.5 L628.6,476.4 L628.7,477.3 L628.8,478.1 L628.9,479.0 L629.0,479.9 L629.2,480.9 L629.3,481.7 L629.4,482.5 L629.6,483.5 L629.7,484.4 L629.8,485.2 L629.9,486.1 L630.1,487.0 L630.2,487.9 L630.3,488.9 L630.5,489.7 L630.6,490.6 L630.7,491.5 L630.9,492.4 L631.0,493.2 L631.1,494.1 L631.3,495.0 L631.4,495.9 L631.6,496.8 L631.7,497.7 L631.9,498.6 L632.0,499.5 L632.1,500.3 L632.3,501.3 L632.4,502.1 L632.6,503.0 L632.8,504.0 L632.9,504.8 L633.1,505.7 L633.2,506.6 L633.4,507.5 L633.5,508.3 L633.7,509.2 L633.9,510.1 L634.0,511.0 L634.2,511.9 L634.4,512.8 L634.5,513.6 L634.7,514.5 L634.9,515.4 L635.1,516.3 L635.3,517.1 L635.4,518.0 L635.6,518.9 L635.8,519.8 L636.0,520.7 L636.2,521.6 L636.4,522.4 L636.6,523.3 L636.8,524.2 L637.0,525.1 L637.3,526.0 L637.5,526.8 L637.7,527.7 L637.9,528.6 L638.1,529.4 L638.4,530.3 L638.6,531.2 L638.9,532.0 L639.1,532.9 L639.4,533.7 L639.6,534.6 L639.9,535.5 L640.2,536.3 L640.4,537.2 L640.7,538.0 L641.0,538.9 L641.3,539.7 L641.6,540.6 L642.0,541.4 L642.3,542.3 L642.6,543.1 L643.0,543.9 L643.3,544.8 L643.7,545.6 L644.1,546.4 L644.4,547.2 L644.9,548.0 L645.3,548.8 L645.7,549.6 L646.1,550.3 L646.6,551.1 L647.1,551.9 L647.6,552.6 L648.1,553.4 L648.6,554.1 L649.2,554.8 L649.8,555.5 L650.4,556.2 L651.0,556.8 L651.6,557.5 L652.3,558.1 L653.0,558.6 L653.7,559.2 L654.4,559.7 L655.1,560.2 L655.9,560.7 L656.7,561.2 L657.5,561.6 L658.3,562.0 L659.1,562.3 L660.0,562.6 L660.8,563.0 L661.7,563.2 L662.5,563.5 L663.4,563.7 L664.3,563.9 L665.2,564.1 L666.0,564.3 L666.9,564.5 L667.8,564.6 L668.7,564.7 L669.6,564.8 L670.5,564.9 L671.4,565.0 L672.3,565.1 L673.2,565.2 L674.1,565.3 L675.0,565.3 L675.9,565.4 L676.8,565.4 L677.7,565.5 L678.6,565.5 L679.5,565.6 L680.4,565.6 L681.3,565.6 L682.2,565.7 L683.1,565.7 L684.0,565.7 L684.9,565.7 L685.8,565.7 L686.7,565.8 L687.6,565.8 L688.5,565.8 L689.4,565.8 L690.3,565.8 L691.2,565.8 L692.1,565.8 L693.0,565.8 L693.9,565.8 L694.8,565.8 L695.7,565.9 L696.6,565.9 L697.5,565.9 L698.4,565.9 L699.3,565.9 L700.2,565.9 L701.1,565.9 L702.0,565.9 L702.9,565.9 L703.8,565.9 L704.7,565.9 L705.6,565.9 L706.5,565.9 L707.4,565.9 L708.3,565.9 L709.2,565.9 L710.1,565.9 L711.0,565.9 L711.9,565.9 L712.8,565.9 L713.7,565.9 L714.6,565.9 L715.5,565.9 L716.4,565.9 L717.3,565.9 L718.2,565.9 L719.1,565.9 L720.0,565.9 L720.9,565.9 L721.8,565.9 L722.7,565.9 L723.6,565.9 L724.5,565.9 L725.4,565.9 L726.3,565.9 L727.2,565.9 L728.1,565.9 L729.0,565.9 L729.9,565.9 L730.8,565.9 L731.7,565.9 L732.6,565.9 L733.5,565.9 L734.4,565.9 L735.3,565.9 L736.2,565.9 L737.1,565.9 L738.0,565.9 L738.9,565.9 L739.8,565.9 L740.7,565.9 L741.6,565.9 L742.5,565.9 L743.4,565.9 L744.3,565.9 L745.2,565.9 L746.1,565.9 L747.0,565.9 L747.9,565.9 L748.8,565.9 L749.7,565.9 L750.6,565.9 L751.5,565.9 L752.4,565.9 L753.3,565.9 L754.2,565.9 L755.1,565.9 L756.0,565.9 L756.9,565.9 L757.8,565.9 L758.7,565.9 L759.6,565.9 L760.5,565.9 L761.4,565.9 L762.3,565.9 L763.2,565.9 L764.1,565.9 L765.0,565.9 L765.9,565.9 L766.8,565.9 L767.7,565.9 L768.6,565.9 L769.5,565.9 L770.4,565.9 L771.3,565.9 L772.2,565.9 L773.1,565.9 L774.0,565.9 L774.9,565.9 L775.8,565.9 L776.7,565.9 L777.6,565.9 L778.5,565.9 L779.4,565.9 L780.3,565.9 L781.2,565.9 L782.1,565.9 L783.0,565.9 L783.9,565.9 L784.8,565.9 L785.7,565.9 L786.6,565.9 L787.5,565.9 L788.4,565.9 L789.3,565.9 L790.2,565.9 L791.1,565.9 L792.0,565.9 L792.9,565.9 L793.8,565.9 L794.7,565.9 L795.6,565.9 L796.5,565.9 L797.4,565.9 L798.3,565.9 L799.2,565.9 L800.1,565.9 L801.0,565.9 L801.9,565.9 L802.8,565.9 L803.7,565.9 L804.6,565.9 L805.5,565.9 L806.4,565.9 L807.3,565.9 L808.2,565.9 L809.1,565.9 L810.0,565.9 L810.9,565.9 L811.8,565.9 L812.7,565.9 L813.6,565.9 L814.5,565.9 L815.4,565.9 L816.3,565.9 L817.2,565.9 L818.1,565.9 L819.0,565.9 L819.9,565.9 L820.8,565.9 L821.7,565.9 L822.3,565.9" stroke="#47aeaa"/>
<path d="M580.7,565.9 L581.6,565.9 L582.5,565.9 L583.4,565.9 L584.3,565.9 L585.2,565.9 L586.1,565.9 L587.0,565.9 L587.9,565.9 L588.8,565.8 L589.7,565.8 L590.6,565.7 L591.5,565.5 L592.4,565.3 L593.2,565.0 L594.0,564.7 L594.8,564.2 L595.5,563.6 L596.2,563.0 L596.7,562.3 L597.3,561.6 L597.8,560.8 L598.3,560.1 L598.7,559.3 L599.1,558.5 L599.5,557.6 L599.8,556.8 L600.2,556.0 L600.5,555.2 L600.8,554.3 L601.1,553.4 L601.4,552.6 L601.7,551.8 L601.9,550.9 L602.2,550.0 L602.5,549.2 L602.7,548.3 L603.0,547.4 L603.2,546.6 L603.4,545.7 L603.7,544.8 L603.9,544.0 L604.1,543.1 L604.3,542.2 L604.5,541.4 L604.7,540.4 L604.9,539.6 L605.1,538.7 L605.3,537.9 L605.5,537.0 L605.7,536.1 L605.9,535.2 L606.1,534.3 L606.3,533.4 L606.5,532.5 L606.7,531.7 L606.9,530.8 L607.1,529.9 L607.3,529.0 L607.4,528.2 L607.6,527.3 L607.8,526.4 L608.0,525.5 L608.2,524.6 L608.4,523.7 L608.5,522.9 L608.7,522.0 L608.9,521.1 L609.1,520.2 L609.3,519.3 L609.4,518.5 L609.6,517.6 L609.8,516.7 L610.0,515.8 L610.2,515.0 L610.3,514.1 L610.5,513.1 L610.7,512.2 L610.9,511.4 L611.1,510.5 L611.3,509.7 L611.5,508.7 L611.6,507.9 L611.8,507.0 L612.0,506.1 L612.2,505.2 L612.4,504.4 L612.6,503.5 L612.8,502.6 L613.0,501.7 L613.2,500.8 L613.4,500.0 L613.6,499.1 L613.8,498.3 L614.0,497.3 L614.2,496.5 L614.4,495.6 L614.7,494.7 L614.9,493.9 L615.1,493.0 L615.3,492.1 L615.6,491.2 L615.8,490.4 L616.1,489.5 L616.3,488.6 L616.6,487.8 L616.8,486.9 L617.1,486.1 L617.4,485.2 L617.7,484.3 L618.0,483.6 L618.3,482.7 L618.6,481.8 L618.9,481.0 L619.3,480.2 L619.7,479.4 L620.1,478.5 L620.5,477.7 L620.9,477.0 L621.4,476.2 L621.9,475.5 L622.5,474.8 L623.2,474.2 L623.9,473.7 L624.7,473.3 L625.6,473.2 L626.5,473.4 L627.3,473.8 L628.0,474.3 L628.7,474.9 L629.3,475.6 L629.8,476.3 L630.3,477.1 L630.8,477.8 L631.2,478.6 L631.7,479.4 L632.1,480.2 L632.5,481.0 L632.9,481.8 L633.3,482.6 L633.6,483.5 L634.0,484.3 L634.4,485.1 L634.7,485.9 L635.1,486.8 L635.4,487.6 L635.8,488.5 L636.1,489.3 L636.4,490.1 L636.8,491.0 L637.1,491.8 L637.4,492.6 L637.7,493.5 L638.1,494.3 L638.4,495.2 L638.7,496.0 L639.0,496.8 L639.3,497.7 L639.7,498.5 L640.0,499.3 L640.3,500.2 L640.6,501.0 L640.9,501.9 L641.2,502.7 L641.6,503.6 L641.9,504.4 L642.2,505.3 L642.5,506.1 L642.8,506.9 L643.2,507.8 L643.5,508.6 L643.8,509.4 L644.1,510.3 L644.5,511.1 L644.8,512.0 L645.1,512.8 L645.5,513.6 L645.8,514.5 L646.2,515.3 L646.5,516.1 L646.9,517.0 L647.2,517.8 L647.6,518.6 L647.9,519.5 L648.3,520.3 L648.6,521.1 L649.0,521.9 L649.4,522.7 L649.7,523.5 L650.1,524.4 L650.5,525.2 L650.9,526.0 L651.3,526.8 L651.7,527.6 L652.1,528.4 L652.5,529.2 L652.9,530.0 L653.3,530.8 L653.7,531.6 L654.2,532.4 L654.6,533.2 L655.1,534.0 L655.5,534.7 L656.0,535.5 L656.4,536.3 L656.9,537.1 L657.4,537.8 L657.9,538.6 L658.4,539.3 L658.9,540.1 L659.4,540.8 L659.9,541.5 L660.4,542.3 L661.0,543.0 L661.5,543.7 L662.1,544.4 L662.6,545.1 L663.2,545.8 L663.8,546.5 L664.4,547.1 L665.0,547.8 L665.6,548.5 L666.3,549.1 L666.9,549.7 L667.6,550.3 L668.2,550.9 L668.9,551.5 L669.6,552.1 L670.3,552.7 L671.0,553.2 L671.7,553.8 L672.5,554.3 L673.2,554.8 L674.0,555.3 L674.7,555.8 L675.5,556.2 L676.3,556.7 L677.1,557.1 L677.9,557.5 L678.7,557.9 L679.5,558.3 L680.3,558.7 L681.1,559.0 L682.0,559.4 L682.8,559.7 L683.7,560.0 L684.5,560.3 L685.4,560.6 L686.2,560.9 L687.1,561.1 L687.9,561.4 L688.8,561.6 L689.7,561.8 L690.6,562.0 L691.4,562.2 L692.3,562.4 L693.2,562.6 L694.1,562.8 L695.0,562.9 L695.9,563.1 L696.7,563.2 L697.6,563.4 L698.5,563.5 L699.4,563.6 L700.3,563.8 L701.2,563.9 L702.1,564.0 L703.0,564.1 L703.9,564.2 L704.8,564.3 L705.7,564.4 L706.6,564.4 L707.5,564.5 L708.4,564.6 L709.3,564.7 L710.2,564.7 L711.1,564.8 L712.0,564.8 L712.9,564.9 L713.8,565.0 L714.7,565.0 L715.5,565.0 L716.4,565.1 L717.3,565.1 L718.2,565.2 L719.1,565.2 L720.0,565.2 L720.9,565.3 L721.8,565.3 L722.7,565.3 L723.6,565.4 L724.5,565.4 L725.4,565.4 L726.3,565.5 L727.2,565.5 L728.1,565.5 L729.0,565.5 L729.9,565.5 L730.8,565.6 L731.7,565.6 L732.6,565.6 L733.5,565.6 L734.4,565.6 L735.3,565.6 L736.2,565.7 L737.1,565.7 L738.0,565.7 L738.9,565.7 L739.8,565.7 L740.7,565.7 L741.6,565.7 L742.5,565.7 L743.4,565.7 L744.3,565.7 L745.2,565.8 L746.1,565.8 L747.0,565.8 L747.9,565.8 L748.8,565.8 L749.7,565.8 L750.6,565.8 L751.5,565.8 L752.4,565.8 L753.3,565.8 L754.2,565.8 L755.1,565.8 L756.0,565.8 L756.9,565.8 L757.8,565.8 L758.7,565.8 L759.6,565.8 L760.5,565.8 L761.4,565.8 L762.3,565.8 L763.2,565.8 L764.1,565.9 L765.0,565.9 L765.9,565.9 L766.8,565.9 L767.7,565.9 L768.6,565.9 L769.5,565.9 L770.4,565.9 L771.3,565.9 L772.2,565.9 L773.1,565.9 L774.0,565.9 L774.9,565.9 L775.8,565.9 L776.7,565.9 L777.6,565.9 L778.5,565.9 L779.4,565.9 L780.3,565.9 L781.2,565.9 L782.1,565.9 L783.0,565.9 L783.9,565.9 L784.8,565.9 L785.7,565.9 L786.6,565.9 L787.5,565.9 L788.4,565.9 L789.3,565.9 L790.2,565.9 L791.1,565.9 L792.0,565.9 L792.9,565.9 L793.8,565.9 L794.7,565.9 L795.6,565.9 L796.5,565.9 L797.4,565.9 L798.3,565.9 L799.2,565.9 L800.1,565.9 L801.0,565.9 L801.9,565.9 L802.8,565.9 L803.7,565.9 L804.6,565.9 L805.5,565.9 L806.4,565.9 L807.3,565.9 L808.2,565.9 L809.1,565.9 L810.0,565.9 L810.9,565.9 L811.8,565.9 L812.7,565.9 L813.6,565.9 L814.5,565.9 L815.4,565.9 L816.3,565.9 L817.2,565.9 L818.1,565.9 L819.0,565.9 L819.9,565.9 L820.8,565.9 L821.7,565.9 L822.3,565.9" stroke="#4d72b4"/>
<path d="M580.7,565.8 L581.6,565.8 L582.5,565.7 L583.4,565.6 L584.3,565.5 L585.2,565.4 L586.1,565.3 L587.0,565.1 L587.8,564.9 L588.7,564.6 L589.5,564.3 L590.3,563.9 L591.1,563.5 L591.9,563.0 L592.6,562.5 L593.3,561.9 L594.0,561.3 L594.7,560.7 L595.3,560.0 L595.9,559.3 L596.4,558.7 L597.0,557.9 L597.5,557.2 L598.0,556.4 L598.5,555.7 L599.0,554.9 L599.4,554.1 L599.9,553.4 L600.3,552.6 L600.7,551.8 L601.1,550.9 L601.5,550.2 L601.9,549.3 L602.3,548.5 L602.6,547.7 L603.0,546.9 L603.4,546.0 L603.7,545.2 L604.1,544.4 L604.4,543.6 L604.8,542.7 L605.1,541.9 L605.4,541.1 L605.8,540.2 L606.1,539.4 L606.4,538.5 L606.7,537.7 L607.0,536.8 L607.4,536.0 L607.7,535.2 L608.0,534.3 L608.3,533.5 L608.6,532.6 L608.9,531.8 L609.2,530.9 L609.5,530.1 L609.8,529.2 L610.1,528.4 L610.4,527.6 L610.8,526.7 L611.1,525.9 L611.4,525.0 L611.7,524.2 L612.0,523.3 L612.3,522.5 L612.6,521.6 L612.9,520.8 L613.3,520.0 L613.6,519.1 L613.9,518.3 L614.2,517.5 L614.6,516.6 L614.9,515.8 L615.3,514.9 L615.6,514.1 L616.0,513.3 L616.3,512.5 L616.7,511.6 L617.0,510.8 L617.4,510.0 L617.8,509.2 L618.2,508.4 L618.6,507.6 L619.0,506.8 L619.4,506.0 L619.9,505.2 L620.3,504.4 L620.8,503.7 L621.3,502.9 L621.8,502.2 L622.3,501.5 L622.9,500.7 L623.5,500.1 L624.1,499.4 L624.8,498.8 L625.5,498.3 L626.2,497.8 L627.0,497.4 L627.9,497.1 L628.8,496.9 L629.7,496.9 L630.6,497.0 L631.4,497.1 L632.3,497.4 L633.1,497.8 L633.9,498.2 L634.7,498.7 L635.4,499.2 L636.2,499.7 L636.8,500.3 L637.5,500.9 L638.2,501.5 L638.8,502.1 L639.4,502.8 L640.1,503.5 L640.7,504.1 L641.3,504.8 L641.8,505.5 L642.4,506.2 L643.0,506.9 L643.5,507.6 L644.1,508.3 L644.7,509.0 L645.2,509.7 L645.7,510.4 L646.3,511.1 L646.8,511.9 L647.4,512.6 L647.9,513.3 L648.4,514.1 L648.9,514.8 L649.5,515.5 L650.0,516.2 L650.5,517.0 L651.1,517.7 L651.6,518.4 L652.1,519.1 L652.6,519.9 L653.2,520.6 L653.7,521.3 L654.2,522.0 L654.8,522.8 L655.3,523.5 L655.9,524.2 L656.4,524.9 L656.9,525.7 L657.5,526.4 L658.0,527.1 L658.6,527.8 L659.1,528.5 L659.7,529.2 L660.3,529.9 L660.8,530.6 L661.4,531.3 L662.0,532.0 L662.6,532.7 L663.1,533.4 L663.7,534.1 L664.3,534.7 L664.9,535.4 L665.5,536.1 L666.1,536.7 L666.7,537.4 L667.4,538.0 L668.0,538.7 L668.6,539.3 L669.3,540.0 L669.9,540.6 L670.5,541.2 L671.2,541.8 L671.9,542.5 L672.5,543.1 L673.2,543.7 L673.9,544.2 L674.6,544.8 L675.3,545.4 L676.0,546.0 L676.7,546.5 L677.4,547.1 L678.1,547.6 L678.8,548.2 L679.5,548.7 L680.3,549.2 L681.0,549.7 L681.8,550.2 L682.5,550.7 L683.3,551.2 L684.1,551.6 L684.8,552.1 L685.6,552.5 L686.4,553.0 L687.2,553.4 L688.0,553.8 L688.8,554.2 L689.6,554.6 L690.4,555.0 L691.2,555.4 L692.1,555.7 L692.9,556.1 L693.7,556.4 L694.6,556.8 L695.4,557.1 L696.2,557.4 L697.1,557.7 L697.9,558.0 L698.8,558.3 L699.6,558.6 L700.5,558.9 L701.4,559.1 L702.2,559.4 L703.1,559.6 L704.0,559.9 L704.8,560.1 L705.7,560.3 L706.6,560.5 L707.4,560.7 L708.3,560.9 L709.2,561.1 L710.1,561.3 L711.0,561.5 L711.9,561.7 L712.7,561.8 L713.6,562.0 L714.5,562.1 L715.4,562.3 L716.3,562.4 L717.2,562.6 L718.1,562.7 L719.0,562.8 L719.9,562.9 L720.7,563.1 L721.6,563.2 L722.5,563.3 L723.4,563.4 L724.3,563.5 L725.2,563.6 L726.1,563.7 L727.0,563.8 L727.9,563.8 L728.8,563.9 L729.7,564.0 L730.6,564.1 L731.5,564.1 L732.4,564.2 L733.3,564.3 L734.2,564.4 L735.1,564.4 L736.0,564.5 L736.9,564.5 L737.8,564.6 L738.7,564.6 L739.6,564.7 L740.5,564.7 L741.4,564.8 L742.3,564.8 L743.2,564.9 L744.1,564.9 L745.0,565.0 L745.9,565.0 L746.8,565.0 L747.7,565.1 L748.6,565.1 L749.5,565.1 L750.4,565.2 L751.3,565.2 L752.2,565.2 L753.1,565.2 L754.0,565.3 L754.9,565.3 L755.8,565.3 L756.7,565.3 L757.6,565.4 L758.5,565.4 L759.4,565.4 L760.3,565.4 L761.2,565.4 L762.1,565.5 L763.0,565.5 L763.9,565.5 L764.8,565.5 L765.7,565.5 L766.6,565.5 L767.5,565.6 L768.4,565.6 L769.3,565.6 L770.2,565.6 L771.1,565.6 L772.0,565.6 L772.9,565.6 L773.8,565.6 L774.7,565.7 L775.6,565.7 L776.5,565.7 L777.4,565.7 L778.3,565.7 L779.2,565.7 L780.1,565.7 L781.0,565.7 L781.9,565.7 L782.8,565.7 L783.7,565.7 L784.6,565.7 L785.5,565.8 L786.4,565.8 L787.3,565.8 L788.2,565.8 L789.1,565.8 L790.0,565.8 L790.9,565.8 L791.8,565.8 L792.7,565.8 L793.6,565.8 L794.5,565.8 L795.4,565.8 L796.3,565.8 L797.2,565.8 L798.1,565.8 L799.0,565.8 L799.9,565.8 L800.8,565.8 L801.7,565.8 L802.6,565.8 L803.5,565.8 L804.4,565.8 L805.3,565.8 L806.2,565.8 L807.1,565.8 L808.0,565.8 L808.9,565.8 L809.8,565.9 L810.7,565.9 L811.6,565.9 L812.5,565.9 L813.4,565.9 L814.3,565.9 L815.2,565.9 L816.1,565.9 L817.0,565.9 L817.9,565.9 L818.8,565.9 L819.7,565.9 L820.6,565.9 L821.5,565.9 L822.3,565.9" stroke="#311f4c"/>
</g>
<g font-size="7.7" fill="#1e1a1b">
<text transform="matrix(1.13 0 0 1 581.40 576.70)" text-anchor="middle">-1</text>
<text transform="matrix(1.13 0 0 1 606.60 576.70)" text-anchor="middle">0</text>
<text transform="matrix(1.13 0 0 1 631.80 576.70)" text-anchor="middle">1</text>
<text transform="matrix(1.13 0 0 1 657.00 576.70)" text-anchor="middle">2</text>
<text transform="matrix(1.13 0 0 1 682.20 576.70)" text-anchor="middle">3</text>
<text transform="matrix(1.13 0 0 1 707.40 576.70)" text-anchor="middle">4</text>
<text transform="matrix(1.13 0 0 1 732.60 576.70)" text-anchor="middle">5</text>
<text transform="matrix(1.13 0 0 1 757.80 576.70)" text-anchor="middle">6</text>
<text transform="matrix(1.13 0 0 1 783.00 576.70)" text-anchor="middle">7</text>
<text transform="matrix(1.13 0 0 1 808.20 576.70)" text-anchor="middle">8</text>
<text transform="matrix(1.13 0 0 1 576.90 553.02)" text-anchor="end">0.1</text>
<text transform="matrix(1.13 0 0 1 576.90 537.14)" text-anchor="end">0.2</text>
<text transform="matrix(1.13 0 0 1 576.90 521.26)" text-anchor="end">0.3</text>
<text transform="matrix(1.13 0 0 1 576.90 505.38)" text-anchor="end">0.4</text>
<text transform="matrix(1.13 0 0 1 576.90 489.50)" text-anchor="end">0.5</text>
<text transform="matrix(1.13 0 0 1 576.90 473.62)" text-anchor="end">0.6</text>
<text transform="matrix(1.13 0 0 1 576.90 457.74)" text-anchor="end">0.7</text>
<text transform="matrix(1.13 0 0 1 576.90 441.86)" text-anchor="end">0.8</text>
<text transform="matrix(1.13 0 0 1 576.90 425.98)" text-anchor="end">0.9</text>
<text transform="matrix(1.13 0 0 1 576.90 410.10)" text-anchor="end">1</text>
</g>
<text transform="matrix(1.13 0 0 1 582.60 406.20)" font-size="8.0" fill="#1e1a1b">(i) R99p</text>
<text x="701.50" y="586.40" font-size="8.6" fill="#1e1a1b" text-anchor="middle" textLength="43.3" lengthAdjust="spacingAndGlyphs">Change (<tspan font-style="italic">σ</tspan>)</text>
<text transform="translate(562.70,482.55) rotate(-90) scale(1,1.13)" font-size="8.7" fill="#1e1a1b" text-anchor="middle" textLength="25.6" lengthAdjust="spacingAndGlyphs">Density</text>
<rect x="776.20" y="405.70" width="39.0" height="29.1" fill="#fff" stroke="#b9b5b3" stroke-width="1"/>
<path d="M778.50,409.70H795.10" stroke="#0e0c0d" stroke-width="1.9"/>
<text class="lg" x="797.20" y="412.53" font-size="6.3" fill="#2a2627" textLength="14.9" lengthAdjust="spacingAndGlyphs">1.5°C</text>
<path d="M778.50,416.55H795.10" stroke="#47aeaa" stroke-width="1.9"/>
<text class="lg" x="797.20" y="419.38" font-size="6.3" fill="#2a2627" textLength="14.9" lengthAdjust="spacingAndGlyphs">2.0°C</text>
<path d="M778.50,423.40H795.10" stroke="#4d72b4" stroke-width="1.9"/>
<text class="lg" x="797.20" y="426.23" font-size="6.3" fill="#2a2627" textLength="14.9" lengthAdjust="spacingAndGlyphs">3.0°C</text>
<path d="M778.50,430.25H795.10" stroke="#311f4c" stroke-width="1.9"/>
<text class="lg" x="797.20" y="433.08" font-size="6.3" fill="#2a2627" textLength="14.9" lengthAdjust="spacingAndGlyphs">4.0°C</text>
<path d="M830.5,570.3V587.6" stroke="#111" stroke-width="1.3"/>
<path d="M833.5,577.5L831.6,581L833.5,584.5" stroke="#9a9898" stroke-width="1" fill="none"/>
</g></svg></body></html>
